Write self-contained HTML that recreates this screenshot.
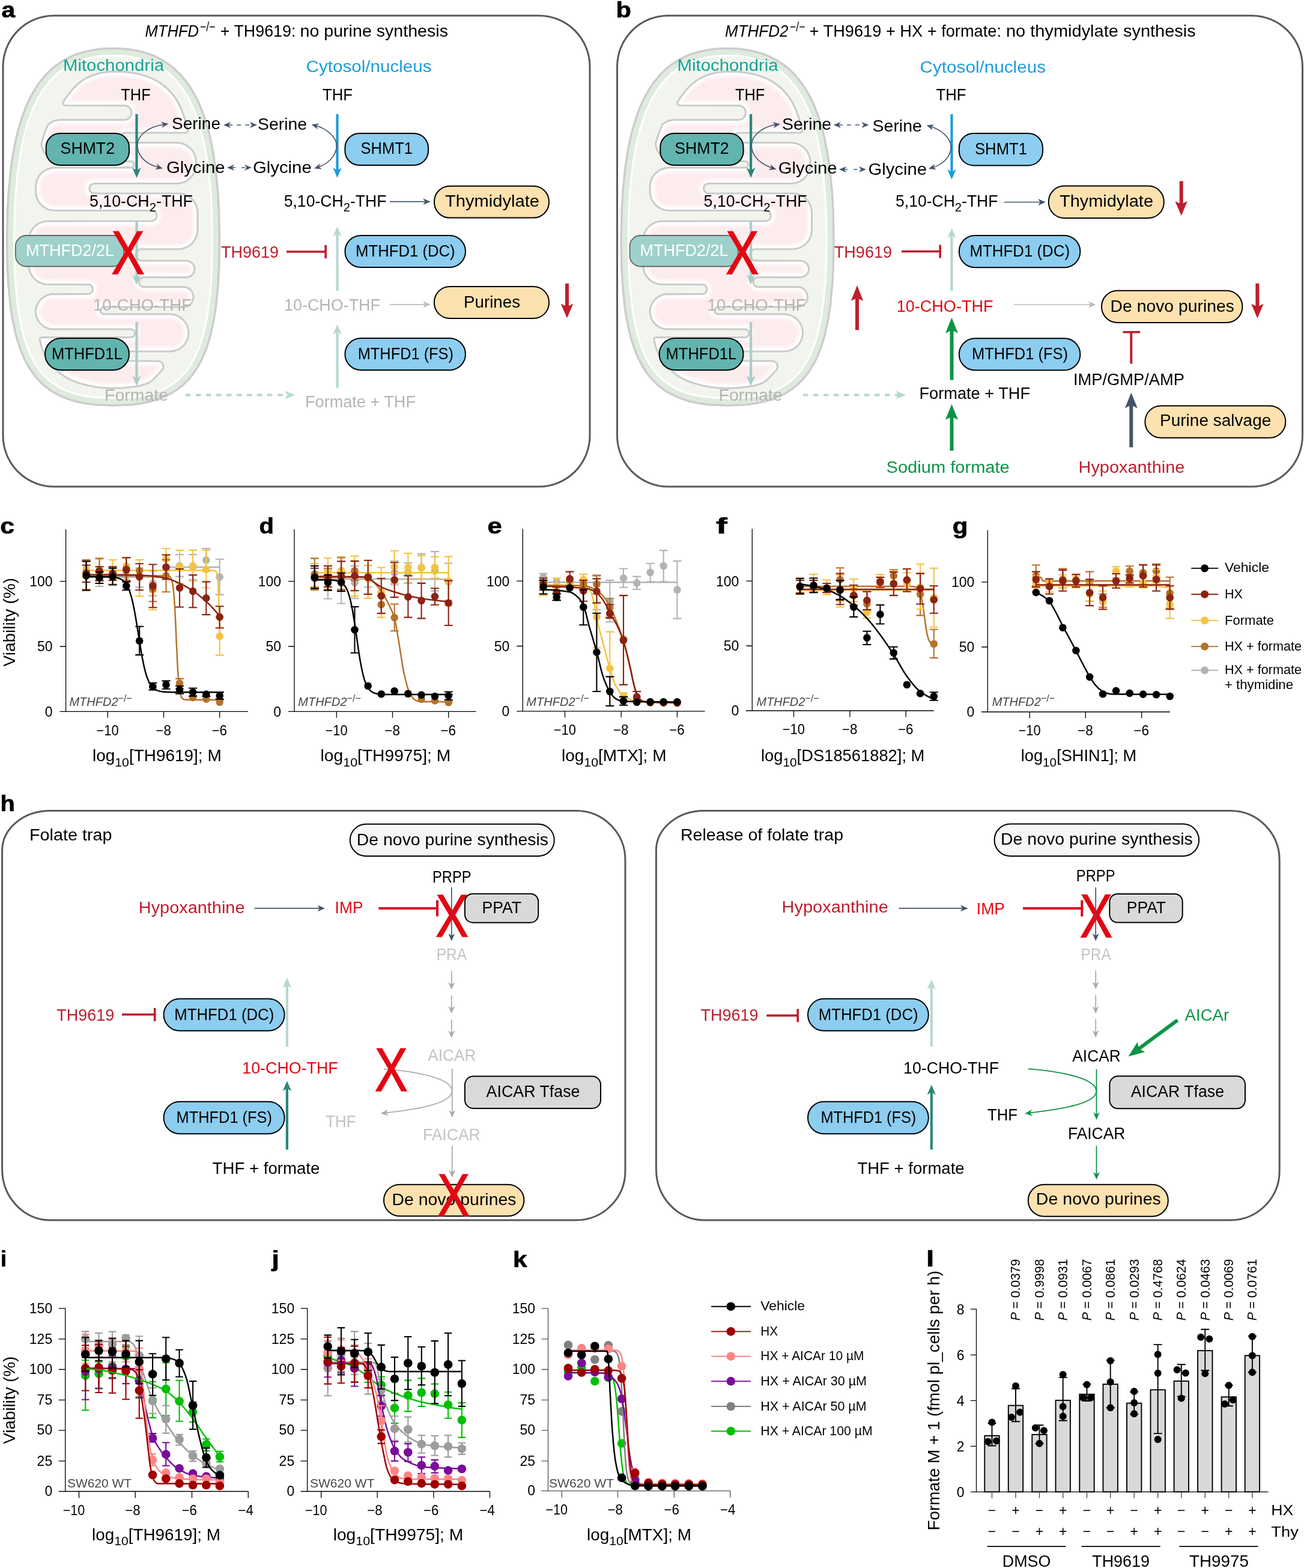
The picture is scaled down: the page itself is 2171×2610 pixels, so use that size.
<!DOCTYPE html>
<html lang="en"><head><meta charset="utf-8"><title>Figure</title>
<style>
html,body{margin:0;padding:0;background:#fff}
svg{display:block}
text{font-family:"Liberation Sans",sans-serif;white-space:pre}
</style></head><body>
<svg width="2171" height="2610" viewBox="0 0 2171 2610">
<rect width="2171" height="2610" fill="#fff"/>
<rect x="5" y="26" width="977" height="784" rx="85" ry="85" fill="#fff" stroke="#595959" stroke-width="3"/>
<text xml:space="preserve" x="2.4" y="28.6" font-size="36" fill="#000" font-weight="bold" stroke="#000" stroke-width="0.7" textLength="22.6" lengthAdjust="spacingAndGlyphs">a</text>
<text xml:space="preserve" x="241.5" y="60.8" font-size="27.5" fill="#000" font-style="italic" textLength="89.6" lengthAdjust="spacingAndGlyphs">MTHFD</text>
<text xml:space="preserve" x="333" y="51.5" font-size="22" fill="#000" textLength="25.6" lengthAdjust="spacingAndGlyphs">−/−</text>
<text xml:space="preserve" x="366.8" y="60.8" font-size="27.5" fill="#000" textLength="125.6" lengthAdjust="spacingAndGlyphs">+ TH9619:</text>
<text xml:space="preserve" x="499.5" y="60.8" font-size="27.5" fill="#000" textLength="246.5" lengthAdjust="spacingAndGlyphs">no purine synthesis</text>
<g transform="translate(0 0)">
<path d="M188.5,80.5 L207.0,81.3 L215.8,82.2 L232.7,85.3 L248.5,89.9 L256.0,92.9 L270.1,99.9 L283.3,108.7 L289.5,113.6 L301.0,124.9 L311.6,137.8 L316.5,144.9 L325.6,160.4 L333.8,177.7 L340.9,196.8 L347.1,217.8 L349.9,228.9 L354.7,252.6 L358.6,278.2 L362.8,320.2 L364.5,350.6 L365.5,400.0 L364.7,445.2 L363.2,472.7 L359.5,510.2 L356.0,532.7 L351.6,553.3 L349.1,563.0 L343.3,580.9 L336.6,597.0 L332.9,604.5 L324.6,618.1 L315.3,630.1 L304.9,640.6 L293.4,649.5 L287.2,653.5 L273.9,660.3 L259.4,665.7 L251.7,668.0 L235.3,671.5 L217.6,673.7 L188.5,675.0 L159.4,673.7 L141.7,671.5 L125.3,668.0 L117.6,665.7 L103.1,660.3 L89.8,653.5 L83.6,649.5 L72.1,640.6 L61.7,630.1 L56.9,624.3 L48.1,611.5 L40.4,597.0 L33.7,580.9 L27.9,563.0 L25.4,553.3 L21.0,532.7 L17.5,510.2 L13.8,472.7 L12.3,445.2 L11.5,400.0 L12.5,350.6 L14.2,320.2 L18.4,278.2 L22.3,252.6 L27.1,228.9 L29.9,217.8 L36.1,196.8 L43.2,177.7 L51.4,160.4 L60.5,144.9 L65.4,137.8 L76.0,124.9 L87.5,113.6 L93.7,108.7 L106.9,99.9 L121.0,92.9 L128.5,89.9 L144.3,85.3 L161.2,82.2 L170.0,81.3Z" fill="#deebdd" stroke="#cccccc" stroke-width="3.4" />
<path d="M188.5,92.5 L171.0,93.2 L162.7,94.1 L147.1,97.0 L132.6,101.3 L125.7,103.9 L112.9,110.3 L101.0,118.2 L95.4,122.7 L84.8,133.0 L75.1,144.9 L70.5,151.5 L62.0,166.0 L54.3,182.4 L50.8,191.3 L44.4,210.5 L38.8,231.6 L36.3,242.9 L32.1,267.0 L28.7,293.1 L26.1,321.1 L24.4,351.1 L23.5,400.0 L24.3,444.7 L25.7,471.8 L29.4,508.6 L32.8,530.5 L37.0,550.5 L42.1,568.5 L48.0,584.5 L51.2,591.9 L58.4,605.3 L66.4,617.0 L70.7,622.2 L80.0,631.6 L90.4,639.6 L101.8,646.4 L107.9,649.3 L121.2,654.3 L128.4,656.3 L143.7,659.6 L160.5,661.8 L188.5,663.0 L216.5,661.8 L233.3,659.6 L248.6,656.3 L255.8,654.3 L269.1,649.3 L275.2,646.4 L286.6,639.6 L297.0,631.6 L306.3,622.2 L310.6,617.0 L318.6,605.3 L325.8,591.9 L329.0,584.5 L334.9,568.5 L340.0,550.5 L344.2,530.5 L347.6,508.6 L351.3,471.8 L352.7,444.7 L353.5,400.0 L352.6,351.1 L350.9,321.1 L348.3,293.1 L344.9,267.0 L340.7,242.9 L338.2,231.6 L332.6,210.5 L326.2,191.3 L322.7,182.4 L315.0,166.0 L306.5,151.5 L301.9,144.9 L292.2,133.0 L281.6,122.7 L276.0,118.2 L264.1,110.3 L251.3,103.9 L244.4,101.3 L229.9,97.0 L214.3,94.1 L206.0,93.2Z" fill="#f1f5ee" stroke="#ffffff" stroke-width="3" />
<path d="M69.0,238.5 L69.4,242.9 L71.1,248.5 L72.6,251.8 L76.1,256.9 L80.2,261.1 L83.1,263.2 L88.6,266.1 L94.2,267.8 L100.8,268.5 L218.3,268.5 L220.3,268.9 L222.0,270.0 L223.1,271.7 L223.5,273.6 L223.2,275.4 L222.2,277.2 L220.6,278.5 L218.6,279.0 L91.4,279.0 L85.0,279.7 L76.6,282.7 L71.0,286.4 L66.9,290.5 L64.8,293.4 L62.0,298.5 L60.8,301.9 L59.5,310.9 L59.7,321.9 L60.8,327.6 L62.0,330.9 L64.8,336.1 L66.9,338.9 L71.0,343.1 L73.9,345.2 L79.0,348.0 L82.4,349.2 L91.4,350.5 L253.1,350.5 L256.2,351.5 L258.6,353.2 L260.3,355.9 L261.0,359.2 L260.3,362.6 L258.4,365.4 L255.6,367.3 L252.3,368.0 L76.7,368.2 L70.6,369.4 L64.8,371.9 L59.6,375.4 L55.4,379.6 L53.3,382.4 L50.5,387.6 L49.3,390.9 L48.2,396.7 L48.0,441.4 L48.6,447.6 L50.4,453.6 L53.3,459.1 L57.3,464.0 L62.0,468.0 L65.1,469.8 L70.9,472.2 L76.7,473.3 L148.8,473.6 L150.3,474.2 L152.7,476.4 L153.9,478.5 L154.5,480.7 L154.2,483.8 L152.8,486.4 L150.8,488.2 L147.9,489.4 L86.1,489.6 L80.0,490.8 L72.4,494.5 L67.9,498.2 L63.1,504.8 L60.8,510.1 L59.6,516.0 L59.7,521.8 L60.8,527.5 L64.3,534.8 L68.0,539.3 L72.3,542.9 L75.2,544.6 L80.4,546.8 L86.0,547.9 L217.9,548.0 L220.4,548.5 L222.5,549.9 L223.9,551.7 L224.6,554.1 L224.3,556.7 L222.9,559.2 L220.6,560.9 L217.9,561.5 L69.3,561.6 L67.9,562.2 L66.8,563.3 L66.3,566.2 L69.2,577.5 L73.2,587.8 L75.9,593.1 L82.0,602.6 L89.2,611.3 L97.4,619.2 L106.3,625.8 L111.3,629.0 L121.2,633.8 L132.0,637.7 L148.3,642.0 L159.5,644.1 L170.7,645.5 L187.3,646.3 L204.2,645.8 L221.1,644.0 L232.7,642.1 L243.9,638.8 L248.6,636.5 L253.5,633.0 L257.4,629.4 L270.2,615.7 L271.5,613.2 L272.0,610.1 L271.5,607.2 L270.1,604.5 L267.4,602.1 L263.6,601.0 L211.3,600.8 L207.9,599.2 L205.6,596.0 L205.0,592.2 L206.3,588.6 L208.7,586.3 L212.2,585.0 L283.1,585.0 L289.3,584.3 L297.4,581.4 L302.5,578.1 L306.9,573.8 L310.4,568.5 L312.7,562.8 L313.9,556.9 L313.8,550.7 L311.7,542.4 L308.9,537.0 L305.0,532.2 L300.3,528.3 L294.7,525.3 L288.8,523.6 L282.9,523.0 L172.6,523.0 L170.0,522.2 L168.0,520.3 L167.1,518.0 L167.3,515.3 L169.3,512.3 L171.1,511.3 L173.0,511.0 L306.7,510.9 L311.9,509.6 L314.7,508.1 L317.3,505.9 L319.9,502.4 L321.3,499.0 L322.0,494.5 L321.6,490.9 L320.6,487.7 L318.3,483.8 L315.7,481.2 L311.8,478.9 L308.7,478.0 L305.2,477.6 L238.7,477.6 L235.7,476.7 L233.4,474.8 L232.0,472.5 L231.5,469.4 L232.1,466.5 L233.7,464.1 L235.9,462.5 L238.7,461.6 L310.1,461.6 L315.3,460.6 L318.1,459.1 L321.0,456.4 L322.8,453.3 L323.8,450.3 L323.9,446.7 L323.3,443.6 L321.8,440.3 L319.1,437.3 L315.3,435.0 L310.3,434.0 L234.6,433.9 L231.1,432.8 L228.2,430.4 L226.4,427.1 L226.0,423.5 L226.7,420.6 L228.3,418.0 L231.0,415.8 L233.8,414.8 L300.0,414.5 L303.5,413.9 L309.1,412.2 L312.3,410.7 L317.1,407.5 L321.6,403.0 L325.1,397.9 L327.5,392.1 L328.4,388.6 L329.0,382.5 L329.0,354.1 L328.8,350.6 L327.7,344.9 L326.5,341.5 L323.7,336.4 L321.6,333.5 L317.5,329.4 L311.9,325.7 L306.5,323.5 L303.1,322.6 L296.9,322.0 L156.4,322.0 L153.2,321.0 L150.7,319.0 L149.2,316.1 L148.9,312.8 L149.7,310.0 L151.2,307.9 L153.7,306.2 L156.3,305.5 L294.6,305.5 L300.6,304.9 L306.5,303.1 L309.8,301.6 L314.9,298.1 L321.0,291.5 L324.1,285.5 L326.3,276.8 L326.4,266.5 L325.0,260.0 L321.2,251.9 L316.9,246.7 L309.8,241.4 L303.6,238.8 L294.6,237.5 L207.4,237.5 L204.5,236.6 L202.4,235.1 L200.7,232.6 L200.0,230.1 L200.4,226.8 L201.9,224.0 L204.4,222.0 L207.5,221.0 L309.1,221.0 L310.9,220.6 L312.7,218.7 L313.0,216.0 L307.7,197.5 L301.9,181.5 L297.0,171.3 L291.1,161.9 L287.5,157.2 L280.0,148.9 L275.6,144.9 L266.6,138.0 L257.0,132.4 L251.7,129.9 L241.2,126.0 L230.3,123.1 L219.2,120.9 L207.9,119.6 L196.6,119.0 L185.3,119.2 L174.1,120.3 L163.1,122.5 L152.2,126.0 L142.2,130.8 L137.1,134.0 L128.5,140.8 L120.5,149.1 L110.2,162.4 L105.1,170.1 L104.9,172.0 L105.6,173.8 L107.1,175.1 L108.9,175.5 L209.3,175.7 L211.8,176.5 L214.6,178.2 L216.9,180.7 L218.1,183.1 L218.9,186.3 L218.8,189.7 L218.0,192.3 L216.3,195.1 L212.5,198.2 L209.5,199.2 L207.1,199.5 L100.8,199.5 L97.3,199.7 L91.6,200.8 L85.5,203.4 L80.2,207.2 L74.6,220.5Z" fill="#ffffff" stroke="#cbcbcb" stroke-width="3.1" stroke-linejoin="round"/>
<path d="M53.6,397.5 L53.5,441.3 L54.0,446.6 L55.5,451.6 L57.9,456.2 L63.2,462.0 L69.9,466.0 L77.5,467.9 L149.6,468.1 L153.1,469.5 L156.6,472.6 L158.8,476.0 L159.9,479.7 L159.6,484.6 L157.6,489.1 L154.0,492.7 L149.4,494.7 L146.5,495.0 L86.5,495.1 L81.8,496.0 L75.6,499.0 L72.0,501.9 L69.0,505.6 L66.0,511.8 L65.1,516.5 L65.1,521.1 L66.8,527.8 L69.0,532.0 L73.6,537.1 L77.5,539.7 L81.8,541.5 L88.8,542.5 L219.1,542.6 L222.8,543.6 L226.2,545.8 L228.6,548.8 L229.9,552.5 L229.8,557.5 L227.6,562.2 L223.8,565.5 L219.0,566.9 L72.1,567.0 L74.4,575.8 L78.3,585.6 L83.4,594.9 L89.7,603.5 L97.0,611.4 L105.0,618.2 L109.4,621.4 L118.5,626.6 L128.4,630.7 L138.8,634.0 L149.5,636.6 L160.3,638.6 L171.2,640.0 L187.4,640.8 L198.4,640.6 L214.9,639.2 L226.0,637.7 L236.9,635.5 L245.3,632.1 L249.8,628.9 L253.4,625.6 L265.8,612.4 L266.5,609.6 L265.3,607.3 L262.8,606.5 L213.0,606.5 L208.9,605.9 L206.2,604.7 L203.8,602.9 L201.8,600.5 L200.5,598.0 L199.7,595.2 L199.5,592.0 L200.1,589.1 L201.3,586.4 L203.1,583.8 L205.5,581.8 L208.3,580.4 L211.7,579.6 L282.9,579.5 L288.0,579.0 L295.0,576.5 L299.1,573.7 L302.7,570.1 L305.5,566.0 L308.0,559.0 L308.5,553.9 L308.0,549.0 L305.5,542.0 L302.7,537.9 L299.2,534.3 L295.1,531.5 L290.3,529.6 L285.4,528.6 L171.1,528.3 L166.6,526.6 L163.4,523.3 L161.7,518.9 L161.9,514.1 L163.3,510.9 L165.6,508.2 L168.6,506.4 L172.0,505.5 L305.2,505.5 L309.5,504.7 L313.3,502.2 L315.1,499.6 L316.0,497.5 L316.5,494.4 L316.3,492.0 L315.2,489.1 L313.9,487.1 L311.6,485.0 L309.5,483.9 L305.2,483.1 L237.0,482.9 L232.7,481.3 L229.1,478.2 L226.7,473.8 L226.0,469.1 L227.0,464.6 L229.3,460.8 L233.0,457.8 L237.3,456.3 L310.0,456.1 L312.7,455.7 L314.8,454.7 L316.6,453.1 L318.3,449.4 L318.1,445.3 L317.1,443.2 L315.5,441.4 L312.7,439.9 L310.1,439.5 L232.7,439.2 L227.6,437.2 L223.8,433.7 L221.2,428.7 L220.5,423.3 L221.7,418.5 L224.2,414.4 L228.1,411.1 L232.6,409.4 L235.7,409.1 L299.5,409.0 L307.1,407.1 L313.8,403.1 L317.4,399.5 L320.3,395.1 L323.0,387.7 L323.5,382.4 L323.5,354.2 L322.3,346.3 L319.0,339.2 L313.9,333.6 L309.4,330.6 L302.1,328.0 L296.8,327.5 L155.7,327.4 L150.6,325.9 L146.6,322.7 L144.0,318.2 L143.3,313.3 L144.3,308.5 L147.0,304.4 L150.7,301.6 L155.4,300.1 L297.0,299.9 L302.2,298.8 L307.0,296.8 L311.4,293.9 L315.0,290.3 L317.9,285.9 L320.5,278.7 L321.0,273.3 L320.5,264.4 L319.0,259.4 L316.5,254.7 L311.4,249.1 L306.9,246.1 L299.7,243.5 L294.4,243.0 L206.8,242.9 L203.0,241.9 L199.5,239.9 L196.8,236.9 L195.1,233.3 L194.6,230.5 L194.6,227.5 L195.4,224.4 L196.6,221.9 L200.6,217.8 L203.1,216.5 L206.0,215.7 L307.2,215.5 L300.8,193.9 L296.9,183.7 L292.3,174.1 L286.6,165.0 L283.3,160.7 L276.1,152.8 L272.1,149.2 L267.9,145.7 L259.1,139.8 L254.4,137.2 L244.6,133.0 L234.3,129.7 L223.7,127.3 L212.9,125.6 L202.0,124.7 L191.1,124.5 L180.3,125.1 L164.4,127.8 L154.3,131.1 L149.4,133.2 L140.4,138.4 L136.2,141.5 L132.1,145.0 L124.7,152.6 L117.9,161.1 L111.6,170.0 L206.9,170.0 L210.7,170.4 L214.8,171.9 L218.1,174.0 L220.7,176.7 L223.0,180.4 L224.2,184.1 L224.5,187.8 L223.9,192.1 L222.4,195.7 L219.7,199.5 L216.7,202.1 L212.5,204.1 L208.6,204.9 L100.9,205.0 L95.6,205.5 L90.6,207.0 L84.8,210.3 L79.8,222.3 L74.8,238.2 L74.4,239.7 L75.3,244.1 L78.7,251.3 L83.8,256.9 L88.2,259.8 L93.1,261.9 L98.2,262.9 L220.2,263.2 L224.6,265.1 L227.7,268.7 L229.0,273.1 L228.2,277.9 L226.6,280.5 L224.5,282.5 L221.8,283.9 L218.9,284.5 L91.7,284.5 L86.3,285.0 L81.3,286.5 L76.8,288.9 L71.0,294.2 L68.1,298.6 L66.2,303.3 L65.0,311.1 L65.5,323.6 L68.2,331.0 L71.1,335.4 L74.7,339.0 L79.1,341.9 L83.9,343.9 L91.7,345.0 L254.1,345.1 L257.7,346.1 L261.2,348.1 L263.8,351.0 L265.5,354.1 L266.4,357.8 L266.3,361.7 L265.2,365.1 L263.1,368.5 L260.9,370.5 L258.1,372.2 L255.2,373.2 L252.4,373.5 L77.3,373.6 L72.4,374.6 L67.6,376.6 L61.2,381.3 L57.9,385.3 L55.5,389.8Z" fill="#fef4f5" stroke="none" stroke-width="1.5" />
<path d="M57.5,441.3 L58.5,448.0 L61.3,454.0 L65.7,458.9 L69.4,461.3 L73.5,463.0 L80.2,464.0 L150.1,464.2 L154.7,465.7 L158.9,469.1 L161.9,473.2 L163.6,477.8 L163.8,484.3 L161.6,490.3 L159.8,492.9 L157.3,495.3 L154.5,497.0 L151.3,498.3 L146.6,499.0 L86.8,499.1 L83.0,499.9 L77.8,502.3 L73.5,506.2 L71.3,509.4 L69.4,514.9 L69.0,518.7 L69.4,522.6 L71.3,528.0 L74.8,532.7 L77.8,535.2 L83.0,537.6 L89.0,538.5 L219.4,538.6 L224.1,539.7 L228.0,542.0 L231.1,545.4 L233.2,549.4 L234.0,552.9 L234.0,556.4 L233.3,559.9 L231.7,563.2 L229.5,566.1 L226.9,568.3 L223.7,569.9 L220.1,570.8 L77.2,571.0 L79.9,579.3 L84.2,588.4 L86.8,592.7 L92.7,600.9 L99.7,608.4 L107.5,615.1 L115.9,620.6 L120.3,623.0 L129.8,627.0 L145.1,631.5 L160.9,634.7 L176.8,636.5 L187.4,636.8 L203.5,636.3 L219.9,634.6 L235.8,631.6 L243.5,628.5 L247.2,625.9 L262.1,610.5 L212.6,610.5 L209.0,610.0 L205.3,608.7 L201.9,606.5 L199.1,603.6 L196.9,599.9 L195.8,596.0 L195.5,591.9 L196.3,587.9 L197.9,584.2 L200.6,580.6 L205.7,577.1 L211.7,575.6 L285.1,575.4 L289.2,574.6 L293.1,573.0 L296.6,570.6 L300.9,566.0 L302.8,562.2 L304.4,556.1 L304.4,551.9 L303.6,547.8 L302.0,543.9 L298.2,538.8 L293.1,535.1 L289.3,533.4 L282.8,532.5 L171.2,532.4 L166.3,531.0 L162.0,527.9 L158.9,523.5 L157.6,518.5 L158.2,512.5 L160.9,507.4 L165.3,503.5 L170.8,501.7 L305.1,501.5 L307.4,501.2 L309.3,500.3 L310.9,498.9 L312.2,496.4 L312.5,493.6 L311.3,490.3 L309.3,488.3 L306.0,487.1 L239.5,487.1 L234.4,486.3 L229.4,483.9 L225.3,479.9 L222.8,474.7 L222.0,469.4 L223.0,463.9 L225.7,458.8 L229.8,455.1 L234.8,452.7 L239.5,452.1 L310.6,452.1 L312.9,451.1 L314.3,449.1 L314.3,446.6 L312.9,444.5 L310.0,443.5 L235.8,443.5 L231.9,443.1 L228.6,442.1 L225.6,440.6 L220.9,436.5 L218.9,433.6 L217.5,430.5 L216.5,424.3 L217.5,418.1 L220.6,412.4 L225.0,408.3 L230.8,405.8 L235.7,405.1 L299.2,405.0 L305.6,403.4 L311.3,400.0 L315.7,395.1 L317.8,391.2 L319.1,387.0 L319.5,382.4 L319.5,354.2 L319.1,349.6 L316.8,343.4 L312.9,338.1 L309.5,335.3 L305.6,333.2 L301.4,331.9 L296.8,331.5 L154.9,331.4 L149.3,329.7 L144.5,326.3 L141.2,321.7 L139.5,316.1 L139.8,309.7 L140.8,306.6 L142.7,303.4 L144.8,300.9 L147.5,298.8 L150.5,297.3 L154.0,296.3 L296.7,295.9 L301.0,295.0 L305.1,293.3 L310.4,289.4 L313.2,286.0 L315.3,282.1 L316.9,275.7 L316.9,267.3 L316.0,263.0 L314.3,258.9 L311.9,255.2 L307.0,250.8 L303.1,248.7 L298.9,247.4 L294.3,247.0 L206.3,246.9 L201.5,245.6 L197.2,243.1 L193.9,239.6 L191.6,235.4 L190.7,231.6 L190.6,227.9 L191.3,224.1 L192.6,220.9 L194.7,217.8 L197.5,215.1 L200.9,213.1 L204.5,211.9 L208.3,211.5 L301.9,211.5 L295.2,190.2 L291.1,180.6 L286.2,171.6 L280.2,163.3 L273.3,155.7 L265.5,148.9 L261.3,146.0 L257.0,143.3 L248.0,138.7 L238.3,135.1 L228.1,132.3 L212.4,129.6 L201.8,128.7 L191.2,128.5 L175.5,129.7 L160.5,133.1 L151.2,136.8 L146.8,139.1 L142.6,141.7 L134.9,147.9 L127.7,155.2 L119.3,166.0 L207.0,166.0 L213.2,166.9 L217.3,168.7 L221.1,171.3 L224.6,175.2 L226.9,179.3 L228.1,183.5 L228.5,188.2 L227.7,193.3 L226.0,197.6 L223.2,201.6 L219.0,205.4 L213.9,207.9 L209.1,208.9 L100.9,209.0 L94.2,210.0 L88.0,213.0 L83.6,223.7 L80.2,233.9 L78.5,239.9 L79.9,245.1 L82.0,249.0 L84.8,252.4 L88.2,255.2 L92.1,257.3 L98.5,258.9 L221.1,259.3 L224.1,260.2 L227.0,261.9 L229.4,264.1 L231.2,266.8 L232.4,269.7 L233.0,273.0 L232.8,276.2 L232.0,279.2 L229.9,282.8 L227.0,285.6 L223.3,287.6 L219.3,288.5 L91.7,288.5 L87.1,288.9 L82.9,290.2 L79.0,292.3 L75.6,295.1 L72.8,298.5 L70.7,302.4 L69.4,306.6 L69.0,318.3 L70.0,325.0 L71.7,329.1 L74.1,332.8 L77.2,335.9 L80.9,338.3 L85.0,340.0 L89.3,340.9 L252.2,341.0 L256.9,341.6 L261.1,343.3 L264.7,345.9 L267.4,349.1 L269.3,352.9 L270.4,357.0 L270.4,361.3 L269.3,365.8 L267.3,369.6 L264.3,372.9 L260.9,375.3 L257.1,376.8 L252.8,377.5 L80.2,377.5 L73.5,378.5 L69.4,380.2 L64.1,384.1 L61.3,387.5 L58.5,393.5 L57.5,400.2Z" fill="#fdecee" stroke="none" stroke-width="1.5" />
</g>
<text xml:space="preserve" x="105" y="118" font-size="27" fill="#12a597" textLength="168" lengthAdjust="spacingAndGlyphs">Mitochondria</text>
<text xml:space="preserve" x="201.3" y="167.4" font-size="27" fill="#000" textLength="49.4" lengthAdjust="spacingAndGlyphs">THF</text>
<line x1="227.5" y1="190" x2="227.5" y2="284.37" stroke="#2a877b" stroke-width="4.2"/>
<polygon points="227.5,296 220.25,279 227.5,283.76 234.75,279" fill="#2a877b"/>
<path d="M228.3,244 C228.3,222 252.3,210 273.37,207.01" fill="none" stroke="#44546a" stroke-width="1.6" />
<polygon points="280.5,206 269.32,212.64 272.18,207.18 267.92,202.73" fill="#44546a"/>
<path d="M228.3,240 C228.3,262 246.3,274 264.04,278.67" fill="none" stroke="#44546a" stroke-width="1.6" />
<polygon points="271,280.5 258.12,282.28 262.88,278.36 260.67,272.61" fill="#44546a"/>
<rect x="76.7" y="222" width="138.3" height="53" rx="23" ry="23" fill="#62b4ae" stroke="#000" stroke-width="2"/>
<text xml:space="preserve" x="100.6" y="256" font-size="27" fill="#000" textLength="90.4" lengthAdjust="spacingAndGlyphs">SHMT2</text>
<text xml:space="preserve" x="286" y="214.6" font-size="27" fill="#000" textLength="81" lengthAdjust="spacingAndGlyphs">Serine</text>
<text xml:space="preserve" x="277" y="287.6" font-size="27" fill="#000" textLength="97.5" lengthAdjust="spacingAndGlyphs">Glycine</text>
<text xml:space="preserve" x="149" y="343.5" font-size="27" fill="#000" textLength="99.71" lengthAdjust="spacingAndGlyphs">5,10-CH</text>
<text xml:space="preserve" x="248.71" y="351.87" font-size="20.52" fill="#000" textLength="11.32" lengthAdjust="spacingAndGlyphs">2</text>
<text xml:space="preserve" x="260.03" y="343.5" font-size="27" fill="#000" textLength="60.97" lengthAdjust="spacingAndGlyphs">-THF</text>
<line x1="227.5" y1="368" x2="227.5" y2="462.37" stroke="#a9cdc8" stroke-width="4.2"/>
<polygon points="227.5,474 220.25,457 227.5,461.76 234.75,457" fill="#a9cdc8"/>
<rect x="25.8" y="392" width="180.2" height="51.5" rx="18" ry="18" fill="#9ed1cb" stroke="#666" stroke-width="1.8"/>
<text xml:space="preserve" x="43" y="426" font-size="27" fill="#fff" textLength="147" lengthAdjust="spacingAndGlyphs">MTHFD2/2L</text>
<text transform="translate(185.55 456) scale(0.81 1)" x="0" y="0" font-size="101.74" fill="#e30613" stroke="#e30613" stroke-width="1.6" stroke-linejoin="miter">X</text>
<text xml:space="preserve" x="155" y="516.8" font-size="27" fill="#b4b4b4" textLength="164" lengthAdjust="spacingAndGlyphs">10-CHO-THF</text>
<line x1="227.5" y1="536" x2="227.5" y2="630.87" stroke="#a9cdc8" stroke-width="4.2"/>
<polygon points="227.5,642.5 220.25,625.5 227.5,630.26 234.75,625.5" fill="#a9cdc8"/>
<rect x="75" y="563" width="140" height="53" rx="26.5" ry="26.5" fill="#62b4ae" stroke="#000" stroke-width="2"/>
<text xml:space="preserve" x="86" y="597.5" font-size="27" fill="#000" textLength="117.6" lengthAdjust="spacingAndGlyphs">MTHFD1L</text>
<text xml:space="preserve" x="174" y="666.7" font-size="27" fill="#b4b4b4" textLength="106" lengthAdjust="spacingAndGlyphs">Formate</text>
<line x1="380.21" y1="208" x2="419.79" y2="208" stroke="#44546a" stroke-width="1.7" stroke-dasharray="7 7"/>
<polygon points="428,208 416,213 419.36,208 416,203" fill="#44546a"/>
<polygon points="372,208 384,203 380.64,208 384,213" fill="#44546a"/>
<line x1="386.21" y1="279" x2="410.79" y2="279" stroke="#44546a" stroke-width="1.7" stroke-dasharray="6 10"/>
<polygon points="419,279 407,284 410.36,279 407,274" fill="#44546a"/>
<polygon points="378,279 390,274 386.64,279 390,284" fill="#44546a"/>
<line x1="309" y1="657.6" x2="478" y2="657.6" stroke="#b5d8d3" stroke-width="4" stroke-linecap="butt" stroke-dasharray="8.5 8.5"/>
<polygon points="491,657.6 474,664.6 478.76,657.6 474,650.6" fill="#b5d8d3"/>
<text xml:space="preserve" x="509.6" y="119.6" font-size="27" fill="#1b9ddb" textLength="208.9" lengthAdjust="spacingAndGlyphs">Cytosol/nucleus</text>
<text xml:space="preserve" x="537" y="167.4" font-size="27" fill="#000" textLength="50" lengthAdjust="spacingAndGlyphs">THF</text>
<line x1="561.5" y1="190" x2="561.5" y2="284.37" stroke="#1b9ddb" stroke-width="4.2"/>
<polygon points="561.5,296 554.25,279 561.5,283.76 568.75,279" fill="#1b9ddb"/>
<path d="M560.7,244 C560.7,226 540.7,213 525.59,209.24" fill="none" stroke="#44546a" stroke-width="1.6" />
<polygon points="518.6,207.5 531.45,205.55 526.75,209.53 529.04,215.25" fill="#44546a"/>
<path d="M560.7,240 C560.7,262 542.7,274 529.84,278.24" fill="none" stroke="#44546a" stroke-width="1.6" />
<polygon points="523,280.5 532.83,271.99 530.98,277.87 535.96,281.49" fill="#44546a"/>
<text xml:space="preserve" x="429" y="216" font-size="27" fill="#000" textLength="82" lengthAdjust="spacingAndGlyphs">Serine</text>
<text xml:space="preserve" x="421" y="287.6" font-size="27" fill="#000" textLength="97.7" lengthAdjust="spacingAndGlyphs">Glycine</text>
<rect x="574.4" y="222" width="138.6" height="53" rx="24" ry="24" fill="#8ccdf0" stroke="#000" stroke-width="2"/>
<text xml:space="preserve" x="600.6" y="256" font-size="27" fill="#000" textLength="86.4" lengthAdjust="spacingAndGlyphs">SHMT1</text>
<text xml:space="preserve" x="472.7" y="343.5" font-size="27" fill="#000" textLength="99.02" lengthAdjust="spacingAndGlyphs">5,10-CH</text>
<text xml:space="preserve" x="571.72" y="351.87" font-size="20.52" fill="#000" textLength="11.24" lengthAdjust="spacingAndGlyphs">2</text>
<text xml:space="preserve" x="582.96" y="343.5" font-size="27" fill="#000" textLength="60.54" lengthAdjust="spacingAndGlyphs">-THF</text>
<line x1="649" y1="335.7" x2="708.15" y2="335.7" stroke="#44546a" stroke-width="1.7"/>
<polygon points="716.7,335.7 704.2,341.1 707.7,335.7 704.2,330.3" fill="#44546a"/>
<rect x="723" y="309.7" width="191" height="52.9" rx="26" ry="26" fill="#fde1af" stroke="#000" stroke-width="2"/>
<text xml:space="preserve" x="741" y="343.5" font-size="27" fill="#000" textLength="157" lengthAdjust="spacingAndGlyphs">Thymidylate</text>
<text xml:space="preserve" x="368" y="428.6" font-size="27" fill="#be1e2d" textLength="96" lengthAdjust="spacingAndGlyphs">TH9619</text>
<line x1="477" y1="419" x2="544" y2="419" stroke="#be1e2d" stroke-width="3.6" stroke-linecap="butt"/>
<line x1="542.2" y1="408" x2="542.2" y2="430" stroke="#be1e2d" stroke-width="3.6" stroke-linecap="butt"/>
<line x1="561.5" y1="484" x2="561.5" y2="388.63" stroke="#b5d8d3" stroke-width="4.2"/>
<polygon points="561.5,377 568.75,394 561.5,389.24 554.25,394" fill="#b5d8d3"/>
<rect x="574.4" y="392" width="200.6" height="53" rx="26.5" ry="26.5" fill="#8ccdf0" stroke="#000" stroke-width="2"/>
<text xml:space="preserve" x="592" y="427" font-size="27" fill="#000" textLength="165.7" lengthAdjust="spacingAndGlyphs">MTHFD1 (DC)</text>
<text xml:space="preserve" x="473" y="516.8" font-size="27" fill="#b4b4b4" textLength="160" lengthAdjust="spacingAndGlyphs">10-CHO-THF</text>
<line x1="649" y1="506.8" x2="708.15" y2="506.8" stroke="#bcbcbc" stroke-width="1.7"/>
<polygon points="716.7,506.8 704.2,512.2 707.7,506.8 704.2,501.4" fill="#bcbcbc"/>
<rect x="723" y="477" width="191" height="53" rx="26" ry="26" fill="#fde1af" stroke="#000" stroke-width="2"/>
<text xml:space="preserve" x="772" y="511.6" font-size="27" fill="#000" textLength="94" lengthAdjust="spacingAndGlyphs">Purines</text>
<line x1="944" y1="472" x2="944" y2="511.36" stroke="#be1e2d" stroke-width="6"/>
<polygon points="944,529.6 933.75,505.6 944,510.4 954.25,505.6" fill="#be1e2d"/>
<line x1="561.5" y1="646" x2="561.5" y2="551.63" stroke="#b5d8d3" stroke-width="4.2"/>
<polygon points="561.5,540 568.75,557 561.5,552.24 554.25,557" fill="#b5d8d3"/>
<rect x="574.4" y="563" width="200.6" height="53" rx="26.5" ry="26.5" fill="#8ccdf0" stroke="#000" stroke-width="2"/>
<text xml:space="preserve" x="595.7" y="597.5" font-size="27" fill="#000" textLength="159.3" lengthAdjust="spacingAndGlyphs">MTHFD1 (FS)</text>
<text xml:space="preserve" x="508" y="677.6" font-size="27" fill="#b4b4b4" textLength="184" lengthAdjust="spacingAndGlyphs">Formate + THF</text>
<rect x="1027.5" y="26" width="1141" height="784" rx="85" ry="85" fill="#fff" stroke="#595959" stroke-width="3"/>
<text xml:space="preserve" x="1025.6" y="28.6" font-size="36" fill="#000" font-weight="bold" stroke="#000" stroke-width="0.7" textLength="25.4" lengthAdjust="spacingAndGlyphs">b</text>
<text xml:space="preserve" x="1207" y="60.8" font-size="27.5" fill="#000" font-style="italic" textLength="105.5" lengthAdjust="spacingAndGlyphs">MTHFD2</text>
<text xml:space="preserve" x="1315" y="51.5" font-size="22" fill="#000" textLength="25.5" lengthAdjust="spacingAndGlyphs">−/−</text>
<text xml:space="preserve" x="1347.6" y="60.8" font-size="27.5" fill="#000" textLength="319.4" lengthAdjust="spacingAndGlyphs">+ TH9619 + HX + formate:</text>
<text xml:space="preserve" x="1675" y="60.8" font-size="27.5" fill="#000" textLength="315.7" lengthAdjust="spacingAndGlyphs">no thymidylate synthesis</text>
<g transform="translate(1022.6 0)">
<path d="M188.5,80.5 L207.0,81.3 L215.8,82.2 L232.7,85.3 L248.5,89.9 L256.0,92.9 L270.1,99.9 L283.3,108.7 L289.5,113.6 L301.0,124.9 L311.6,137.8 L316.5,144.9 L325.6,160.4 L333.8,177.7 L340.9,196.8 L347.1,217.8 L349.9,228.9 L354.7,252.6 L358.6,278.2 L362.8,320.2 L364.5,350.6 L365.5,400.0 L364.7,445.2 L363.2,472.7 L359.5,510.2 L356.0,532.7 L351.6,553.3 L349.1,563.0 L343.3,580.9 L336.6,597.0 L332.9,604.5 L324.6,618.1 L315.3,630.1 L304.9,640.6 L293.4,649.5 L287.2,653.5 L273.9,660.3 L259.4,665.7 L251.7,668.0 L235.3,671.5 L217.6,673.7 L188.5,675.0 L159.4,673.7 L141.7,671.5 L125.3,668.0 L117.6,665.7 L103.1,660.3 L89.8,653.5 L83.6,649.5 L72.1,640.6 L61.7,630.1 L56.9,624.3 L48.1,611.5 L40.4,597.0 L33.7,580.9 L27.9,563.0 L25.4,553.3 L21.0,532.7 L17.5,510.2 L13.8,472.7 L12.3,445.2 L11.5,400.0 L12.5,350.6 L14.2,320.2 L18.4,278.2 L22.3,252.6 L27.1,228.9 L29.9,217.8 L36.1,196.8 L43.2,177.7 L51.4,160.4 L60.5,144.9 L65.4,137.8 L76.0,124.9 L87.5,113.6 L93.7,108.7 L106.9,99.9 L121.0,92.9 L128.5,89.9 L144.3,85.3 L161.2,82.2 L170.0,81.3Z" fill="#deebdd" stroke="#cccccc" stroke-width="3.4" />
<path d="M188.5,92.5 L171.0,93.2 L162.7,94.1 L147.1,97.0 L132.6,101.3 L125.7,103.9 L112.9,110.3 L101.0,118.2 L95.4,122.7 L84.8,133.0 L75.1,144.9 L70.5,151.5 L62.0,166.0 L54.3,182.4 L50.8,191.3 L44.4,210.5 L38.8,231.6 L36.3,242.9 L32.1,267.0 L28.7,293.1 L26.1,321.1 L24.4,351.1 L23.5,400.0 L24.3,444.7 L25.7,471.8 L29.4,508.6 L32.8,530.5 L37.0,550.5 L42.1,568.5 L48.0,584.5 L51.2,591.9 L58.4,605.3 L66.4,617.0 L70.7,622.2 L80.0,631.6 L90.4,639.6 L101.8,646.4 L107.9,649.3 L121.2,654.3 L128.4,656.3 L143.7,659.6 L160.5,661.8 L188.5,663.0 L216.5,661.8 L233.3,659.6 L248.6,656.3 L255.8,654.3 L269.1,649.3 L275.2,646.4 L286.6,639.6 L297.0,631.6 L306.3,622.2 L310.6,617.0 L318.6,605.3 L325.8,591.9 L329.0,584.5 L334.9,568.5 L340.0,550.5 L344.2,530.5 L347.6,508.6 L351.3,471.8 L352.7,444.7 L353.5,400.0 L352.6,351.1 L350.9,321.1 L348.3,293.1 L344.9,267.0 L340.7,242.9 L338.2,231.6 L332.6,210.5 L326.2,191.3 L322.7,182.4 L315.0,166.0 L306.5,151.5 L301.9,144.9 L292.2,133.0 L281.6,122.7 L276.0,118.2 L264.1,110.3 L251.3,103.9 L244.4,101.3 L229.9,97.0 L214.3,94.1 L206.0,93.2Z" fill="#f1f5ee" stroke="#ffffff" stroke-width="3" />
<path d="M69.0,238.5 L69.4,242.9 L71.1,248.5 L72.6,251.8 L76.1,256.9 L80.2,261.1 L83.1,263.2 L88.6,266.1 L94.2,267.8 L100.8,268.5 L218.3,268.5 L220.3,268.9 L222.0,270.0 L223.1,271.7 L223.5,273.6 L223.2,275.4 L222.2,277.2 L220.6,278.5 L218.6,279.0 L91.4,279.0 L85.0,279.7 L76.6,282.7 L71.0,286.4 L66.9,290.5 L64.8,293.4 L62.0,298.5 L60.8,301.9 L59.5,310.9 L59.7,321.9 L60.8,327.6 L62.0,330.9 L64.8,336.1 L66.9,338.9 L71.0,343.1 L73.9,345.2 L79.0,348.0 L82.4,349.2 L91.4,350.5 L253.1,350.5 L256.2,351.5 L258.6,353.2 L260.3,355.9 L261.0,359.2 L260.3,362.6 L258.4,365.4 L255.6,367.3 L252.3,368.0 L76.7,368.2 L70.6,369.4 L64.8,371.9 L59.6,375.4 L55.4,379.6 L53.3,382.4 L50.5,387.6 L49.3,390.9 L48.2,396.7 L48.0,441.4 L48.6,447.6 L50.4,453.6 L53.3,459.1 L57.3,464.0 L62.0,468.0 L65.1,469.8 L70.9,472.2 L76.7,473.3 L148.8,473.6 L150.3,474.2 L152.7,476.4 L153.9,478.5 L154.5,480.7 L154.2,483.8 L152.8,486.4 L150.8,488.2 L147.9,489.4 L86.1,489.6 L80.0,490.8 L72.4,494.5 L67.9,498.2 L63.1,504.8 L60.8,510.1 L59.6,516.0 L59.7,521.8 L60.8,527.5 L64.3,534.8 L68.0,539.3 L72.3,542.9 L75.2,544.6 L80.4,546.8 L86.0,547.9 L217.9,548.0 L220.4,548.5 L222.5,549.9 L223.9,551.7 L224.6,554.1 L224.3,556.7 L222.9,559.2 L220.6,560.9 L217.9,561.5 L69.3,561.6 L67.9,562.2 L66.8,563.3 L66.3,566.2 L69.2,577.5 L73.2,587.8 L75.9,593.1 L82.0,602.6 L89.2,611.3 L97.4,619.2 L106.3,625.8 L111.3,629.0 L121.2,633.8 L132.0,637.7 L148.3,642.0 L159.5,644.1 L170.7,645.5 L187.3,646.3 L204.2,645.8 L221.1,644.0 L232.7,642.1 L243.9,638.8 L248.6,636.5 L253.5,633.0 L257.4,629.4 L270.2,615.7 L271.5,613.2 L272.0,610.1 L271.5,607.2 L270.1,604.5 L267.4,602.1 L263.6,601.0 L211.3,600.8 L207.9,599.2 L205.6,596.0 L205.0,592.2 L206.3,588.6 L208.7,586.3 L212.2,585.0 L283.1,585.0 L289.3,584.3 L297.4,581.4 L302.5,578.1 L306.9,573.8 L310.4,568.5 L312.7,562.8 L313.9,556.9 L313.8,550.7 L311.7,542.4 L308.9,537.0 L305.0,532.2 L300.3,528.3 L294.7,525.3 L288.8,523.6 L282.9,523.0 L172.6,523.0 L170.0,522.2 L168.0,520.3 L167.1,518.0 L167.3,515.3 L169.3,512.3 L171.1,511.3 L173.0,511.0 L306.7,510.9 L311.9,509.6 L314.7,508.1 L317.3,505.9 L319.9,502.4 L321.3,499.0 L322.0,494.5 L321.6,490.9 L320.6,487.7 L318.3,483.8 L315.7,481.2 L311.8,478.9 L308.7,478.0 L305.2,477.6 L238.7,477.6 L235.7,476.7 L233.4,474.8 L232.0,472.5 L231.5,469.4 L232.1,466.5 L233.7,464.1 L235.9,462.5 L238.7,461.6 L310.1,461.6 L315.3,460.6 L318.1,459.1 L321.0,456.4 L322.8,453.3 L323.8,450.3 L323.9,446.7 L323.3,443.6 L321.8,440.3 L319.1,437.3 L315.3,435.0 L310.3,434.0 L234.6,433.9 L231.1,432.8 L228.2,430.4 L226.4,427.1 L226.0,423.5 L226.7,420.6 L228.3,418.0 L231.0,415.8 L233.8,414.8 L300.0,414.5 L303.5,413.9 L309.1,412.2 L312.3,410.7 L317.1,407.5 L321.6,403.0 L325.1,397.9 L327.5,392.1 L328.4,388.6 L329.0,382.5 L329.0,354.1 L328.8,350.6 L327.7,344.9 L326.5,341.5 L323.7,336.4 L321.6,333.5 L317.5,329.4 L311.9,325.7 L306.5,323.5 L303.1,322.6 L296.9,322.0 L156.4,322.0 L153.2,321.0 L150.7,319.0 L149.2,316.1 L148.9,312.8 L149.7,310.0 L151.2,307.9 L153.7,306.2 L156.3,305.5 L294.6,305.5 L300.6,304.9 L306.5,303.1 L309.8,301.6 L314.9,298.1 L321.0,291.5 L324.1,285.5 L326.3,276.8 L326.4,266.5 L325.0,260.0 L321.2,251.9 L316.9,246.7 L309.8,241.4 L303.6,238.8 L294.6,237.5 L207.4,237.5 L204.5,236.6 L202.4,235.1 L200.7,232.6 L200.0,230.1 L200.4,226.8 L201.9,224.0 L204.4,222.0 L207.5,221.0 L309.1,221.0 L310.9,220.6 L312.7,218.7 L313.0,216.0 L307.7,197.5 L301.9,181.5 L297.0,171.3 L291.1,161.9 L287.5,157.2 L280.0,148.9 L275.6,144.9 L266.6,138.0 L257.0,132.4 L251.7,129.9 L241.2,126.0 L230.3,123.1 L219.2,120.9 L207.9,119.6 L196.6,119.0 L185.3,119.2 L174.1,120.3 L163.1,122.5 L152.2,126.0 L142.2,130.8 L137.1,134.0 L128.5,140.8 L120.5,149.1 L110.2,162.4 L105.1,170.1 L104.9,172.0 L105.6,173.8 L107.1,175.1 L108.9,175.5 L209.3,175.7 L211.8,176.5 L214.6,178.2 L216.9,180.7 L218.1,183.1 L218.9,186.3 L218.8,189.7 L218.0,192.3 L216.3,195.1 L212.5,198.2 L209.5,199.2 L207.1,199.5 L100.8,199.5 L97.3,199.7 L91.6,200.8 L85.5,203.4 L80.2,207.2 L74.6,220.5Z" fill="#ffffff" stroke="#cbcbcb" stroke-width="3.1" stroke-linejoin="round"/>
<path d="M53.6,397.5 L53.5,441.3 L54.0,446.6 L55.5,451.6 L57.9,456.2 L63.2,462.0 L69.9,466.0 L77.5,467.9 L149.6,468.1 L153.1,469.5 L156.6,472.6 L158.8,476.0 L159.9,479.7 L159.6,484.6 L157.6,489.1 L154.0,492.7 L149.4,494.7 L146.5,495.0 L86.5,495.1 L81.8,496.0 L75.6,499.0 L72.0,501.9 L69.0,505.6 L66.0,511.8 L65.1,516.5 L65.1,521.1 L66.8,527.8 L69.0,532.0 L73.6,537.1 L77.5,539.7 L81.8,541.5 L88.8,542.5 L219.1,542.6 L222.8,543.6 L226.2,545.8 L228.6,548.8 L229.9,552.5 L229.8,557.5 L227.6,562.2 L223.8,565.5 L219.0,566.9 L72.1,567.0 L74.4,575.8 L78.3,585.6 L83.4,594.9 L89.7,603.5 L97.0,611.4 L105.0,618.2 L109.4,621.4 L118.5,626.6 L128.4,630.7 L138.8,634.0 L149.5,636.6 L160.3,638.6 L171.2,640.0 L187.4,640.8 L198.4,640.6 L214.9,639.2 L226.0,637.7 L236.9,635.5 L245.3,632.1 L249.8,628.9 L253.4,625.6 L265.8,612.4 L266.5,609.6 L265.3,607.3 L262.8,606.5 L213.0,606.5 L208.9,605.9 L206.2,604.7 L203.8,602.9 L201.8,600.5 L200.5,598.0 L199.7,595.2 L199.5,592.0 L200.1,589.1 L201.3,586.4 L203.1,583.8 L205.5,581.8 L208.3,580.4 L211.7,579.6 L282.9,579.5 L288.0,579.0 L295.0,576.5 L299.1,573.7 L302.7,570.1 L305.5,566.0 L308.0,559.0 L308.5,553.9 L308.0,549.0 L305.5,542.0 L302.7,537.9 L299.2,534.3 L295.1,531.5 L290.3,529.6 L285.4,528.6 L171.1,528.3 L166.6,526.6 L163.4,523.3 L161.7,518.9 L161.9,514.1 L163.3,510.9 L165.6,508.2 L168.6,506.4 L172.0,505.5 L305.2,505.5 L309.5,504.7 L313.3,502.2 L315.1,499.6 L316.0,497.5 L316.5,494.4 L316.3,492.0 L315.2,489.1 L313.9,487.1 L311.6,485.0 L309.5,483.9 L305.2,483.1 L237.0,482.9 L232.7,481.3 L229.1,478.2 L226.7,473.8 L226.0,469.1 L227.0,464.6 L229.3,460.8 L233.0,457.8 L237.3,456.3 L310.0,456.1 L312.7,455.7 L314.8,454.7 L316.6,453.1 L318.3,449.4 L318.1,445.3 L317.1,443.2 L315.5,441.4 L312.7,439.9 L310.1,439.5 L232.7,439.2 L227.6,437.2 L223.8,433.7 L221.2,428.7 L220.5,423.3 L221.7,418.5 L224.2,414.4 L228.1,411.1 L232.6,409.4 L235.7,409.1 L299.5,409.0 L307.1,407.1 L313.8,403.1 L317.4,399.5 L320.3,395.1 L323.0,387.7 L323.5,382.4 L323.5,354.2 L322.3,346.3 L319.0,339.2 L313.9,333.6 L309.4,330.6 L302.1,328.0 L296.8,327.5 L155.7,327.4 L150.6,325.9 L146.6,322.7 L144.0,318.2 L143.3,313.3 L144.3,308.5 L147.0,304.4 L150.7,301.6 L155.4,300.1 L297.0,299.9 L302.2,298.8 L307.0,296.8 L311.4,293.9 L315.0,290.3 L317.9,285.9 L320.5,278.7 L321.0,273.3 L320.5,264.4 L319.0,259.4 L316.5,254.7 L311.4,249.1 L306.9,246.1 L299.7,243.5 L294.4,243.0 L206.8,242.9 L203.0,241.9 L199.5,239.9 L196.8,236.9 L195.1,233.3 L194.6,230.5 L194.6,227.5 L195.4,224.4 L196.6,221.9 L200.6,217.8 L203.1,216.5 L206.0,215.7 L307.2,215.5 L300.8,193.9 L296.9,183.7 L292.3,174.1 L286.6,165.0 L283.3,160.7 L276.1,152.8 L272.1,149.2 L267.9,145.7 L259.1,139.8 L254.4,137.2 L244.6,133.0 L234.3,129.7 L223.7,127.3 L212.9,125.6 L202.0,124.7 L191.1,124.5 L180.3,125.1 L164.4,127.8 L154.3,131.1 L149.4,133.2 L140.4,138.4 L136.2,141.5 L132.1,145.0 L124.7,152.6 L117.9,161.1 L111.6,170.0 L206.9,170.0 L210.7,170.4 L214.8,171.9 L218.1,174.0 L220.7,176.7 L223.0,180.4 L224.2,184.1 L224.5,187.8 L223.9,192.1 L222.4,195.7 L219.7,199.5 L216.7,202.1 L212.5,204.1 L208.6,204.9 L100.9,205.0 L95.6,205.5 L90.6,207.0 L84.8,210.3 L79.8,222.3 L74.8,238.2 L74.4,239.7 L75.3,244.1 L78.7,251.3 L83.8,256.9 L88.2,259.8 L93.1,261.9 L98.2,262.9 L220.2,263.2 L224.6,265.1 L227.7,268.7 L229.0,273.1 L228.2,277.9 L226.6,280.5 L224.5,282.5 L221.8,283.9 L218.9,284.5 L91.7,284.5 L86.3,285.0 L81.3,286.5 L76.8,288.9 L71.0,294.2 L68.1,298.6 L66.2,303.3 L65.0,311.1 L65.5,323.6 L68.2,331.0 L71.1,335.4 L74.7,339.0 L79.1,341.9 L83.9,343.9 L91.7,345.0 L254.1,345.1 L257.7,346.1 L261.2,348.1 L263.8,351.0 L265.5,354.1 L266.4,357.8 L266.3,361.7 L265.2,365.1 L263.1,368.5 L260.9,370.5 L258.1,372.2 L255.2,373.2 L252.4,373.5 L77.3,373.6 L72.4,374.6 L67.6,376.6 L61.2,381.3 L57.9,385.3 L55.5,389.8Z" fill="#fef4f5" stroke="none" stroke-width="1.5" />
<path d="M57.5,441.3 L58.5,448.0 L61.3,454.0 L65.7,458.9 L69.4,461.3 L73.5,463.0 L80.2,464.0 L150.1,464.2 L154.7,465.7 L158.9,469.1 L161.9,473.2 L163.6,477.8 L163.8,484.3 L161.6,490.3 L159.8,492.9 L157.3,495.3 L154.5,497.0 L151.3,498.3 L146.6,499.0 L86.8,499.1 L83.0,499.9 L77.8,502.3 L73.5,506.2 L71.3,509.4 L69.4,514.9 L69.0,518.7 L69.4,522.6 L71.3,528.0 L74.8,532.7 L77.8,535.2 L83.0,537.6 L89.0,538.5 L219.4,538.6 L224.1,539.7 L228.0,542.0 L231.1,545.4 L233.2,549.4 L234.0,552.9 L234.0,556.4 L233.3,559.9 L231.7,563.2 L229.5,566.1 L226.9,568.3 L223.7,569.9 L220.1,570.8 L77.2,571.0 L79.9,579.3 L84.2,588.4 L86.8,592.7 L92.7,600.9 L99.7,608.4 L107.5,615.1 L115.9,620.6 L120.3,623.0 L129.8,627.0 L145.1,631.5 L160.9,634.7 L176.8,636.5 L187.4,636.8 L203.5,636.3 L219.9,634.6 L235.8,631.6 L243.5,628.5 L247.2,625.9 L262.1,610.5 L212.6,610.5 L209.0,610.0 L205.3,608.7 L201.9,606.5 L199.1,603.6 L196.9,599.9 L195.8,596.0 L195.5,591.9 L196.3,587.9 L197.9,584.2 L200.6,580.6 L205.7,577.1 L211.7,575.6 L285.1,575.4 L289.2,574.6 L293.1,573.0 L296.6,570.6 L300.9,566.0 L302.8,562.2 L304.4,556.1 L304.4,551.9 L303.6,547.8 L302.0,543.9 L298.2,538.8 L293.1,535.1 L289.3,533.4 L282.8,532.5 L171.2,532.4 L166.3,531.0 L162.0,527.9 L158.9,523.5 L157.6,518.5 L158.2,512.5 L160.9,507.4 L165.3,503.5 L170.8,501.7 L305.1,501.5 L307.4,501.2 L309.3,500.3 L310.9,498.9 L312.2,496.4 L312.5,493.6 L311.3,490.3 L309.3,488.3 L306.0,487.1 L239.5,487.1 L234.4,486.3 L229.4,483.9 L225.3,479.9 L222.8,474.7 L222.0,469.4 L223.0,463.9 L225.7,458.8 L229.8,455.1 L234.8,452.7 L239.5,452.1 L310.6,452.1 L312.9,451.1 L314.3,449.1 L314.3,446.6 L312.9,444.5 L310.0,443.5 L235.8,443.5 L231.9,443.1 L228.6,442.1 L225.6,440.6 L220.9,436.5 L218.9,433.6 L217.5,430.5 L216.5,424.3 L217.5,418.1 L220.6,412.4 L225.0,408.3 L230.8,405.8 L235.7,405.1 L299.2,405.0 L305.6,403.4 L311.3,400.0 L315.7,395.1 L317.8,391.2 L319.1,387.0 L319.5,382.4 L319.5,354.2 L319.1,349.6 L316.8,343.4 L312.9,338.1 L309.5,335.3 L305.6,333.2 L301.4,331.9 L296.8,331.5 L154.9,331.4 L149.3,329.7 L144.5,326.3 L141.2,321.7 L139.5,316.1 L139.8,309.7 L140.8,306.6 L142.7,303.4 L144.8,300.9 L147.5,298.8 L150.5,297.3 L154.0,296.3 L296.7,295.9 L301.0,295.0 L305.1,293.3 L310.4,289.4 L313.2,286.0 L315.3,282.1 L316.9,275.7 L316.9,267.3 L316.0,263.0 L314.3,258.9 L311.9,255.2 L307.0,250.8 L303.1,248.7 L298.9,247.4 L294.3,247.0 L206.3,246.9 L201.5,245.6 L197.2,243.1 L193.9,239.6 L191.6,235.4 L190.7,231.6 L190.6,227.9 L191.3,224.1 L192.6,220.9 L194.7,217.8 L197.5,215.1 L200.9,213.1 L204.5,211.9 L208.3,211.5 L301.9,211.5 L295.2,190.2 L291.1,180.6 L286.2,171.6 L280.2,163.3 L273.3,155.7 L265.5,148.9 L261.3,146.0 L257.0,143.3 L248.0,138.7 L238.3,135.1 L228.1,132.3 L212.4,129.6 L201.8,128.7 L191.2,128.5 L175.5,129.7 L160.5,133.1 L151.2,136.8 L146.8,139.1 L142.6,141.7 L134.9,147.9 L127.7,155.2 L119.3,166.0 L207.0,166.0 L213.2,166.9 L217.3,168.7 L221.1,171.3 L224.6,175.2 L226.9,179.3 L228.1,183.5 L228.5,188.2 L227.7,193.3 L226.0,197.6 L223.2,201.6 L219.0,205.4 L213.9,207.9 L209.1,208.9 L100.9,209.0 L94.2,210.0 L88.0,213.0 L83.6,223.7 L80.2,233.9 L78.5,239.9 L79.9,245.1 L82.0,249.0 L84.8,252.4 L88.2,255.2 L92.1,257.3 L98.5,258.9 L221.1,259.3 L224.1,260.2 L227.0,261.9 L229.4,264.1 L231.2,266.8 L232.4,269.7 L233.0,273.0 L232.8,276.2 L232.0,279.2 L229.9,282.8 L227.0,285.6 L223.3,287.6 L219.3,288.5 L91.7,288.5 L87.1,288.9 L82.9,290.2 L79.0,292.3 L75.6,295.1 L72.8,298.5 L70.7,302.4 L69.4,306.6 L69.0,318.3 L70.0,325.0 L71.7,329.1 L74.1,332.8 L77.2,335.9 L80.9,338.3 L85.0,340.0 L89.3,340.9 L252.2,341.0 L256.9,341.6 L261.1,343.3 L264.7,345.9 L267.4,349.1 L269.3,352.9 L270.4,357.0 L270.4,361.3 L269.3,365.8 L267.3,369.6 L264.3,372.9 L260.9,375.3 L257.1,376.8 L252.8,377.5 L80.2,377.5 L73.5,378.5 L69.4,380.2 L64.1,384.1 L61.3,387.5 L58.5,393.5 L57.5,400.2Z" fill="#fdecee" stroke="none" stroke-width="1.5" />
</g>
<text xml:space="preserve" x="1127.6" y="118" font-size="27" fill="#12a597" textLength="168" lengthAdjust="spacingAndGlyphs">Mitochondria</text>
<text xml:space="preserve" x="1223.9" y="167.4" font-size="27" fill="#000" textLength="49.4" lengthAdjust="spacingAndGlyphs">THF</text>
<line x1="1250.1" y1="190" x2="1250.1" y2="284.37" stroke="#2a877b" stroke-width="4.2"/>
<polygon points="1250.1,296 1242.85,279 1250.1,283.76 1257.35,279" fill="#2a877b"/>
<path d="M1250.9,244 C1250.9,222 1274.9,210 1291.87,207.53" fill="none" stroke="#44546a" stroke-width="1.6" />
<polygon points="1299,206.5 1287.84,213.17 1290.69,207.71 1286.41,203.28" fill="#44546a"/>
<path d="M1250.9,240 C1250.9,262 1268.9,274 1285.68,279.69" fill="none" stroke="#44546a" stroke-width="1.6" />
<polygon points="1292.5,282 1279.53,282.88 1284.54,279.3 1282.74,273.41" fill="#44546a"/>
<rect x="1099.3" y="222" width="138.3" height="53" rx="23" ry="23" fill="#62b4ae" stroke="#000" stroke-width="2"/>
<text xml:space="preserve" x="1123.2" y="256" font-size="27" fill="#000" textLength="90.4" lengthAdjust="spacingAndGlyphs">SHMT2</text>
<text xml:space="preserve" x="1302" y="215.5" font-size="27" fill="#000" textLength="82" lengthAdjust="spacingAndGlyphs">Serine</text>
<text xml:space="preserve" x="1295.8" y="289" font-size="27" fill="#000" textLength="97.7" lengthAdjust="spacingAndGlyphs">Glycine</text>
<text xml:space="preserve" x="1171.6" y="343.5" font-size="27" fill="#000" textLength="99.71" lengthAdjust="spacingAndGlyphs">5,10-CH</text>
<text xml:space="preserve" x="1271.31" y="351.87" font-size="20.52" fill="#000" textLength="11.32" lengthAdjust="spacingAndGlyphs">2</text>
<text xml:space="preserve" x="1282.63" y="343.5" font-size="27" fill="#000" textLength="60.97" lengthAdjust="spacingAndGlyphs">-THF</text>
<line x1="1250.1" y1="368" x2="1250.1" y2="462.37" stroke="#a9cdc8" stroke-width="4.2"/>
<polygon points="1250.1,474 1242.85,457 1250.1,461.76 1257.35,457" fill="#a9cdc8"/>
<rect x="1048.4" y="392" width="180.2" height="51.5" rx="18" ry="18" fill="#9ed1cb" stroke="#666" stroke-width="1.8"/>
<text xml:space="preserve" x="1065.6" y="426" font-size="27" fill="#fff" textLength="147" lengthAdjust="spacingAndGlyphs">MTHFD2/2L</text>
<text transform="translate(1208.15 456) scale(0.81 1)" x="0" y="0" font-size="101.74" fill="#e30613" stroke="#e30613" stroke-width="1.6" stroke-linejoin="miter">X</text>
<text xml:space="preserve" x="1177.6" y="516.8" font-size="27" fill="#b4b4b4" textLength="164" lengthAdjust="spacingAndGlyphs">10-CHO-THF</text>
<line x1="1250.1" y1="536" x2="1250.1" y2="630.87" stroke="#a9cdc8" stroke-width="4.2"/>
<polygon points="1250.1,642.5 1242.85,625.5 1250.1,630.26 1257.35,625.5" fill="#a9cdc8"/>
<rect x="1097.6" y="563" width="140" height="53" rx="26.5" ry="26.5" fill="#62b4ae" stroke="#000" stroke-width="2"/>
<text xml:space="preserve" x="1108.6" y="597.5" font-size="27" fill="#000" textLength="117.6" lengthAdjust="spacingAndGlyphs">MTHFD1L</text>
<text xml:space="preserve" x="1196.6" y="666.7" font-size="27" fill="#b4b4b4" textLength="106" lengthAdjust="spacingAndGlyphs">Formate</text>
<line x1="1396.01" y1="208" x2="1438.29" y2="208" stroke="#44546a" stroke-width="1.7" stroke-dasharray="7 7"/>
<polygon points="1446.5,208 1434.5,213 1437.86,208 1434.5,203" fill="#44546a"/>
<polygon points="1387.8,208 1399.8,203 1396.44,208 1399.8,213" fill="#44546a"/>
<line x1="1405.21" y1="282" x2="1433.79" y2="282" stroke="#44546a" stroke-width="1.7" stroke-dasharray="6 10"/>
<polygon points="1442,282 1430,287 1433.36,282 1430,277" fill="#44546a"/>
<polygon points="1397,282 1409,277 1405.64,282 1409,287" fill="#44546a"/>
<line x1="1337" y1="657.6" x2="1496" y2="657.6" stroke="#b5d8d3" stroke-width="4" stroke-linecap="butt" stroke-dasharray="8.5 8.5"/>
<polygon points="1508.4,657.6 1491.4,664.6 1496.16,657.6 1491.4,650.6" fill="#b5d8d3"/>
<text xml:space="preserve" x="1531.6" y="121" font-size="27" fill="#1b9ddb" textLength="209.4" lengthAdjust="spacingAndGlyphs">Cytosol/nucleus</text>
<text xml:space="preserve" x="1558.5" y="167" font-size="27" fill="#000" textLength="50" lengthAdjust="spacingAndGlyphs">THF</text>
<line x1="1584.5" y1="190" x2="1584.5" y2="287.17" stroke="#1b9ddb" stroke-width="4.2"/>
<polygon points="1584.5,298.8 1577.25,281.8 1584.5,286.56 1591.75,281.8" fill="#1b9ddb"/>
<path d="M1583.7,246 C1583.7,228 1563.7,215 1549.38,210.61" fill="none" stroke="#44546a" stroke-width="1.6" />
<polygon points="1542.5,208.5 1555.44,207.24 1550.53,210.96 1552.51,216.8" fill="#44546a"/>
<path d="M1583.7,242 C1583.7,264 1565.7,275 1552.89,278.9" fill="none" stroke="#44546a" stroke-width="1.6" />
<polygon points="1546,281 1556.02,272.72 1554.04,278.55 1558.94,282.29" fill="#44546a"/>
<text xml:space="preserve" x="1452.6" y="219" font-size="27" fill="#000" textLength="82.2" lengthAdjust="spacingAndGlyphs">Serine</text>
<text xml:space="preserve" x="1445.5" y="291" font-size="27" fill="#000" textLength="97.5" lengthAdjust="spacingAndGlyphs">Glycine</text>
<rect x="1596.8" y="222" width="139.2" height="53.4" rx="24" ry="24" fill="#8ccdf0" stroke="#000" stroke-width="2"/>
<text xml:space="preserve" x="1623" y="256.5" font-size="27" fill="#000" textLength="87" lengthAdjust="spacingAndGlyphs">SHMT1</text>
<text xml:space="preserve" x="1491" y="343.7" font-size="27" fill="#000" textLength="98.84" lengthAdjust="spacingAndGlyphs">5,10-CH</text>
<text xml:space="preserve" x="1589.84" y="352.07" font-size="20.52" fill="#000" textLength="11.22" lengthAdjust="spacingAndGlyphs">2</text>
<text xml:space="preserve" x="1601.06" y="343.7" font-size="27" fill="#000" textLength="60.44" lengthAdjust="spacingAndGlyphs">-THF</text>
<line x1="1672" y1="336.5" x2="1732.25" y2="336.5" stroke="#44546a" stroke-width="1.7"/>
<polygon points="1740.8,336.5 1728.3,341.9 1731.8,336.5 1728.3,331.1" fill="#44546a"/>
<rect x="1745.8" y="309.6" width="192" height="53.4" rx="26" ry="26" fill="#fde1af" stroke="#000" stroke-width="2"/>
<text xml:space="preserve" x="1764" y="344" font-size="27" fill="#000" textLength="156" lengthAdjust="spacingAndGlyphs">Thymidylate</text>
<line x1="1966.7" y1="301.5" x2="1966.7" y2="340.76" stroke="#be1e2d" stroke-width="6"/>
<polygon points="1966.7,359 1956.45,335 1966.7,339.8 1976.95,335" fill="#be1e2d"/>
<text xml:space="preserve" x="1388.8" y="428.6" font-size="27" fill="#be1e2d" textLength="96.2" lengthAdjust="spacingAndGlyphs">TH9619</text>
<line x1="1501" y1="418.5" x2="1567" y2="418.5" stroke="#be1e2d" stroke-width="3.6" stroke-linecap="butt"/>
<line x1="1565.2" y1="407.5" x2="1565.2" y2="429.5" stroke="#be1e2d" stroke-width="3.6" stroke-linecap="butt"/>
<line x1="1584.5" y1="484.5" x2="1584.5" y2="391.13" stroke="#b5d8d3" stroke-width="4.2"/>
<polygon points="1584.5,379.5 1591.75,396.5 1584.5,391.74 1577.25,396.5" fill="#b5d8d3"/>
<rect x="1596.8" y="392" width="201.6" height="53.3" rx="26.5" ry="26.5" fill="#8ccdf0" stroke="#000" stroke-width="2"/>
<text xml:space="preserve" x="1614.5" y="427" font-size="27" fill="#000" textLength="166.5" lengthAdjust="spacingAndGlyphs">MTHFD1 (DC)</text>
<text xml:space="preserve" x="1492.7" y="519" font-size="27" fill="#e30613" textLength="160.8" lengthAdjust="spacingAndGlyphs">10-CHO-THF</text>
<line x1="1427" y1="549.4" x2="1427" y2="494.76" stroke="#be1e2d" stroke-width="6"/>
<polygon points="1427,475 1437.25,501 1427,495.8 1416.75,501" fill="#be1e2d"/>
<line x1="1688" y1="507" x2="1815.95" y2="507" stroke="#bcbcbc" stroke-width="1.7"/>
<polygon points="1824.5,507 1812,512.4 1815.5,507 1812,501.6" fill="#bcbcbc"/>
<rect x="1834" y="483.7" width="234.4" height="53.3" rx="26.5" ry="26.5" fill="#fde1af" stroke="#000" stroke-width="2"/>
<text xml:space="preserve" x="1848.5" y="519" font-size="27" fill="#000" textLength="206.5" lengthAdjust="spacingAndGlyphs">De novo purines</text>
<line x1="2093.4" y1="471.8" x2="2093.4" y2="511.56" stroke="#be1e2d" stroke-width="6"/>
<polygon points="2093.4,529.8 2083.15,505.8 2093.4,510.6 2103.65,505.8" fill="#be1e2d"/>
<line x1="1584.5" y1="632.4" x2="1584.5" y2="548.46" stroke="#0b9444" stroke-width="6"/>
<polygon points="1584.5,528.7 1595,554.7 1584.5,549.5 1574,554.7" fill="#0b9444"/>
<rect x="1596.8" y="563.2" width="201.6" height="53" rx="26.5" ry="26.5" fill="#8ccdf0" stroke="#000" stroke-width="2"/>
<text xml:space="preserve" x="1618" y="597.5" font-size="27" fill="#000" textLength="160" lengthAdjust="spacingAndGlyphs">MTHFD1 (FS)</text>
<line x1="1883.3" y1="605.5" x2="1883.3" y2="551" stroke="#be1e2d" stroke-width="4" stroke-linecap="butt"/>
<line x1="1869.5" y1="552.8" x2="1898.3" y2="552.8" stroke="#be1e2d" stroke-width="3.6" stroke-linecap="butt"/>
<text xml:space="preserve" x="1787" y="641.2" font-size="27" fill="#000" textLength="185" lengthAdjust="spacingAndGlyphs">IMP/GMP/AMP</text>
<text xml:space="preserve" x="1530.5" y="663.9" font-size="27" fill="#000" textLength="184.5" lengthAdjust="spacingAndGlyphs">Formate + THF</text>
<line x1="1584.5" y1="750.3" x2="1584.5" y2="692.46" stroke="#0b9444" stroke-width="6"/>
<polygon points="1584.5,672.7 1595,698.7 1584.5,693.5 1574,698.7" fill="#0b9444"/>
<line x1="1883.3" y1="744.5" x2="1883.3" y2="673.26" stroke="#44546a" stroke-width="6"/>
<polygon points="1883.3,653.5 1893.8,679.5 1883.3,674.3 1872.8,679.5" fill="#44546a"/>
<rect x="1906.4" y="675.4" width="233.9" height="53.4" rx="26.5" ry="26.5" fill="#fde1af" stroke="#000" stroke-width="2"/>
<text xml:space="preserve" x="1931" y="709.2" font-size="27" fill="#000" textLength="185.3" lengthAdjust="spacingAndGlyphs">Purine salvage</text>
<text xml:space="preserve" x="1475.5" y="787.2" font-size="27" fill="#0b9444" textLength="205.3" lengthAdjust="spacingAndGlyphs">Sodium formate</text>
<text xml:space="preserve" x="1795.5" y="787.2" font-size="27" fill="#be1e2d" textLength="176.8" lengthAdjust="spacingAndGlyphs">Hypoxanthine</text>
<path d="M143.6,960.4 L146.4,960.4 L149.2,960.4 L152.0,960.4 L154.8,960.4 L157.6,960.4 L160.4,960.4 L163.2,960.4 L166.1,960.4 L168.9,960.4 L171.7,960.4 L174.5,960.4 L177.3,960.4 L180.1,960.4 L182.9,960.4 L185.7,960.4 L188.5,960.4 L191.4,960.4 L194.2,960.4 L197.0,960.4 L199.8,960.4 L202.6,960.4 L205.4,960.4 L208.2,960.4 L211.0,960.4 L213.9,960.4 L216.7,960.4 L219.5,960.4 L222.3,960.4 L225.1,960.4 L227.9,960.4 L230.7,960.4 L233.5,960.4 L236.4,960.4 L239.2,960.4 L242.0,960.4 L244.8,960.4 L247.6,960.4 L250.4,960.4 L253.2,960.4 L256.0,960.4 L258.8,960.4 L261.7,960.4 L264.5,960.4 L267.3,960.4 L270.1,960.4 L272.5,960.3 L272.7,960.3 L272.8,960.3 L272.9,960.3 L273.0,960.3 L273.1,960.3 L273.3,960.3 L273.4,960.3 L273.6,960.2 L273.7,960.2 L273.9,960.1 L274.0,960.1 L274.2,960.0 L274.4,959.9 L274.5,959.8 L274.7,959.7 L274.8,959.6 L275.0,959.4 L275.1,959.2 L275.3,958.9 L275.4,958.7 L275.6,958.3 L275.7,958.0 L275.7,957.9 L275.9,957.5 L276.0,956.9 L276.2,956.4 L276.4,955.7 L276.5,955.0 L276.7,954.2 L276.8,953.4 L277.0,952.6 L277.1,951.8 L277.3,951.0 L277.4,950.2 L277.6,949.4 L277.7,948.7 L277.9,948.0 L278.0,947.5 L278.2,946.9 L278.3,946.5 L278.5,946.1 L278.5,946.0 L278.7,945.7 L278.8,945.5 L279.0,945.2 L279.1,945.0 L279.3,944.8 L279.4,944.7 L279.6,944.6 L279.7,944.5 L279.9,944.4 L280.0,944.3 L280.2,944.3 L280.3,944.2 L280.5,944.2 L280.7,944.2 L280.8,944.1 L281.0,944.1 L281.1,944.1 L281.3,944.1 L281.3,944.1 L281.4,944.1 L281.6,944.1 L284.2,944.0 L287.0,944.0 L289.8,944.0 L292.6,944.0 L295.4,944.0 L298.2,944.0 L301.0,944.0 L303.8,944.0 L306.6,944.0 L309.5,944.0 L312.3,944.0 L315.1,944.0 L317.9,944.0 L320.7,944.0 L323.5,944.0 L326.3,944.0 L329.1,944.0 L332.0,944.0 L334.8,944.0 L337.6,944.0 L340.4,944.0 L343.2,944.0 L346.0,944.0 L348.8,944.0 L351.6,944.0 L354.4,944.0 L357.3,944.0 L360.1,944.0 L362.9,944.0 L365.7,944.0" fill="none" stroke="#b3b3b3" stroke-width="2.5" stroke-linejoin="round"/>
<path d="M165.5,943.3V976.0M158.5,943.3H172.5M158.5,976.0H172.5M187.6,944.5V972.7M180.6,944.5H194.6M180.6,972.7H194.6M232.2,945.8V977.3M225.2,945.8H239.2M225.2,977.3H239.2M254.4,950.8V991.6M247.4,950.8H261.4M247.4,991.6H261.4M299.0,923.1V959.6M292.0,923.1H306.0M292.0,959.6H306.0M321.1,923.1V964.7M314.1,923.1H328.1M314.1,964.7H328.1M343.3,913.0V950.8M336.3,913.0H350.3M336.3,950.8H350.3M365.7,930.7V989.9M358.7,930.7H372.7M358.7,989.9H372.7" fill="none" stroke="#b3b3b3" stroke-width="2.1"/>
<circle cx="143.6" cy="958.4" r="6.3" fill="#b3b3b3"/>
<circle cx="165.5" cy="959.6" r="6.3" fill="#b3b3b3"/>
<circle cx="187.6" cy="958.4" r="6.3" fill="#b3b3b3"/>
<circle cx="210.3" cy="958.4" r="6.3" fill="#b3b3b3"/>
<circle cx="232.2" cy="959.6" r="6.3" fill="#b3b3b3"/>
<circle cx="254.4" cy="971.0" r="6.3" fill="#b3b3b3"/>
<circle cx="276.5" cy="945.8" r="6.3" fill="#b3b3b3"/>
<circle cx="299.0" cy="942.0" r="6.3" fill="#b3b3b3"/>
<circle cx="321.1" cy="943.3" r="6.3" fill="#b3b3b3"/>
<circle cx="343.3" cy="932.4" r="6.3" fill="#b3b3b3"/>
<circle cx="365.7" cy="960.4" r="6.3" fill="#b3b3b3"/>
<path d="M143.6,949.6 L146.4,949.6 L149.2,949.6 L152.0,949.6 L154.8,949.6 L157.6,949.6 L160.4,949.6 L163.2,949.6 L166.1,949.6 L168.9,949.6 L171.7,949.6 L174.5,949.6 L177.3,949.6 L180.1,949.6 L182.9,949.6 L185.7,949.6 L188.5,949.6 L191.4,949.6 L194.2,949.6 L197.0,949.6 L199.8,949.6 L202.6,949.6 L205.4,949.6 L208.2,949.6 L211.0,949.6 L213.9,949.6 L216.7,949.6 L219.5,949.6 L222.3,949.6 L225.1,949.6 L227.9,949.6 L230.7,949.6 L233.5,949.6 L236.4,949.6 L239.2,949.6 L242.0,949.6 L244.8,949.6 L247.6,949.6 L250.4,949.6 L253.2,949.6 L256.0,949.6 L258.8,949.6 L261.7,949.6 L264.5,949.6 L267.3,949.6 L270.1,949.6 L272.9,949.6 L275.7,949.6 L278.5,949.6 L281.3,949.6 L284.2,949.6 L287.0,949.6 L289.8,949.6 L292.6,949.6 L295.4,949.6 L298.2,949.6 L301.0,949.6 L303.8,949.6 L306.6,949.6 L309.5,949.6 L312.3,949.6 L315.1,949.6 L317.9,949.6 L320.7,949.6 L323.5,949.6 L326.3,949.6 L329.1,949.6 L332.0,949.6 L334.8,949.6 L337.6,949.6 L340.4,949.6 L343.2,949.6 L346.0,949.6 L348.8,949.6 L351.6,949.6 L354.4,949.6 L357.3,949.8 L358.1,950.1 L358.3,950.2 L358.4,950.2 L358.5,950.3 L358.7,950.4 L358.8,950.5 L358.9,950.5 L359.0,950.7 L359.2,950.8 L359.3,950.9 L359.4,951.0 L359.5,951.2 L359.7,951.4 L359.8,951.6 L359.9,951.8 L360.1,952.0 L360.1,952.0 L360.2,952.3 L360.3,952.6 L360.4,952.9 L360.6,953.2 L360.7,953.6 L360.8,954.0 L361.0,954.5 L361.1,955.0 L361.2,955.6 L361.3,956.2 L361.5,956.9 L361.6,957.7 L361.7,958.5 L361.9,959.4 L362.0,960.4 L362.1,961.5 L362.2,962.7 L362.4,964.0 L362.5,965.4 L362.6,967.0 L362.8,968.7 L362.9,970.6 L362.9,970.7 L363.0,972.6 L363.1,974.8 L363.3,977.1 L363.4,979.7 L363.5,982.4 L363.6,985.3 L363.8,988.5 L363.9,991.8 L364.0,995.4 L364.2,999.2 L364.3,1003.2 L364.4,1007.4 L364.5,1011.8 L364.7,1016.5 L364.8,1021.3 L364.9,1026.2 L365.1,1031.4 L365.2,1036.6 L365.3,1042.0 L365.4,1047.4 L365.6,1053.0 L365.7,1058.5" fill="none" stroke="#f5c242" stroke-width="2.5" stroke-linejoin="round"/>
<path d="M143.6,933.2V960.9M136.6,933.2H150.6M136.6,960.9H150.6M165.5,930.7V971.0M158.5,930.7H172.5M158.5,971.0H172.5M187.6,931.9V972.2M180.6,931.9H194.6M180.6,972.2H194.6M210.3,928.2V955.9M203.3,928.2H217.3M203.3,955.9H217.3M232.2,931.9V992.4M225.2,931.9H239.2M225.2,992.4H239.2M254.4,960.9V1015.0M247.4,960.9H261.4M247.4,1015.0H261.4M276.5,913.0V948.3M269.5,913.0H283.5M269.5,948.3H283.5M299.0,916.1V971.0M292.0,916.1H306.0M292.0,971.0H306.0M321.1,915.6V967.2M314.1,915.6H328.1M314.1,967.2H328.1M343.3,915.6V978.5M336.3,915.6H350.3M336.3,978.5H350.3M365.7,1027.6V1090.6M358.7,1027.6H372.7M358.7,1090.6H372.7" fill="none" stroke="#f5c242" stroke-width="2.1"/>
<circle cx="143.6" cy="947.0" r="6.3" fill="#f5c242"/>
<circle cx="165.5" cy="950.8" r="6.3" fill="#f5c242"/>
<circle cx="187.6" cy="952.1" r="6.3" fill="#f5c242"/>
<circle cx="210.3" cy="942.0" r="6.3" fill="#f5c242"/>
<circle cx="232.2" cy="958.4" r="6.3" fill="#f5c242"/>
<circle cx="254.4" cy="982.3" r="6.3" fill="#f5c242"/>
<circle cx="276.5" cy="930.7" r="6.3" fill="#f5c242"/>
<circle cx="299.0" cy="943.3" r="6.3" fill="#f5c242"/>
<circle cx="321.1" cy="942.0" r="6.3" fill="#f5c242"/>
<circle cx="343.3" cy="947.8" r="6.3" fill="#f5c242"/>
<circle cx="365.7" cy="1059.1" r="6.3" fill="#f5c242"/>
<path d="M143.6,958.4 L146.5,958.4 L149.4,958.4 L152.3,958.4 L155.2,958.4 L158.1,958.4 L161.0,958.4 L163.9,958.4 L166.8,958.4 L169.7,958.4 L172.6,958.4 L175.5,958.4 L178.4,958.4 L181.3,958.4 L184.2,958.4 L187.1,958.4 L190.0,958.4 L192.9,958.4 L195.8,958.4 L198.7,958.4 L201.6,958.4 L204.5,958.4 L207.4,958.4 L210.3,958.4 L213.2,958.4 L216.1,958.4 L219.0,958.4 L221.9,958.4 L224.8,958.4 L227.7,958.4 L230.6,958.4 L233.5,958.4 L236.4,958.4 L239.3,958.4 L242.2,958.4 L245.1,958.4 L248.0,958.4 L250.9,958.4 L253.8,958.4 L256.7,958.4 L259.6,958.4 L262.5,958.4 L265.4,958.4 L268.3,958.4 L271.2,958.4 L274.1,958.4 L277.0,958.5 L279.8,958.9 L279.9,958.9 L280.3,959.0 L280.7,959.1 L281.2,959.3 L281.7,959.5 L282.1,959.8 L282.6,960.1 L282.8,960.3 L283.0,960.5 L283.5,960.9 L284.0,961.5 L284.4,962.2 L284.9,963.1 L285.3,964.1 L285.7,965.1 L285.8,965.3 L286.3,966.8 L286.7,968.7 L287.2,970.8 L287.7,973.4 L288.1,976.5 L288.6,980.2 L288.6,980.6 L289.0,984.5 L289.5,989.5 L290.0,995.3 L290.4,1001.8 L290.9,1009.2 L291.3,1017.4 L291.5,1020.8 L291.8,1026.4 L292.3,1035.9 L292.7,1046.0 L293.2,1056.4 L293.6,1066.9 L294.1,1077.3 L294.4,1084.1 L294.6,1087.3 L295.0,1096.9 L295.5,1105.8 L295.9,1114.0 L296.4,1121.4 L296.9,1128.0 L297.3,1133.6 L297.3,1133.8 L297.8,1138.8 L298.3,1143.1 L298.7,1146.7 L299.2,1149.8 L299.6,1152.4 L300.1,1154.6 L300.2,1155.1 L300.6,1156.4 L301.0,1157.9 L301.5,1159.2 L301.9,1160.2 L302.4,1161.1 L302.9,1161.8 L303.1,1162.1 L303.3,1162.3 L303.8,1162.8 L304.2,1163.2 L304.7,1163.5 L305.2,1163.7 L305.6,1164.0 L306.0,1164.1 L306.1,1164.1 L306.6,1164.3 L307.0,1164.4 L308.9,1164.7 L311.8,1164.8 L314.7,1164.9 L317.6,1164.9 L320.5,1164.9 L323.4,1164.9 L326.3,1164.9 L329.2,1164.9 L332.1,1164.9 L335.0,1164.9 L337.9,1164.9 L340.8,1164.9 L343.7,1164.9 L346.6,1164.9 L349.5,1164.9 L352.4,1164.9 L355.3,1164.9 L358.2,1164.9 L361.1,1164.9 L364.0,1164.9 L366.9,1164.9 L369.8,1164.9 L372.7,1164.9" fill="none" stroke="#b5722a" stroke-width="2.5" stroke-linejoin="round"/>
<path d="M143.6,931.9V981.0M136.6,931.9H150.6M136.6,981.0H150.6M165.5,929.4V967.2M158.5,929.4H172.5M158.5,967.2H172.5M210.3,928.2V965.9M203.3,928.2H217.3M203.3,965.9H217.3M254.4,958.4V1001.2M247.4,958.4H261.4M247.4,1001.2H261.4M276.5,931.9V985.3M269.5,931.9H283.5M269.5,985.3H283.5M299.0,1129.6V1146.0M292.0,1129.6H306.0M292.0,1146.0H306.0" fill="none" stroke="#b5722a" stroke-width="2.1"/>
<circle cx="143.6" cy="953.3" r="6.3" fill="#b5722a"/>
<circle cx="165.5" cy="949.6" r="6.3" fill="#b5722a"/>
<circle cx="187.6" cy="954.6" r="6.3" fill="#b5722a"/>
<circle cx="210.3" cy="947.0" r="6.3" fill="#b5722a"/>
<circle cx="232.2" cy="950.1" r="6.3" fill="#b5722a"/>
<circle cx="254.4" cy="979.8" r="6.3" fill="#b5722a"/>
<circle cx="276.5" cy="958.4" r="6.3" fill="#b5722a"/>
<circle cx="299.0" cy="1137.2" r="6.3" fill="#b5722a"/>
<circle cx="321.1" cy="1161.1" r="6.3" fill="#b5722a"/>
<circle cx="343.3" cy="1163.6" r="6.3" fill="#b5722a"/>
<circle cx="365.7" cy="1168.7" r="6.3" fill="#b5722a"/>
<path d="M143.6,956.4 L146.1,956.4 L148.6,956.4 L151.0,956.4 L153.5,956.4 L156.0,956.4 L158.5,956.4 L161.0,956.4 L163.5,956.4 L166.0,956.4 L168.5,956.4 L171.0,956.4 L173.5,956.5 L176.0,956.5 L178.5,956.5 L181.0,956.5 L183.5,956.5 L186.0,956.6 L188.5,956.6 L191.0,956.6 L193.5,956.6 L196.0,956.7 L198.5,956.7 L201.0,956.7 L203.5,956.7 L206.0,956.8 L208.5,956.8 L210.9,956.9 L213.4,956.9 L215.9,956.9 L218.4,957.0 L220.9,957.0 L223.4,957.1 L225.9,957.1 L228.4,957.2 L230.9,957.2 L233.4,957.4 L235.9,957.5 L238.4,957.7 L240.9,957.9 L243.4,958.1 L245.9,958.3 L248.4,958.5 L250.9,958.8 L253.4,959.0 L255.9,959.3 L258.4,959.6 L260.9,959.9 L263.4,960.3 L265.9,960.6 L268.4,961.1 L270.9,961.5 L273.3,962.0 L275.8,962.5 L278.3,963.1 L280.8,963.8 L283.3,964.6 L285.8,965.4 L288.3,966.4 L290.8,967.4 L293.3,968.5 L295.8,969.6 L298.3,970.7 L300.8,971.8 L303.3,973.0 L305.8,974.3 L308.3,975.7 L310.8,977.1 L313.3,978.6 L315.8,980.1 L318.3,981.7 L320.8,983.3 L323.3,985.0 L325.8,986.8 L328.3,988.6 L330.8,990.5 L333.2,992.5 L335.7,994.6 L338.2,996.7 L340.7,998.9 L343.2,1001.1 L345.7,1003.5 L348.2,1005.9 L350.7,1008.5 L353.2,1011.1 L355.7,1013.9 L358.2,1016.7 L360.7,1019.6 L363.2,1022.6 L365.7,1025.6" fill="none" stroke="#8b2311" stroke-width="2.5" stroke-linejoin="round"/>
<path d="M143.6,940.7V969.0M136.6,940.7H150.6M136.6,969.0H150.6M165.5,943.3V965.9M158.5,943.3H172.5M158.5,965.9H172.5M187.6,943.3V965.9M180.6,943.3H194.6M180.6,965.9H194.6M210.3,928.2V968.4M203.3,928.2H217.3M203.3,968.4H217.3M232.2,938.2V982.3M225.2,938.2H239.2M225.2,982.3H239.2M254.4,939.5V1011.3M247.4,939.5H261.4M247.4,1011.3H261.4M276.5,923.6V964.2M269.5,923.6H283.5M269.5,964.2H283.5M299.0,947.0V1010.5M292.0,947.0H306.0M292.0,1010.5H306.0M321.1,957.1V1011.3M314.1,957.1H328.1M314.1,1011.3H328.1M343.3,968.4V1023.1M336.3,968.4H350.3M336.3,1023.1H350.3M365.7,1009.2V1045.3M358.7,1009.2H372.7M358.7,1045.3H372.7" fill="none" stroke="#8b2311" stroke-width="2.1"/>
<circle cx="143.6" cy="954.6" r="6.3" fill="#8b2311"/>
<circle cx="165.5" cy="950.8" r="6.3" fill="#8b2311"/>
<circle cx="187.6" cy="954.6" r="6.3" fill="#8b2311"/>
<circle cx="210.3" cy="948.8" r="6.3" fill="#8b2311"/>
<circle cx="232.2" cy="960.1" r="6.3" fill="#8b2311"/>
<circle cx="254.4" cy="975.2" r="6.3" fill="#8b2311"/>
<circle cx="276.5" cy="944.0" r="6.3" fill="#8b2311"/>
<circle cx="299.0" cy="978.5" r="6.3" fill="#8b2311"/>
<circle cx="321.1" cy="984.1" r="6.3" fill="#8b2311"/>
<circle cx="343.3" cy="995.6" r="6.3" fill="#8b2311"/>
<circle cx="365.7" cy="1027.1" r="6.3" fill="#8b2311"/>
<path d="M143.6,960.1 L146.5,960.1 L149.4,960.1 L152.3,960.1 L155.2,960.1 L158.1,960.1 L161.0,960.2 L163.9,960.2 L166.8,960.2 L169.7,960.2 L172.6,960.2 L175.5,960.3 L178.4,960.3 L181.3,960.4 L184.2,960.6 L185.1,960.6 L186.7,960.7 L187.1,960.8 L188.2,960.8 L189.7,961.0 L190.0,961.0 L191.3,961.2 L192.8,961.4 L192.9,961.5 L194.3,961.7 L195.8,962.1 L195.9,962.1 L197.4,962.5 L198.7,963.0 L198.9,963.1 L200.5,963.7 L201.6,964.3 L202.0,964.5 L203.6,965.5 L204.5,966.1 L205.1,966.6 L206.6,968.0 L207.4,968.8 L208.2,969.7 L209.7,971.7 L210.3,972.6 L211.2,974.2 L212.8,977.0 L213.2,977.9 L214.3,980.4 L215.9,984.4 L216.1,985.1 L217.4,989.1 L218.9,994.5 L219.0,994.7 L220.5,1000.6 L221.9,1007.0 L222.0,1007.5 L223.5,1015.1 L224.8,1021.8 L225.1,1023.4 L226.6,1032.3 L227.7,1038.9 L228.1,1041.7 L229.7,1051.3 L230.6,1057.1 L231.2,1061.1 L232.8,1070.8 L233.5,1075.3 L234.3,1080.1 L235.8,1089.0 L236.4,1092.2 L237.4,1097.4 L238.9,1105.0 L239.3,1106.8 L240.4,1111.9 L242.0,1118.0 L242.2,1118.8 L243.5,1123.3 L245.0,1128.0 L245.1,1128.1 L246.6,1132.0 L248.0,1135.2 L248.1,1135.4 L249.7,1138.3 L250.9,1140.3 L251.2,1140.7 L252.7,1142.7 L253.8,1143.9 L254.3,1144.4 L255.8,1145.8 L256.7,1146.5 L257.3,1147.0 L258.9,1147.9 L259.6,1148.3 L260.4,1148.7 L262.0,1149.4 L262.5,1149.6 L263.5,1149.9 L265.0,1150.3 L265.4,1150.4 L266.6,1150.7 L268.1,1151.0 L268.3,1151.0 L269.6,1151.2 L271.2,1151.4 L271.2,1151.4 L272.7,1151.6 L274.1,1151.7 L274.2,1151.7 L275.8,1151.8 L277.0,1151.9 L279.9,1152.0 L282.8,1152.1 L285.7,1152.2 L288.6,1152.2 L291.5,1152.2 L294.4,1152.3 L297.3,1152.3 L300.2,1152.3 L303.1,1152.3 L306.0,1152.3 L308.9,1152.3 L311.8,1152.3 L314.7,1152.3 L317.6,1152.3 L320.5,1152.3 L323.4,1152.3 L326.3,1152.3 L329.2,1152.3 L332.1,1152.3 L335.0,1152.3 L337.9,1152.3 L340.8,1152.3 L343.7,1152.3 L346.6,1152.3 L349.5,1152.3 L352.4,1152.3 L355.3,1152.3 L358.2,1152.3 L361.1,1152.3 L364.0,1152.3 L366.9,1152.3 L369.8,1152.3 L372.7,1152.3" fill="none" stroke="#000" stroke-width="2.5" stroke-linejoin="round"/>
<path d="M143.6,934.4V982.8M136.6,934.4H150.6M136.6,982.8H150.6M165.5,952.1V971.0M158.5,952.1H172.5M158.5,971.0H172.5M187.6,945.8V973.5M180.6,945.8H194.6M180.6,973.5H194.6M210.3,968.4V982.3M203.3,968.4H217.3M203.3,982.3H217.3M232.2,1042.7V1090.1M225.2,1042.7H239.2M225.2,1090.1H239.2M254.4,1136.7V1148.5M247.4,1136.7H261.4M247.4,1148.5H261.4M276.5,1133.4V1146.8M269.5,1133.4H283.5M269.5,1146.8H283.5M299.0,1141.7V1154.8M292.0,1141.7H306.0M292.0,1154.8H306.0M321.1,1145.5V1158.6M314.1,1145.5H328.1M314.1,1158.6H328.1M343.3,1152.3V1158.9M336.3,1152.3H350.3M336.3,1158.9H350.3M365.7,1152.3V1163.6M358.7,1152.3H372.7M358.7,1163.6H372.7" fill="none" stroke="#000" stroke-width="2.1"/>
<circle cx="143.6" cy="958.4" r="6.3" fill="#000"/>
<circle cx="165.5" cy="961.4" r="6.3" fill="#000"/>
<circle cx="187.6" cy="960.1" r="6.3" fill="#000"/>
<circle cx="210.3" cy="975.2" r="6.3" fill="#000"/>
<circle cx="232.2" cy="1066.7" r="6.3" fill="#000"/>
<circle cx="254.4" cy="1143.0" r="6.3" fill="#000"/>
<circle cx="276.5" cy="1139.7" r="6.3" fill="#000"/>
<circle cx="299.0" cy="1148.0" r="6.3" fill="#000"/>
<circle cx="321.1" cy="1152.3" r="6.3" fill="#000"/>
<circle cx="343.3" cy="1155.6" r="6.3" fill="#000"/>
<circle cx="365.7" cy="1158.1" r="6.3" fill="#000"/>
<path d="M109.6,881.0V1185.0M99.5,1184.3H413.0M99.6,967.7H109.6M99.6,1076.0H109.6M99.6,1184.3H109.6M179.3,1184.3V1194.8M272.5,1184.3V1194.8M365.7,1184.3V1194.8" fill="none" stroke="#000" stroke-width="1.3"/>
<text x="87.6" y="976" font-size="23" text-anchor="end">100</text>
<text x="87.6" y="1084.3" font-size="23" text-anchor="end">50</text>
<text x="87.6" y="1192.6" font-size="23" text-anchor="end">0</text>
<text xml:space="preserve" x="160.5" y="1223.6" font-size="23" fill="#000" textLength="37.2" lengthAdjust="spacingAndGlyphs">−10</text>
<text xml:space="preserve" x="259.3" y="1223.6" font-size="23" fill="#000" textLength="25.6" lengthAdjust="spacingAndGlyphs">−8</text>
<text xml:space="preserve" x="352.5" y="1223.6" font-size="23" fill="#000" textLength="25.6" lengthAdjust="spacingAndGlyphs">−6</text>
<text xml:space="preserve" x="0.3" y="887.9" font-size="36" fill="#000" font-weight="bold" stroke="#000" stroke-width="0.7" textLength="23.7" lengthAdjust="spacingAndGlyphs">c</text>
<text xml:space="preserve" x="154" y="1267.2" font-size="27" fill="#000" textLength="37.3" lengthAdjust="spacingAndGlyphs">log</text>
<text xml:space="preserve" x="191.3" y="1275.57" font-size="20.52" fill="#000" textLength="23.63" lengthAdjust="spacingAndGlyphs">10</text>
<text xml:space="preserve" x="214.92" y="1267.2" font-size="27" fill="#000" textLength="153.78" lengthAdjust="spacingAndGlyphs">[TH9619]; M</text>
<text xml:space="preserve" x="115.4" y="1175.3" font-size="21" fill="#444" font-style="italic" textLength="81.16" lengthAdjust="spacingAndGlyphs">MTHFD2</text>
<text xml:space="preserve" x="196.56" y="1167.74" font-size="17.01" fill="#444" textLength="23.44" lengthAdjust="spacingAndGlyphs">−/−</text>
<text transform="translate(24.5 1109.5) rotate(-90)" x="0" y="0" font-size="27" textLength="147.5" lengthAdjust="spacingAndGlyphs">Viability (%)</text>
<path d="M523.8,963.9 L746.7,963.9" fill="none" stroke="#b3b3b3" stroke-width="2.5" stroke-linejoin="round"/>
<path d="M545.9,948.3V996.7M538.9,948.3H552.9M538.9,996.7H552.9M568.1,950.8V1004.5M561.1,950.8H575.1M561.1,1004.5H575.1M590.5,942.0V996.2M583.5,942.0H597.5M583.5,996.2H597.5M612.7,941.2V977.3M605.7,941.2H619.7M605.7,977.3H619.7M656.7,933.7V973.5M649.7,933.7H663.7M649.7,973.5H663.7M679.4,937.0V971.0M672.4,937.0H686.4M672.4,971.0H686.4M701.6,921.9V969.7M694.6,921.9H708.6M694.6,969.7H708.6M724.0,918.1V983.6M717.0,918.1H731.0M717.0,983.6H731.0M746.7,937.5V999.2M739.7,937.5H753.7M739.7,999.2H753.7" fill="none" stroke="#b3b3b3" stroke-width="2.1"/>
<circle cx="523.8" cy="958.4" r="6.3" fill="#b3b3b3"/>
<circle cx="545.9" cy="965.9" r="6.3" fill="#b3b3b3"/>
<circle cx="568.1" cy="971.0" r="6.3" fill="#b3b3b3"/>
<circle cx="590.5" cy="969.7" r="6.3" fill="#b3b3b3"/>
<circle cx="612.7" cy="958.4" r="6.3" fill="#b3b3b3"/>
<circle cx="634.8" cy="986.1" r="6.3" fill="#b3b3b3"/>
<circle cx="656.7" cy="953.3" r="6.3" fill="#b3b3b3"/>
<circle cx="679.4" cy="953.8" r="6.3" fill="#b3b3b3"/>
<circle cx="701.6" cy="945.0" r="6.3" fill="#b3b3b3"/>
<circle cx="724.0" cy="950.1" r="6.3" fill="#b3b3b3"/>
<circle cx="746.7" cy="968.4" r="6.3" fill="#b3b3b3"/>
<path d="M523.8,953.3 L746.7,953.3" fill="none" stroke="#f5c242" stroke-width="2.5" stroke-linejoin="round"/>
<path d="M523.8,938.2V976.0M516.8,938.2H530.8M516.8,976.0H530.8M545.9,928.7V976.0M538.9,928.7H552.9M538.9,976.0H552.9M568.1,926.9V971.0M561.1,926.9H575.1M561.1,971.0H575.1M590.5,925.6V992.4M583.5,925.6H597.5M583.5,992.4H597.5M612.7,940.7V995.6M605.7,940.7H619.7M605.7,995.6H619.7M634.8,944.5V1027.6M627.8,944.5H641.8M627.8,1027.6H641.8M656.7,916.8V971.0M649.7,916.8H663.7M649.7,971.0H663.7M679.4,921.1V969.7M672.4,921.1H686.4M672.4,969.7H686.4M701.6,924.9V963.4M694.6,924.9H708.6M694.6,963.4H708.6M724.0,926.9V962.2M717.0,926.9H731.0M717.0,962.2H731.0M746.7,926.4V1007.5M739.7,926.4H753.7M739.7,1007.5H753.7" fill="none" stroke="#f5c242" stroke-width="2.1"/>
<circle cx="523.8" cy="955.9" r="6.3" fill="#f5c242"/>
<circle cx="545.9" cy="952.1" r="6.3" fill="#f5c242"/>
<circle cx="568.1" cy="949.6" r="6.3" fill="#f5c242"/>
<circle cx="590.5" cy="950.8" r="6.3" fill="#f5c242"/>
<circle cx="612.7" cy="963.4" r="6.3" fill="#f5c242"/>
<circle cx="634.8" cy="986.1" r="6.3" fill="#f5c242"/>
<circle cx="656.7" cy="943.8" r="6.3" fill="#f5c242"/>
<circle cx="679.4" cy="944.5" r="6.3" fill="#f5c242"/>
<circle cx="701.6" cy="944.5" r="6.3" fill="#f5c242"/>
<circle cx="724.0" cy="944.5" r="6.3" fill="#f5c242"/>
<circle cx="746.7" cy="967.2" r="6.3" fill="#f5c242"/>
<path d="M523.8,960.9 L524.9,960.9 L526.1,960.9 L527.2,960.9 L528.4,960.9 L529.5,960.9 L530.7,960.9 L531.9,960.9 L533.0,960.9 L534.2,960.9 L535.3,960.9 L536.5,960.9 L537.6,960.9 L538.8,960.9 L539.9,960.9 L541.1,960.9 L542.3,960.9 L543.4,960.9 L544.6,960.9 L545.7,960.9 L546.9,960.9 L548.0,960.9 L549.2,960.9 L550.3,960.9 L551.5,960.9 L552.7,960.9 L553.8,960.9 L555.0,960.9 L556.1,960.9 L557.3,960.9 L558.4,960.9 L559.6,960.9 L560.7,960.9 L561.9,960.9 L563.1,960.9 L564.2,960.9 L565.4,960.9 L566.5,960.9 L567.7,960.9 L568.8,960.9 L570.0,960.9 L571.1,960.9 L572.3,960.9 L573.5,960.9 L574.6,960.9 L575.8,960.9 L576.9,960.9 L578.1,960.9 L579.2,960.9 L580.4,960.9 L581.5,960.9 L582.7,960.9 L583.9,960.9 L585.0,960.9 L586.2,960.9 L587.3,960.9 L588.5,960.9 L589.6,960.9 L590.8,960.9 L591.9,960.9 L593.1,960.9 L594.3,960.9 L595.4,960.9 L596.6,960.9 L597.7,960.9 L598.9,960.9 L600.0,960.9 L601.2,960.9 L602.3,960.9 L603.5,960.9 L604.7,960.9 L605.8,960.9 L607.0,960.9 L608.1,960.9 L609.3,961.0 L610.4,961.2 L611.6,961.3 L612.7,961.5 L613.9,961.7 L615.1,962.1 L616.2,962.8 L617.4,963.7 L618.5,964.9 L619.7,966.1 L620.8,967.4 L622.0,968.7 L623.1,970.0 L624.3,971.3 L625.4,972.5 L626.6,973.8 L627.8,975.1 L628.9,976.5 L630.1,977.9 L631.2,979.3 L632.4,980.8 L633.5,982.4 L634.7,984.0 L635.8,985.7 L637.0,987.5 L638.2,989.3 L639.3,991.2 L640.5,993.2 L641.6,995.2 L642.8,997.4 L643.9,999.5 L645.1,1001.8 L646.2,1004.1 L647.4,1006.5 L648.6,1008.8 L649.7,1011.1 L650.9,1013.5 L652.0,1016.1 L653.2,1018.8 L654.3,1021.8 L655.5,1025.1 L656.6,1028.8 L657.8,1033.3 L659.0,1038.9 L660.1,1045.4 L661.3,1052.2 L662.4,1059.1 L663.6,1065.8 L664.7,1072.8 L665.9,1080.2 L667.0,1087.7 L668.2,1095.3 L669.4,1102.6 L670.5,1109.5 L671.7,1115.7 L672.8,1121.2 L674.0,1126.3 L675.1,1131.3 L676.3,1136.1 L677.4,1140.5 L678.6,1144.5 L679.8,1148.0 L680.9,1151.0 L682.1,1153.3 L683.2,1155.5 L684.4,1157.5 L685.5,1159.4 L686.7,1161.0 L687.8,1162.4 L689.0,1163.6 L690.2,1164.5 L691.3,1165.2 L692.5,1165.8 L693.6,1166.3 L694.8,1166.8 L695.9,1167.2 L697.1,1167.6 L698.2,1167.8 L699.4,1167.9 L700.6,1167.9 L701.7,1167.9 L702.9,1168.0 L704.0,1168.0 L705.2,1168.0 L706.3,1168.0 L707.5,1168.0 L708.6,1168.0 L709.8,1168.0 L711.0,1168.0 L712.1,1168.0 L713.3,1168.0 L714.4,1168.1 L715.6,1168.1 L716.7,1168.1 L717.9,1168.1 L719.0,1168.1 L720.2,1168.1 L721.4,1168.1 L722.5,1168.1 L723.7,1168.1 L724.8,1168.1 L726.0,1168.1 L727.1,1168.1 L728.3,1168.1 L729.4,1168.1 L730.6,1168.1 L731.8,1168.1 L732.9,1168.1 L734.1,1168.1 L735.2,1168.2 L736.4,1168.2 L737.5,1168.2 L738.7,1168.2 L739.8,1168.2 L741.0,1168.2 L742.2,1168.2 L743.3,1168.2 L744.5,1168.2 L745.6,1168.2 L746.8,1168.2 L747.9,1168.2 L749.1,1168.2 L750.2,1168.2 L751.4,1168.2 L752.6,1168.2 L753.7,1168.2" fill="none" stroke="#b5722a" stroke-width="2.5" stroke-linejoin="round"/>
<path d="M523.8,929.4V982.3M516.8,929.4H530.8M516.8,982.3H530.8M545.9,945.8V981.0M538.9,945.8H552.9M538.9,981.0H552.9M568.1,928.2V981.0M561.1,928.2H575.1M561.1,981.0H575.1M590.5,934.4V965.9M583.5,934.4H597.5M583.5,965.9H597.5M634.8,991.1V1021.3M627.8,991.1H641.8M627.8,1021.3H641.8M656.7,1005.5V1050.3M649.7,1005.5H663.7M649.7,1050.3H663.7" fill="none" stroke="#b5722a" stroke-width="2.1"/>
<circle cx="523.8" cy="955.9" r="6.3" fill="#b5722a"/>
<circle cx="545.9" cy="963.4" r="6.3" fill="#b5722a"/>
<circle cx="568.1" cy="958.4" r="6.3" fill="#b5722a"/>
<circle cx="590.5" cy="950.1" r="6.3" fill="#b5722a"/>
<circle cx="612.7" cy="960.9" r="6.3" fill="#b5722a"/>
<circle cx="634.8" cy="1006.2" r="6.3" fill="#b5722a"/>
<circle cx="656.7" cy="1028.1" r="6.3" fill="#b5722a"/>
<circle cx="679.4" cy="1154.8" r="6.3" fill="#b5722a"/>
<circle cx="701.6" cy="1163.6" r="6.3" fill="#b5722a"/>
<circle cx="724.0" cy="1166.2" r="6.3" fill="#b5722a"/>
<circle cx="746.7" cy="1169.2" r="6.3" fill="#b5722a"/>
<path d="M523.8,959.6 L526.3,959.6 L528.8,959.6 L531.3,959.6 L533.8,959.6 L536.3,959.6 L538.8,959.6 L541.3,959.7 L543.8,959.7 L546.3,959.7 L548.8,959.7 L551.3,959.7 L553.8,959.7 L556.3,959.7 L558.8,959.7 L561.3,959.7 L563.8,959.8 L566.3,959.8 L568.8,959.8 L571.3,959.8 L573.9,959.9 L576.4,959.9 L578.9,959.9 L581.4,959.9 L583.9,960.0 L586.4,960.0 L588.9,960.0 L591.4,960.1 L593.9,960.1 L596.4,960.2 L598.9,960.2 L601.4,960.3 L603.9,960.3 L606.4,960.4 L608.9,960.8 L611.4,961.9 L613.9,963.3 L616.4,965.0 L618.9,966.8 L621.4,968.4 L623.9,970.0 L626.4,971.8 L629.0,973.6 L631.5,975.3 L634.0,976.8 L636.5,978.0 L639.0,979.1 L641.5,980.1 L644.0,981.1 L646.5,982.0 L649.0,982.8 L651.5,983.7 L654.0,984.5 L656.5,985.2 L659.0,986.0 L661.5,986.8 L664.0,987.5 L666.5,988.3 L669.0,989.0 L671.5,989.6 L674.0,990.3 L676.5,990.9 L679.0,991.5 L681.5,992.1 L684.0,992.7 L686.6,993.2 L689.1,993.8 L691.6,994.3 L694.1,994.8 L696.6,995.3 L699.1,995.7 L701.6,996.2 L704.1,996.5 L706.6,996.9 L709.1,997.3 L711.6,997.6 L714.1,997.9 L716.6,998.3 L719.1,998.6 L721.6,998.9 L724.1,999.2 L726.6,999.5 L729.1,999.8 L731.6,1000.1 L734.1,1000.4 L736.6,1000.6 L739.1,1000.9 L741.7,1001.2 L744.2,1001.4 L746.7,1001.7" fill="none" stroke="#8b2311" stroke-width="2.5" stroke-linejoin="round"/>
<path d="M523.8,945.8V978.5M516.8,945.8H530.8M516.8,978.5H530.8M545.9,942.0V977.3M538.9,942.0H552.9M538.9,977.3H552.9M568.1,934.4V983.6M561.1,934.4H575.1M561.1,983.6H575.1M590.5,933.7V983.1M583.5,933.7H597.5M583.5,983.1H597.5M612.7,932.7V989.1M605.7,932.7H619.7M605.7,989.1H619.7M634.8,962.7V1020.8M627.8,962.7H641.8M627.8,1020.8H641.8M656.7,936.2V994.1M649.7,936.2H663.7M649.7,994.1H663.7M679.4,958.4V1027.6M672.4,958.4H686.4M672.4,1027.6H686.4M701.6,971.0V1029.4M694.6,971.0H708.6M694.6,1029.4H708.6M724.0,979.3V1006.7M717.0,979.3H731.0M717.0,1006.7H731.0M746.7,966.4V1041.0M739.7,966.4H753.7M739.7,1041.0H753.7" fill="none" stroke="#8b2311" stroke-width="2.1"/>
<circle cx="523.8" cy="962.2" r="6.3" fill="#8b2311"/>
<circle cx="545.9" cy="960.9" r="6.3" fill="#8b2311"/>
<circle cx="568.1" cy="959.6" r="6.3" fill="#8b2311"/>
<circle cx="590.5" cy="958.4" r="6.3" fill="#8b2311"/>
<circle cx="612.7" cy="960.9" r="6.3" fill="#8b2311"/>
<circle cx="634.8" cy="991.9" r="6.3" fill="#8b2311"/>
<circle cx="656.7" cy="965.2" r="6.3" fill="#8b2311"/>
<circle cx="679.4" cy="993.6" r="6.3" fill="#8b2311"/>
<circle cx="701.6" cy="999.9" r="6.3" fill="#8b2311"/>
<circle cx="724.0" cy="992.9" r="6.3" fill="#8b2311"/>
<circle cx="746.7" cy="1003.7" r="6.3" fill="#8b2311"/>
<path d="M523.8,965.2 L526.7,965.2 L529.6,965.2 L532.5,965.2 L535.4,965.2 L538.3,965.2 L541.2,965.3 L544.1,965.3 L547.1,965.4 L550.0,965.5 L552.9,965.6 L553.0,965.6 L554.4,965.8 L555.7,965.9 L555.8,965.9 L557.1,966.0 L558.5,966.2 L558.7,966.3 L559.9,966.5 L561.3,966.8 L561.6,966.8 L562.7,967.1 L564.0,967.6 L564.5,967.7 L565.4,968.1 L566.8,968.7 L567.4,969.1 L568.2,969.5 L569.6,970.5 L570.3,971.1 L571.0,971.6 L572.3,973.0 L573.2,974.1 L573.7,974.7 L575.1,976.7 L576.2,978.5 L576.5,979.1 L577.9,982.0 L579.1,984.8 L579.3,985.3 L580.6,989.3 L582.0,993.8 L582.0,994.0 L583.4,999.3 L584.8,1005.4 L584.9,1005.8 L586.2,1012.2 L587.6,1019.8 L587.8,1021.2 L588.9,1028.0 L590.3,1036.9 L590.7,1039.4 L591.7,1046.2 L593.1,1055.8 L593.6,1059.5 L594.5,1065.5 L595.9,1075.1 L596.5,1079.7 L597.2,1084.4 L598.6,1093.2 L599.4,1098.2 L600.0,1101.5 L601.4,1109.1 L602.4,1113.9 L602.8,1115.9 L604.2,1122.0 L605.3,1126.3 L605.5,1127.3 L606.9,1131.9 L608.2,1135.6 L608.3,1135.9 L609.7,1139.3 L611.1,1142.2 L611.1,1142.2 L612.5,1144.6 L613.8,1146.6 L614.0,1146.8 L615.2,1148.3 L616.6,1149.6 L616.9,1149.9 L618.0,1150.8 L619.4,1151.7 L619.8,1152.0 L620.8,1152.5 L622.1,1153.2 L622.7,1153.4 L623.5,1153.7 L624.9,1154.1 L625.6,1154.3 L626.3,1154.5 L627.7,1154.8 L628.6,1154.9 L629.1,1155.0 L630.4,1155.2 L631.5,1155.3 L631.8,1155.4 L633.2,1155.5 L634.4,1155.6 L634.6,1155.6 L637.3,1155.8 L640.2,1155.9 L643.1,1155.9 L646.0,1156.0 L648.9,1156.0 L651.8,1156.0 L654.7,1156.1 L657.7,1156.1 L660.6,1156.1 L663.5,1156.1 L666.4,1156.1 L669.3,1156.1 L672.2,1156.1 L675.1,1156.1 L678.0,1156.1 L680.9,1156.1 L683.9,1156.1 L686.8,1156.1 L689.7,1156.1 L692.6,1156.1 L695.5,1156.1 L698.4,1156.1 L701.3,1156.1 L704.2,1156.1 L707.1,1156.1 L710.1,1156.1 L713.0,1156.1 L715.9,1156.1 L718.8,1156.1 L721.7,1156.1 L724.6,1156.1 L727.5,1156.1 L730.4,1156.1 L733.3,1156.1 L736.2,1156.1 L739.2,1156.1 L742.1,1156.1 L745.0,1156.1 L747.9,1156.1 L750.8,1156.1 L753.7,1156.1" fill="none" stroke="#000" stroke-width="2.5" stroke-linejoin="round"/>
<path d="M523.8,942.0V979.8M516.8,942.0H530.8M516.8,979.8H530.8M545.9,957.1V982.8M538.9,957.1H552.9M538.9,982.8H552.9M568.1,953.8V984.1M561.1,953.8H575.1M561.1,984.1H575.1M590.5,1010.0V1086.8M583.5,1010.0H597.5M583.5,1086.8H597.5M746.7,1151.5V1164.9M739.7,1151.5H753.7M739.7,1164.9H753.7" fill="none" stroke="#000" stroke-width="2.1"/>
<circle cx="523.8" cy="960.9" r="6.3" fill="#000"/>
<circle cx="545.9" cy="969.7" r="6.3" fill="#000"/>
<circle cx="568.1" cy="969.0" r="6.3" fill="#000"/>
<circle cx="590.5" cy="1048.3" r="6.3" fill="#000"/>
<circle cx="612.7" cy="1141.7" r="6.3" fill="#000"/>
<circle cx="634.8" cy="1155.3" r="6.3" fill="#000"/>
<circle cx="656.7" cy="1150.3" r="6.3" fill="#000"/>
<circle cx="679.4" cy="1154.8" r="6.3" fill="#000"/>
<circle cx="701.6" cy="1156.8" r="6.3" fill="#000"/>
<circle cx="724.0" cy="1159.1" r="6.3" fill="#000"/>
<circle cx="746.7" cy="1158.1" r="6.3" fill="#000"/>
<path d="M490.0,881.0V1185.0M480.0,1184.3H792.7M480.0,967.7H490.0M480.0,1076.0H490.0M480.0,1184.3H490.0M560.3,1184.3V1194.8M653.5,1184.3V1194.8M746.7,1184.3V1194.8" fill="none" stroke="#000" stroke-width="1.3"/>
<text x="468" y="976" font-size="23" text-anchor="end">100</text>
<text x="468" y="1084.3" font-size="23" text-anchor="end">50</text>
<text x="468" y="1192.6" font-size="23" text-anchor="end">0</text>
<text xml:space="preserve" x="541.5" y="1223.6" font-size="23" fill="#000" textLength="37.2" lengthAdjust="spacingAndGlyphs">−10</text>
<text xml:space="preserve" x="640.3" y="1223.6" font-size="23" fill="#000" textLength="25.6" lengthAdjust="spacingAndGlyphs">−8</text>
<text xml:space="preserve" x="733.5" y="1223.6" font-size="23" fill="#000" textLength="25.6" lengthAdjust="spacingAndGlyphs">−6</text>
<text xml:space="preserve" x="431.6" y="887.9" font-size="36" fill="#000" font-weight="bold" stroke="#000" stroke-width="0.7" textLength="24.4" lengthAdjust="spacingAndGlyphs">d</text>
<text xml:space="preserve" x="533.6" y="1267.2" font-size="27" fill="#000" textLength="37.63" lengthAdjust="spacingAndGlyphs">log</text>
<text xml:space="preserve" x="571.23" y="1275.57" font-size="20.52" fill="#000" textLength="23.84" lengthAdjust="spacingAndGlyphs">10</text>
<text xml:space="preserve" x="595.06" y="1267.2" font-size="27" fill="#000" textLength="155.14" lengthAdjust="spacingAndGlyphs">[TH9975]; M</text>
<text xml:space="preserve" x="496.3" y="1175.3" font-size="21" fill="#444" font-style="italic" textLength="81.24" lengthAdjust="spacingAndGlyphs">MTHFD2</text>
<text xml:space="preserve" x="577.54" y="1167.74" font-size="17.01" fill="#444" textLength="23.46" lengthAdjust="spacingAndGlyphs">−/−</text>
<path d="M904.5,969.2 L1127.4,969.2" fill="none" stroke="#b3b3b3" stroke-width="2.5" stroke-linejoin="round"/>
<path d="M904.5,954.6V968.4M897.5,954.6H911.5M897.5,968.4H911.5M993.4,957.1V1015.0M986.4,957.1H1000.4M986.4,1015.0H1000.4M1015.3,965.9V1035.2M1008.3,965.9H1022.3M1008.3,1035.2H1022.3M1038.0,946.5V977.8M1031.0,946.5H1045.0M1031.0,977.8H1045.0M1060.2,959.6V981.0M1053.2,959.6H1067.2M1053.2,981.0H1067.2M1082.6,937.7V968.4M1075.6,937.7H1089.6M1075.6,968.4H1089.6M1104.7,916.1V968.4M1097.7,916.1H1111.7M1097.7,968.4H1111.7M1127.4,933.9V1029.6M1120.4,933.9H1134.4M1120.4,1029.6H1134.4" fill="none" stroke="#b3b3b3" stroke-width="2.1"/>
<circle cx="904.5" cy="960.9" r="6.3" fill="#b3b3b3"/>
<circle cx="926.7" cy="968.4" r="6.3" fill="#b3b3b3"/>
<circle cx="948.6" cy="969.7" r="6.3" fill="#b3b3b3"/>
<circle cx="971.3" cy="971.0" r="6.3" fill="#b3b3b3"/>
<circle cx="993.4" cy="972.2" r="6.3" fill="#b3b3b3"/>
<circle cx="1015.3" cy="1001.2" r="6.3" fill="#b3b3b3"/>
<circle cx="1038.0" cy="962.2" r="6.3" fill="#b3b3b3"/>
<circle cx="1060.2" cy="970.5" r="6.3" fill="#b3b3b3"/>
<circle cx="1082.6" cy="952.8" r="6.3" fill="#b3b3b3"/>
<circle cx="1104.7" cy="942.0" r="6.3" fill="#b3b3b3"/>
<circle cx="1127.4" cy="981.8" r="6.3" fill="#b3b3b3"/>
<path d="M903.8,974.2 L904.9,974.2 L906.0,974.2 L907.1,974.2 L908.3,974.2 L909.4,974.2 L910.5,974.2 L911.6,974.2 L912.8,974.2 L913.9,974.2 L915.0,974.2 L916.1,974.2 L917.3,974.2 L918.4,974.2 L919.5,974.2 L920.6,974.2 L921.7,974.2 L922.9,974.2 L924.0,974.2 L925.1,974.2 L926.2,974.2 L927.4,974.2 L928.5,974.2 L929.6,974.2 L930.7,974.2 L931.9,974.2 L933.0,974.2 L934.1,974.2 L935.2,974.2 L936.4,974.2 L937.5,974.2 L938.6,974.2 L939.7,974.2 L940.9,974.2 L942.0,974.2 L943.1,974.2 L944.2,974.2 L945.3,974.2 L946.5,974.2 L947.6,974.2 L948.7,974.2 L949.8,974.2 L951.0,974.2 L952.1,974.2 L953.2,974.2 L954.3,974.2 L955.5,974.2 L956.6,974.2 L957.7,974.2 L958.8,974.2 L960.0,974.2 L961.1,974.2 L962.2,974.2 L963.3,974.2 L964.5,974.2 L965.6,974.2 L966.7,974.2 L967.8,974.2 L968.9,974.2 L970.1,974.2 L971.2,974.2 L972.3,974.2 L973.4,974.2 L974.6,974.4 L975.7,974.9 L976.8,975.6 L977.9,976.6 L979.1,977.8 L980.2,979.0 L981.3,980.4 L982.4,982.4 L983.6,985.0 L984.7,988.2 L985.8,991.7 L986.9,995.6 L988.1,999.6 L989.2,1004.4 L990.3,1010.4 L991.4,1016.9 L992.6,1023.4 L993.7,1029.1 L994.8,1034.2 L995.9,1039.0 L997.0,1043.7 L998.2,1048.2 L999.3,1052.5 L1000.4,1056.8 L1001.5,1061.1 L1002.7,1065.3 L1003.8,1069.5 L1004.9,1073.8 L1006.0,1078.2 L1007.2,1082.5 L1008.3,1086.9 L1009.4,1091.2 L1010.5,1095.5 L1011.7,1099.7 L1012.8,1103.8 L1013.9,1107.8 L1015.0,1111.7 L1016.2,1115.4 L1017.3,1119.1 L1018.4,1122.9 L1019.5,1126.6 L1020.6,1130.2 L1021.8,1133.5 L1022.9,1136.5 L1024.0,1139.2 L1025.1,1141.4 L1026.3,1143.4 L1027.4,1145.2 L1028.5,1146.9 L1029.6,1148.6 L1030.8,1150.1 L1031.9,1151.5 L1033.0,1152.8 L1034.1,1154.0 L1035.3,1155.2 L1036.4,1156.2 L1037.5,1157.1 L1038.6,1158.0 L1039.8,1158.9 L1040.9,1159.6 L1042.0,1160.4 L1043.1,1161.1 L1044.2,1161.8 L1045.4,1162.4 L1046.5,1163.0 L1047.6,1163.6 L1048.7,1164.1 L1049.9,1164.6 L1051.0,1165.1 L1052.1,1165.6 L1053.2,1166.0 L1054.4,1166.5 L1055.5,1166.9 L1056.6,1167.4 L1057.7,1167.7 L1058.9,1168.1 L1060.0,1168.3 L1061.1,1168.4 L1062.2,1168.4 L1063.4,1168.5 L1064.5,1168.5 L1065.6,1168.5 L1066.7,1168.5 L1067.8,1168.5 L1069.0,1168.6 L1070.1,1168.6 L1071.2,1168.6 L1072.3,1168.6 L1073.5,1168.6 L1074.6,1168.6 L1075.7,1168.7 L1076.8,1168.7 L1078.0,1168.7 L1079.1,1168.7 L1080.2,1168.7 L1081.3,1168.7 L1082.5,1168.7 L1083.6,1168.7 L1084.7,1168.8 L1085.8,1168.8 L1087.0,1168.8 L1088.1,1168.8 L1089.2,1168.8 L1090.3,1168.8 L1091.5,1168.8 L1092.6,1168.8 L1093.7,1168.8 L1094.8,1168.8 L1095.9,1168.8 L1097.1,1168.9 L1098.2,1168.9 L1099.3,1168.9 L1100.4,1168.9 L1101.6,1168.9 L1102.7,1168.9 L1103.8,1168.9 L1104.9,1168.9 L1106.1,1168.9 L1107.2,1168.9 L1108.3,1168.9 L1109.4,1168.9 L1110.6,1168.9 L1111.7,1168.9 L1112.8,1168.9 L1113.9,1168.9 L1115.1,1168.9 L1116.2,1168.9 L1117.3,1168.9 L1118.4,1168.9 L1119.5,1168.9 L1120.7,1168.9 L1121.8,1168.9 L1122.9,1168.9 L1124.0,1168.9 L1125.2,1168.9 L1126.3,1168.9 L1127.4,1168.9" fill="none" stroke="#f5c242" stroke-width="2.5" stroke-linejoin="round"/>
<path d="M904.5,965.9V991.1M897.5,965.9H911.5M897.5,991.1H911.5M926.7,962.2V988.6M919.7,962.2H933.7M919.7,988.6H933.7M971.3,955.9V977.3M964.3,955.9H978.3M964.3,977.3H978.3M993.4,1002.4V1078.5M986.4,1002.4H1000.4M986.4,1078.5H1000.4M1015.3,1051.6V1175.0M1008.3,1051.6H1022.3M1008.3,1175.0H1022.3M1038.0,1153.6V1163.6M1031.0,1153.6H1045.0M1031.0,1163.6H1045.0" fill="none" stroke="#f5c242" stroke-width="2.1"/>
<circle cx="904.5" cy="977.3" r="6.3" fill="#f5c242"/>
<circle cx="926.7" cy="976.0" r="6.3" fill="#f5c242"/>
<circle cx="948.6" cy="971.0" r="6.3" fill="#f5c242"/>
<circle cx="971.3" cy="964.7" r="6.3" fill="#f5c242"/>
<circle cx="993.4" cy="1026.9" r="6.3" fill="#f5c242"/>
<circle cx="1015.3" cy="1112.5" r="6.3" fill="#f5c242"/>
<circle cx="1038.0" cy="1158.6" r="6.3" fill="#f5c242"/>
<circle cx="1060.2" cy="1167.4" r="6.3" fill="#f5c242"/>
<circle cx="1082.6" cy="1168.7" r="6.3" fill="#f5c242"/>
<circle cx="1104.7" cy="1169.2" r="6.3" fill="#f5c242"/>
<circle cx="1127.4" cy="1169.4" r="6.3" fill="#f5c242"/>
<path d="M903.8,974.2 L904.9,974.2 L906.0,974.2 L907.1,974.2 L908.3,974.2 L909.4,974.2 L910.5,974.2 L911.6,974.2 L912.8,974.3 L913.9,974.3 L915.0,974.3 L916.1,974.3 L917.3,974.3 L918.4,974.3 L919.5,974.3 L920.6,974.3 L921.7,974.3 L922.9,974.3 L924.0,974.3 L925.1,974.3 L926.2,974.3 L927.4,974.3 L928.5,974.3 L929.6,974.3 L930.7,974.4 L931.9,974.4 L933.0,974.4 L934.1,974.4 L935.2,974.4 L936.4,974.4 L937.5,974.4 L938.6,974.4 L939.7,974.5 L940.9,974.5 L942.0,974.5 L943.1,974.5 L944.2,974.5 L945.3,974.5 L946.5,974.6 L947.6,974.6 L948.7,974.6 L949.8,974.6 L951.0,974.6 L952.1,974.7 L953.2,974.7 L954.3,974.7 L955.5,974.7 L956.6,974.8 L957.7,974.8 L958.8,974.8 L960.0,974.8 L961.1,974.9 L962.2,974.9 L963.3,974.9 L964.5,975.0 L965.6,975.0 L966.7,975.0 L967.8,975.1 L968.9,975.1 L970.1,975.1 L971.2,975.2 L972.3,975.2 L973.4,975.2 L974.6,975.3 L975.7,975.5 L976.8,975.7 L977.9,975.9 L979.1,976.2 L980.2,976.6 L981.3,977.0 L982.4,977.4 L983.6,977.8 L984.7,978.3 L985.8,978.8 L986.9,979.3 L988.1,979.7 L989.2,980.3 L990.3,980.8 L991.4,981.4 L992.6,982.1 L993.7,982.8 L994.8,983.6 L995.9,984.4 L997.0,985.3 L998.2,986.2 L999.3,987.1 L1000.4,988.2 L1001.5,989.3 L1002.7,990.4 L1003.8,991.7 L1004.9,993.0 L1006.0,994.4 L1007.2,995.9 L1008.3,997.4 L1009.4,999.0 L1010.5,1000.7 L1011.7,1002.4 L1012.8,1004.2 L1013.9,1006.1 L1015.0,1008.0 L1016.2,1010.0 L1017.3,1012.3 L1018.4,1014.7 L1019.5,1017.3 L1020.6,1020.1 L1021.8,1023.0 L1022.9,1025.9 L1024.0,1028.8 L1025.1,1031.6 L1026.3,1034.4 L1027.4,1037.2 L1028.5,1040.1 L1029.6,1042.9 L1030.8,1045.8 L1031.9,1048.7 L1033.0,1051.8 L1034.1,1054.9 L1035.3,1058.2 L1036.4,1061.6 L1037.5,1065.1 L1038.6,1068.9 L1039.8,1072.9 L1040.9,1077.2 L1042.0,1081.6 L1043.1,1086.3 L1044.2,1091.0 L1045.4,1095.8 L1046.5,1100.7 L1047.6,1105.6 L1048.7,1110.4 L1049.9,1115.5 L1051.0,1120.9 L1052.1,1126.3 L1053.2,1131.7 L1054.4,1136.7 L1055.5,1141.3 L1056.6,1145.3 L1057.7,1149.4 L1058.9,1153.1 L1060.0,1156.3 L1061.1,1158.8 L1062.2,1160.4 L1063.4,1161.8 L1064.5,1163.1 L1065.6,1164.3 L1066.7,1165.3 L1067.8,1166.1 L1069.0,1166.8 L1070.1,1167.2 L1071.2,1167.5 L1072.3,1167.8 L1073.5,1168.0 L1074.6,1168.2 L1075.7,1168.3 L1076.8,1168.5 L1078.0,1168.6 L1079.1,1168.6 L1080.2,1168.7 L1081.3,1168.7 L1082.5,1168.8 L1083.6,1168.8 L1084.7,1168.8 L1085.8,1168.9 L1087.0,1168.9 L1088.1,1168.9 L1089.2,1169.0 L1090.3,1169.0 L1091.5,1169.0 L1092.6,1169.0 L1093.7,1169.1 L1094.8,1169.1 L1095.9,1169.1 L1097.1,1169.1 L1098.2,1169.2 L1099.3,1169.2 L1100.4,1169.2 L1101.6,1169.2 L1102.7,1169.2 L1103.8,1169.3 L1104.9,1169.3 L1106.1,1169.3 L1107.2,1169.3 L1108.3,1169.3 L1109.4,1169.3 L1110.6,1169.3 L1111.7,1169.4 L1112.8,1169.4 L1113.9,1169.4 L1115.1,1169.4 L1116.2,1169.4 L1117.3,1169.4 L1118.4,1169.4 L1119.5,1169.4 L1120.7,1169.4 L1121.8,1169.4 L1122.9,1169.4 L1124.0,1169.4 L1125.2,1169.4 L1126.3,1169.4 L1127.4,1169.4" fill="none" stroke="#b5722a" stroke-width="2.5" stroke-linejoin="round"/>
<path d="M993.4,958.4V988.6M986.4,958.4H1000.4M986.4,988.6H1000.4M1015.3,996.2V1027.6M1008.3,996.2H1022.3M1008.3,1027.6H1022.3M1038.0,991.1V1139.7M1031.0,991.1H1045.0M1031.0,1139.7H1045.0" fill="none" stroke="#b5722a" stroke-width="2.1"/>
<circle cx="904.5" cy="971.0" r="6.3" fill="#b5722a"/>
<circle cx="926.7" cy="984.8" r="6.3" fill="#b5722a"/>
<circle cx="948.6" cy="965.9" r="6.3" fill="#b5722a"/>
<circle cx="971.3" cy="972.2" r="6.3" fill="#b5722a"/>
<circle cx="993.4" cy="972.2" r="6.3" fill="#b5722a"/>
<circle cx="1015.3" cy="1011.3" r="6.3" fill="#b5722a"/>
<circle cx="1038.0" cy="1064.2" r="6.3" fill="#b5722a"/>
<circle cx="1060.2" cy="1162.4" r="6.3" fill="#b5722a"/>
<circle cx="1082.6" cy="1169.9" r="6.3" fill="#b5722a"/>
<circle cx="1104.7" cy="1169.9" r="6.3" fill="#b5722a"/>
<circle cx="1127.4" cy="1170.4" r="6.3" fill="#b5722a"/>
<path d="M903.8,976.0 L904.9,976.0 L906.0,976.0 L907.1,976.0 L908.3,976.0 L909.4,976.0 L910.5,976.0 L911.6,976.0 L912.8,976.1 L913.9,976.1 L915.0,976.1 L916.1,976.1 L917.3,976.1 L918.4,976.1 L919.5,976.2 L920.6,976.2 L921.7,976.2 L922.9,976.2 L924.0,976.3 L925.1,976.3 L926.2,976.3 L927.4,976.4 L928.5,976.4 L929.6,976.4 L930.7,976.5 L931.9,976.5 L933.0,976.6 L934.1,976.6 L935.2,976.7 L936.4,976.7 L937.5,976.8 L938.6,976.8 L939.7,976.9 L940.9,976.9 L942.0,977.0 L943.1,977.0 L944.2,977.1 L945.3,977.2 L946.5,977.2 L947.6,977.3 L948.7,977.4 L949.8,977.4 L951.0,977.5 L952.1,977.6 L953.2,977.7 L954.3,977.7 L955.5,977.8 L956.6,977.9 L957.7,978.0 L958.8,978.1 L960.0,978.2 L961.1,978.2 L962.2,978.3 L963.3,978.4 L964.5,978.5 L965.6,978.6 L966.7,978.7 L967.8,978.8 L968.9,978.9 L970.1,979.0 L971.2,979.2 L972.3,979.3 L973.4,979.4 L974.6,979.5 L975.7,979.6 L976.8,979.7 L977.9,979.9 L979.1,980.1 L980.2,980.3 L981.3,980.6 L982.4,981.0 L983.6,981.4 L984.7,981.8 L985.8,982.3 L986.9,982.8 L988.1,983.3 L989.2,983.8 L990.3,984.5 L991.4,985.3 L992.6,986.2 L993.7,987.1 L994.8,988.1 L995.9,989.2 L997.0,990.3 L998.2,991.5 L999.3,992.7 L1000.4,994.0 L1001.5,995.4 L1002.7,996.9 L1003.8,998.5 L1004.9,1000.2 L1006.0,1002.0 L1007.2,1003.8 L1008.3,1005.8 L1009.4,1007.8 L1010.5,1010.0 L1011.7,1012.5 L1012.8,1015.3 L1013.9,1018.1 L1015.0,1020.7 L1016.2,1022.9 L1017.3,1024.8 L1018.4,1026.5 L1019.5,1028.2 L1020.6,1029.8 L1021.8,1031.4 L1022.9,1033.0 L1024.0,1034.9 L1025.1,1036.9 L1026.3,1039.0 L1027.4,1041.3 L1028.5,1043.6 L1029.6,1046.0 L1030.8,1048.5 L1031.9,1051.2 L1033.0,1053.9 L1034.1,1056.7 L1035.3,1059.7 L1036.4,1062.7 L1037.5,1065.9 L1038.6,1069.3 L1039.8,1073.0 L1040.9,1077.0 L1042.0,1081.1 L1043.1,1085.5 L1044.2,1090.0 L1045.4,1094.6 L1046.5,1099.3 L1047.6,1104.0 L1048.7,1108.7 L1049.9,1113.6 L1051.0,1118.9 L1052.1,1124.3 L1053.2,1129.7 L1054.4,1134.8 L1055.5,1139.5 L1056.6,1143.7 L1057.7,1147.9 L1058.9,1151.8 L1060.0,1155.2 L1061.1,1157.8 L1062.2,1159.6 L1063.4,1161.1 L1064.5,1162.6 L1065.6,1163.9 L1066.7,1165.0 L1067.8,1165.9 L1069.0,1166.6 L1070.1,1167.2 L1071.2,1167.5 L1072.3,1167.8 L1073.5,1168.1 L1074.6,1168.3 L1075.7,1168.5 L1076.8,1168.7 L1078.0,1168.8 L1079.1,1168.9 L1080.2,1168.9 L1081.3,1169.0 L1082.5,1169.0 L1083.6,1169.1 L1084.7,1169.1 L1085.8,1169.1 L1087.0,1169.2 L1088.1,1169.2 L1089.2,1169.2 L1090.3,1169.2 L1091.5,1169.3 L1092.6,1169.3 L1093.7,1169.3 L1094.8,1169.4 L1095.9,1169.4 L1097.1,1169.4 L1098.2,1169.4 L1099.3,1169.4 L1100.4,1169.5 L1101.6,1169.5 L1102.7,1169.5 L1103.8,1169.5 L1104.9,1169.5 L1106.1,1169.6 L1107.2,1169.6 L1108.3,1169.6 L1109.4,1169.6 L1110.6,1169.6 L1111.7,1169.6 L1112.8,1169.6 L1113.9,1169.6 L1115.1,1169.6 L1116.2,1169.6 L1117.3,1169.7 L1118.4,1169.7 L1119.5,1169.7 L1120.7,1169.7 L1121.8,1169.7 L1122.9,1169.7 L1124.0,1169.7 L1125.2,1169.7 L1126.3,1169.7 L1127.4,1169.7" fill="none" stroke="#8b2311" stroke-width="2.5" stroke-linejoin="round"/>
<path d="M904.5,962.2V982.3M897.5,962.2H911.5M897.5,982.3H911.5M926.7,977.3V999.2M919.7,977.3H933.7M919.7,999.2H933.7M948.6,951.6V976.0M941.6,951.6H955.6M941.6,976.0H955.6M971.3,965.9V1000.7M964.3,965.9H978.3M964.3,1000.7H978.3M993.4,963.4V1003.7M986.4,963.4H1000.4M986.4,1003.7H1000.4M1015.3,1006.2V1028.9M1008.3,1006.2H1022.3M1008.3,1028.9H1022.3M1038.0,991.1V1139.7M1031.0,991.1H1045.0M1031.0,1139.7H1045.0M1060.2,1151.0V1167.4M1053.2,1151.0H1067.2M1053.2,1167.4H1067.2" fill="none" stroke="#8b2311" stroke-width="2.1"/>
<circle cx="904.5" cy="972.2" r="6.3" fill="#8b2311"/>
<circle cx="926.7" cy="987.3" r="6.3" fill="#8b2311"/>
<circle cx="948.6" cy="963.4" r="6.3" fill="#8b2311"/>
<circle cx="971.3" cy="983.6" r="6.3" fill="#8b2311"/>
<circle cx="993.4" cy="984.1" r="6.3" fill="#8b2311"/>
<circle cx="1015.3" cy="1021.3" r="6.3" fill="#8b2311"/>
<circle cx="1038.0" cy="1065.9" r="6.3" fill="#8b2311"/>
<circle cx="1060.2" cy="1159.9" r="6.3" fill="#8b2311"/>
<circle cx="1082.6" cy="1168.7" r="6.3" fill="#8b2311"/>
<circle cx="1104.7" cy="1169.4" r="6.3" fill="#8b2311"/>
<circle cx="1127.4" cy="1169.9" r="6.3" fill="#8b2311"/>
<path d="M903.9,981.5 L905.1,981.5 L906.2,981.6 L907.3,981.6 L908.4,981.6 L909.6,981.6 L910.7,981.6 L911.8,981.7 L912.9,981.7 L914.0,981.7 L915.2,981.8 L916.3,981.8 L917.4,981.9 L918.5,982.0 L919.7,982.0 L920.8,982.1 L921.9,982.2 L923.0,982.3 L924.2,982.3 L925.3,982.4 L926.4,982.5 L927.5,982.6 L928.6,982.7 L929.8,982.8 L930.9,983.0 L932.0,983.1 L933.1,983.2 L934.3,983.3 L935.4,983.5 L936.5,983.6 L937.6,983.8 L938.8,983.9 L939.9,984.1 L941.0,984.2 L942.1,984.4 L943.2,984.6 L944.4,984.7 L945.5,984.9 L946.6,985.1 L947.7,985.3 L948.9,985.5 L950.0,985.9 L951.1,986.3 L952.2,986.8 L953.4,987.4 L954.5,988.1 L955.6,988.8 L956.7,989.6 L957.8,990.4 L959.0,991.3 L960.1,992.3 L961.2,993.3 L962.3,994.3 L963.5,995.4 L964.6,996.7 L965.7,998.1 L966.8,999.8 L968.0,1001.6 L969.1,1003.6 L970.2,1005.7 L971.3,1008.0 L972.4,1010.6 L973.6,1013.9 L974.7,1017.8 L975.8,1022.0 L976.9,1026.6 L978.1,1031.2 L979.2,1035.7 L980.3,1040.1 L981.4,1044.1 L982.6,1048.0 L983.7,1051.8 L984.8,1055.6 L985.9,1059.4 L987.0,1063.2 L988.2,1067.0 L989.3,1070.8 L990.4,1074.6 L991.5,1078.5 L992.7,1082.4 L993.8,1086.4 L994.9,1090.7 L996.0,1095.1 L997.1,1099.7 L998.3,1104.3 L999.4,1109.0 L1000.5,1113.5 L1001.6,1117.8 L1002.8,1121.9 L1003.9,1125.6 L1005.0,1128.8 L1006.1,1131.9 L1007.3,1134.8 L1008.4,1137.6 L1009.5,1140.2 L1010.6,1142.7 L1011.7,1145.1 L1012.9,1147.3 L1014.0,1149.3 L1015.1,1151.2 L1016.2,1152.9 L1017.4,1154.6 L1018.5,1156.2 L1019.6,1157.7 L1020.7,1159.1 L1021.9,1160.4 L1023.0,1161.5 L1024.1,1162.4 L1025.2,1163.1 L1026.3,1163.7 L1027.5,1164.3 L1028.6,1164.8 L1029.7,1165.3 L1030.8,1165.8 L1032.0,1166.2 L1033.1,1166.6 L1034.2,1166.9 L1035.3,1167.2 L1036.5,1167.3 L1037.6,1167.4 L1038.7,1167.4 L1039.8,1167.5 L1040.9,1167.5 L1042.1,1167.5 L1043.2,1167.6 L1044.3,1167.6 L1045.4,1167.6 L1046.6,1167.6 L1047.7,1167.7 L1048.8,1167.7 L1049.9,1167.7 L1051.1,1167.7 L1052.2,1167.8 L1053.3,1167.8 L1054.4,1167.8 L1055.5,1167.8 L1056.7,1167.9 L1057.8,1167.9 L1058.9,1167.9 L1060.0,1167.9 L1061.2,1167.9 L1062.3,1168.0 L1063.4,1168.0 L1064.5,1168.0 L1065.7,1168.0 L1066.8,1168.0 L1067.9,1168.1 L1069.0,1168.1 L1070.1,1168.1 L1071.3,1168.1 L1072.4,1168.1 L1073.5,1168.1 L1074.6,1168.1 L1075.8,1168.2 L1076.9,1168.2 L1078.0,1168.2 L1079.1,1168.2 L1080.2,1168.2 L1081.4,1168.2 L1082.5,1168.2 L1083.6,1168.2 L1084.7,1168.3 L1085.9,1168.3 L1087.0,1168.3 L1088.1,1168.3 L1089.2,1168.3 L1090.4,1168.3 L1091.5,1168.3 L1092.6,1168.3 L1093.7,1168.3 L1094.8,1168.3 L1096.0,1168.3 L1097.1,1168.3 L1098.2,1168.4 L1099.3,1168.4 L1100.5,1168.4 L1101.6,1168.4 L1102.7,1168.4 L1103.8,1168.4 L1105.0,1168.4 L1106.1,1168.4 L1107.2,1168.4 L1108.3,1168.4 L1109.4,1168.4 L1110.6,1168.4 L1111.7,1168.4 L1112.8,1168.4 L1113.9,1168.4 L1115.1,1168.4 L1116.2,1168.4 L1117.3,1168.4 L1118.4,1168.4 L1119.6,1168.4 L1120.7,1168.4 L1121.8,1168.4 L1122.9,1168.4 L1124.0,1168.4 L1125.2,1168.4 L1126.3,1168.4 L1127.4,1168.4" fill="none" stroke="#000" stroke-width="2.5" stroke-linejoin="round"/>
<path d="M904.5,965.9V988.6M897.5,965.9H911.5M897.5,988.6H911.5M926.7,988.6V999.2M919.7,988.6H933.7M919.7,999.2H933.7M971.3,981.8V1040.2M964.3,981.8H978.3M964.3,1040.2H978.3M993.4,1020.8V1151.0M986.4,1020.8H1000.4M986.4,1151.0H1000.4M1015.3,1126.4V1175.0M1008.3,1126.4H1022.3M1008.3,1175.0H1022.3M1038.0,1159.9V1173.7M1031.0,1159.9H1045.0M1031.0,1173.7H1045.0" fill="none" stroke="#000" stroke-width="2.1"/>
<circle cx="904.5" cy="977.3" r="6.3" fill="#000"/>
<circle cx="926.7" cy="994.1" r="6.3" fill="#000"/>
<circle cx="948.6" cy="978.5" r="6.3" fill="#000"/>
<circle cx="971.3" cy="1010.5" r="6.3" fill="#000"/>
<circle cx="993.4" cy="1085.6" r="6.3" fill="#000"/>
<circle cx="1015.3" cy="1151.0" r="6.3" fill="#000"/>
<circle cx="1038.0" cy="1166.9" r="6.3" fill="#000"/>
<circle cx="1060.2" cy="1168.7" r="6.3" fill="#000"/>
<circle cx="1082.6" cy="1168.2" r="6.3" fill="#000"/>
<circle cx="1104.7" cy="1168.2" r="6.3" fill="#000"/>
<circle cx="1127.4" cy="1168.2" r="6.3" fill="#000"/>
<path d="M870.3,880.3V1184.5M860.4,1183.8H1173.5M860.3,967.2H870.3M860.3,1075.5H870.3M860.3,1183.8H870.3M940.5,1183.8V1194.3M1034.2,1183.8V1194.3M1127.4,1183.8V1194.3" fill="none" stroke="#000" stroke-width="1.3"/>
<text x="848.3" y="975.5" font-size="23" text-anchor="end">100</text>
<text x="848.3" y="1083.8" font-size="23" text-anchor="end">50</text>
<text x="848.3" y="1192.1" font-size="23" text-anchor="end">0</text>
<text xml:space="preserve" x="921.7" y="1223.1" font-size="23" fill="#000" textLength="37.2" lengthAdjust="spacingAndGlyphs">−10</text>
<text xml:space="preserve" x="1021" y="1223.1" font-size="23" fill="#000" textLength="25.6" lengthAdjust="spacingAndGlyphs">−8</text>
<text xml:space="preserve" x="1114.2" y="1223.1" font-size="23" fill="#000" textLength="25.6" lengthAdjust="spacingAndGlyphs">−6</text>
<text xml:space="preserve" x="811.6" y="887.9" font-size="36" fill="#000" font-weight="bold" stroke="#000" stroke-width="0.7" textLength="24.2" lengthAdjust="spacingAndGlyphs">e</text>
<text xml:space="preserve" x="935" y="1267.2" font-size="27" fill="#000" textLength="37.35" lengthAdjust="spacingAndGlyphs">log</text>
<text xml:space="preserve" x="972.35" y="1275.57" font-size="20.52" fill="#000" textLength="23.66" lengthAdjust="spacingAndGlyphs">10</text>
<text xml:space="preserve" x="996.01" y="1267.2" font-size="27" fill="#000" textLength="113.49" lengthAdjust="spacingAndGlyphs">[MTX]; M</text>
<text xml:space="preserve" x="876.3" y="1175.3" font-size="21" fill="#444" font-style="italic" textLength="81.24" lengthAdjust="spacingAndGlyphs">MTHFD2</text>
<text xml:space="preserve" x="957.54" y="1167.74" font-size="17.01" fill="#444" textLength="23.46" lengthAdjust="spacingAndGlyphs">−/−</text>
<path d="M1331.9,976.0 L1334.7,976.0 L1337.5,976.0 L1340.3,976.0 L1343.2,976.0 L1346.0,976.0 L1348.8,976.0 L1351.6,976.0 L1354.4,976.0 L1357.3,976.0 L1360.1,976.0 L1362.9,976.0 L1365.7,976.0 L1368.5,976.0 L1371.4,976.0 L1374.2,976.0 L1377.0,976.0 L1379.8,976.0 L1382.7,976.0 L1385.5,976.0 L1388.3,976.0 L1391.1,976.0 L1393.9,976.0 L1396.8,976.0 L1399.6,976.0 L1402.4,976.0 L1405.2,976.0 L1408.0,976.0 L1410.9,976.0 L1413.7,976.0 L1416.5,976.0 L1419.3,976.0 L1422.2,976.0 L1425.0,976.0 L1427.8,976.0 L1430.6,976.0 L1433.4,976.0 L1436.3,976.0 L1439.1,976.0 L1441.9,976.0 L1444.7,976.0 L1447.5,976.0 L1450.4,976.0 L1453.2,976.0 L1456.0,976.0 L1458.8,976.0 L1461.7,976.0 L1464.5,976.0 L1467.3,976.0 L1470.1,976.0 L1472.9,976.0 L1475.8,976.0 L1478.6,976.0 L1481.4,976.0 L1484.2,976.0 L1487.0,976.0 L1489.9,976.0 L1492.7,976.0 L1495.5,976.0 L1498.3,976.0 L1501.2,976.0 L1504.0,976.0 L1506.8,976.0 L1509.6,976.0 L1512.4,976.0 L1515.3,976.1 L1518.1,976.2 L1519.3,976.2 L1519.9,976.3 L1520.5,976.4 L1520.9,976.4 L1521.1,976.4 L1521.7,976.5 L1522.3,976.6 L1522.9,976.7 L1523.5,976.9 L1523.7,976.9 L1524.1,977.1 L1524.7,977.3 L1525.3,977.5 L1525.9,977.8 L1526.5,978.2 L1526.5,978.2 L1527.1,978.6 L1527.7,979.1 L1528.3,979.7 L1528.9,980.4 L1529.4,981.1 L1529.5,981.2 L1530.1,982.2 L1530.7,983.4 L1531.3,984.8 L1531.9,986.3 L1532.2,987.2 L1532.5,988.2 L1533.1,990.3 L1533.7,992.7 L1534.3,995.4 L1534.9,998.4 L1535.0,999.0 L1535.5,1001.7 L1536.1,1005.4 L1536.7,1009.3 L1537.3,1013.4 L1537.8,1017.2 L1537.9,1017.8 L1538.5,1022.2 L1539.1,1026.7 L1539.7,1031.2 L1540.3,1035.6 L1540.7,1038.0 L1540.9,1039.8 L1541.5,1043.8 L1542.1,1047.5 L1542.7,1051.0 L1543.3,1054.1 L1543.5,1054.8 L1543.9,1056.8 L1544.5,1059.3 L1545.1,1061.5 L1545.7,1063.4 L1546.3,1065.0 L1546.3,1065.1 L1546.9,1066.5 L1547.5,1067.7 L1548.1,1068.7 L1548.7,1069.6 L1549.1,1070.1 L1549.3,1070.3 L1549.9,1071.0 L1550.6,1071.5 L1551.2,1072.0 L1551.8,1072.3 L1551.9,1072.4 L1552.4,1072.6 L1553.0,1072.9 L1553.6,1073.1 L1554.2,1073.3 L1554.8,1073.5" fill="none" stroke="#b5722a" stroke-width="2.5" stroke-linejoin="round"/>
<path d="M1398.6,945.3V999.9M1391.6,945.3H1405.6M1391.6,999.9H1405.6M1443.4,984.8V1016.3M1436.4,984.8H1450.4M1436.4,1016.3H1450.4M1487.8,948.3V976.0M1480.8,948.3H1494.8M1480.8,976.0H1494.8M1532.1,954.6V1024.4M1525.1,954.6H1539.1M1525.1,1024.4H1539.1M1554.8,1047.8V1095.1M1547.8,1047.8H1561.8M1547.8,1095.1H1561.8" fill="none" stroke="#b5722a" stroke-width="2.1"/>
<circle cx="1331.9" cy="976.0" r="6.3" fill="#b5722a"/>
<circle cx="1354.5" cy="976.0" r="6.3" fill="#b5722a"/>
<circle cx="1376.4" cy="978.5" r="6.3" fill="#b5722a"/>
<circle cx="1398.6" cy="964.7" r="6.3" fill="#b5722a"/>
<circle cx="1421.3" cy="991.1" r="6.3" fill="#b5722a"/>
<circle cx="1443.4" cy="1005.0" r="6.3" fill="#b5722a"/>
<circle cx="1465.4" cy="967.2" r="6.3" fill="#b5722a"/>
<circle cx="1487.8" cy="958.4" r="6.3" fill="#b5722a"/>
<circle cx="1509.9" cy="965.9" r="6.3" fill="#b5722a"/>
<circle cx="1532.1" cy="989.1" r="6.3" fill="#b5722a"/>
<circle cx="1554.8" cy="1071.7" r="6.3" fill="#b5722a"/>
<path d="M1331.9,982.3 L1554.8,982.3" fill="none" stroke="#f5c242" stroke-width="2.5" stroke-linejoin="round"/>
<path d="M1331.9,962.2V986.1M1324.9,962.2H1338.9M1324.9,986.1H1338.9M1354.5,955.9V984.8M1347.5,955.9H1361.5M1347.5,984.8H1361.5M1376.4,965.2V989.9M1369.4,965.2H1383.4M1369.4,989.9H1383.4M1398.6,957.1V1010.5M1391.6,957.1H1405.6M1391.6,1010.5H1405.6M1421.3,963.9V1001.2M1414.3,963.9H1428.3M1414.3,1001.2H1428.3M1443.4,1003.7V1028.9M1436.4,1003.7H1450.4M1436.4,1028.9H1450.4M1465.4,956.4V978.5M1458.4,956.4H1472.4M1458.4,978.5H1472.4M1487.8,950.8V991.1M1480.8,950.8H1494.8M1480.8,991.1H1494.8M1509.9,953.3V984.8M1502.9,953.3H1516.9M1502.9,984.8H1516.9M1532.1,939.0V1013.8M1525.1,939.0H1539.1M1525.1,1013.8H1539.1M1554.8,945.8V1044.0M1547.8,945.8H1561.8M1547.8,1044.0H1561.8" fill="none" stroke="#f5c242" stroke-width="2.1"/>
<circle cx="1331.9" cy="977.3" r="6.3" fill="#f5c242"/>
<circle cx="1354.5" cy="974.7" r="6.3" fill="#f5c242"/>
<circle cx="1376.4" cy="979.8" r="6.3" fill="#f5c242"/>
<circle cx="1398.6" cy="982.3" r="6.3" fill="#f5c242"/>
<circle cx="1421.3" cy="979.8" r="6.3" fill="#f5c242"/>
<circle cx="1443.4" cy="1018.8" r="6.3" fill="#f5c242"/>
<circle cx="1465.4" cy="973.5" r="6.3" fill="#f5c242"/>
<circle cx="1487.8" cy="971.0" r="6.3" fill="#f5c242"/>
<circle cx="1509.9" cy="972.2" r="6.3" fill="#f5c242"/>
<circle cx="1532.1" cy="977.3" r="6.3" fill="#f5c242"/>
<circle cx="1554.8" cy="994.9" r="6.3" fill="#f5c242"/>
<path d="M1331.9,981.0 L1554.8,981.0" fill="none" stroke="#8b2311" stroke-width="2.5" stroke-linejoin="round"/>
<path d="M1331.9,965.9V987.3M1324.9,965.9H1338.9M1324.9,987.3H1338.9M1354.5,965.9V986.1M1347.5,965.9H1361.5M1347.5,986.1H1361.5M1376.4,971.0V986.1M1369.4,971.0H1383.4M1369.4,986.1H1383.4M1398.6,954.6V1006.2M1391.6,954.6H1405.6M1391.6,1006.2H1405.6M1421.3,974.0V1007.5M1414.3,974.0H1428.3M1414.3,1007.5H1428.3M1443.4,984.8V1015.0M1436.4,984.8H1450.4M1436.4,1015.0H1450.4M1465.4,960.9V977.3M1458.4,960.9H1472.4M1458.4,977.3H1472.4M1487.8,952.1V991.1M1480.8,952.1H1494.8M1480.8,991.1H1494.8M1509.9,947.0V984.8M1502.9,947.0H1516.9M1502.9,984.8H1516.9M1532.1,954.6V1005.5M1525.1,954.6H1539.1M1525.1,1005.5H1539.1M1554.8,975.2V1020.8M1547.8,975.2H1561.8M1547.8,1020.8H1561.8" fill="none" stroke="#8b2311" stroke-width="2.1"/>
<circle cx="1331.9" cy="977.3" r="6.3" fill="#8b2311"/>
<circle cx="1354.5" cy="977.3" r="6.3" fill="#8b2311"/>
<circle cx="1376.4" cy="979.3" r="6.3" fill="#8b2311"/>
<circle cx="1398.6" cy="981.0" r="6.3" fill="#8b2311"/>
<circle cx="1421.3" cy="991.1" r="6.3" fill="#8b2311"/>
<circle cx="1443.4" cy="999.4" r="6.3" fill="#8b2311"/>
<circle cx="1465.4" cy="969.0" r="6.3" fill="#8b2311"/>
<circle cx="1487.8" cy="971.7" r="6.3" fill="#8b2311"/>
<circle cx="1509.9" cy="965.4" r="6.3" fill="#8b2311"/>
<circle cx="1532.1" cy="979.8" r="6.3" fill="#8b2311"/>
<circle cx="1554.8" cy="998.2" r="6.3" fill="#8b2311"/>
<path d="M1331.9,972.2 L1334.4,972.5 L1336.9,972.9 L1339.4,973.3 L1341.9,973.7 L1344.4,974.1 L1346.9,974.5 L1349.4,975.0 L1351.9,975.5 L1354.4,976.0 L1356.9,976.5 L1359.4,977.0 L1361.9,977.6 L1364.4,978.2 L1366.9,978.8 L1369.4,979.4 L1371.9,980.2 L1374.4,980.9 L1376.9,981.7 L1379.5,982.6 L1382.0,983.6 L1384.5,984.6 L1387.0,985.8 L1389.5,987.0 L1392.0,988.3 L1394.5,989.6 L1397.0,991.0 L1399.5,992.4 L1402.0,993.9 L1404.5,995.5 L1407.0,997.2 L1409.5,999.0 L1412.0,1000.9 L1414.5,1002.8 L1417.0,1004.8 L1419.5,1006.8 L1422.0,1008.9 L1424.5,1011.0 L1427.0,1013.2 L1429.5,1015.5 L1432.0,1017.8 L1434.6,1020.2 L1437.1,1022.7 L1439.6,1025.3 L1442.1,1027.9 L1444.6,1030.6 L1447.1,1033.4 L1449.6,1036.4 L1452.1,1039.4 L1454.6,1042.5 L1457.1,1045.7 L1459.6,1049.0 L1462.1,1052.3 L1464.6,1055.6 L1467.1,1059.0 L1469.6,1062.4 L1472.1,1066.0 L1474.6,1069.6 L1477.1,1073.2 L1479.6,1076.9 L1482.1,1080.7 L1484.6,1084.5 L1487.1,1088.4 L1489.6,1092.3 L1492.2,1096.5 L1494.7,1100.8 L1497.2,1105.2 L1499.7,1109.6 L1502.2,1113.9 L1504.7,1118.0 L1507.2,1121.9 L1509.7,1125.5 L1512.2,1128.9 L1514.7,1132.2 L1517.2,1135.5 L1519.7,1138.6 L1522.2,1141.6 L1524.7,1144.3 L1527.2,1146.9 L1529.7,1149.2 L1532.2,1151.1 L1534.7,1152.9 L1537.2,1154.7 L1539.7,1156.3 L1542.2,1157.8 L1544.7,1159.2 L1547.3,1160.5 L1549.8,1161.6 L1552.3,1162.4 L1554.8,1163.1" fill="none" stroke="#000" stroke-width="2.5" stroke-linejoin="round"/>
<path d="M1331.9,962.7V988.6M1324.9,962.7H1338.9M1324.9,988.6H1338.9M1354.5,962.2V986.1M1347.5,962.2H1361.5M1347.5,986.1H1361.5M1398.6,966.4V997.9M1391.6,966.4H1405.6M1391.6,997.9H1405.6M1421.3,993.6V1026.9M1414.3,993.6H1428.3M1414.3,1026.9H1428.3M1443.4,1050.8V1073.0M1436.4,1050.8H1450.4M1436.4,1073.0H1450.4M1465.4,1007.0V1038.5M1458.4,1007.0H1472.4M1458.4,1038.5H1472.4M1487.8,1076.7V1096.9M1480.8,1076.7H1494.8M1480.8,1096.9H1494.8M1554.8,1152.3V1165.7M1547.8,1152.3H1561.8M1547.8,1165.7H1561.8" fill="none" stroke="#000" stroke-width="2.1"/>
<circle cx="1331.9" cy="976.0" r="6.3" fill="#000"/>
<circle cx="1354.5" cy="974.2" r="6.3" fill="#000"/>
<circle cx="1376.4" cy="979.3" r="6.3" fill="#000"/>
<circle cx="1398.6" cy="982.3" r="6.3" fill="#000"/>
<circle cx="1421.3" cy="1010.5" r="6.3" fill="#000"/>
<circle cx="1443.4" cy="1061.6" r="6.3" fill="#000"/>
<circle cx="1465.4" cy="1022.6" r="6.3" fill="#000"/>
<circle cx="1487.8" cy="1086.8" r="6.3" fill="#000"/>
<circle cx="1509.9" cy="1139.7" r="6.3" fill="#000"/>
<circle cx="1532.1" cy="1154.3" r="6.3" fill="#000"/>
<circle cx="1554.8" cy="1159.1" r="6.3" fill="#000"/>
<path d="M1252.3,880.3V1183.7M1241.7,1183.0H1554.8M1242.3,967.2H1252.3M1242.3,1075.0H1252.3M1242.3,1183.0H1252.3M1321.5,1183.0V1193.5M1415.0,1183.0V1193.5M1508.2,1183.0V1193.5" fill="none" stroke="#000" stroke-width="1.3"/>
<text x="1230.3" y="975.5" font-size="23" text-anchor="end">100</text>
<text x="1230.3" y="1083.3" font-size="23" text-anchor="end">50</text>
<text x="1230.3" y="1191.3" font-size="23" text-anchor="end">0</text>
<text xml:space="preserve" x="1302.7" y="1222.3" font-size="23" fill="#000" textLength="37.2" lengthAdjust="spacingAndGlyphs">−10</text>
<text xml:space="preserve" x="1401.8" y="1222.3" font-size="23" fill="#000" textLength="25.6" lengthAdjust="spacingAndGlyphs">−8</text>
<text xml:space="preserve" x="1495" y="1222.3" font-size="23" fill="#000" textLength="25.6" lengthAdjust="spacingAndGlyphs">−6</text>
<text xml:space="preserve" x="1192" y="887.9" font-size="36" fill="#000" font-weight="bold" stroke="#000" stroke-width="0.7" textLength="18.7" lengthAdjust="spacingAndGlyphs">f</text>
<text xml:space="preserve" x="1267" y="1267.2" font-size="27" fill="#000" textLength="36.49" lengthAdjust="spacingAndGlyphs">log</text>
<text xml:space="preserve" x="1303.49" y="1275.57" font-size="20.52" fill="#000" textLength="23.11" lengthAdjust="spacingAndGlyphs">10</text>
<text xml:space="preserve" x="1326.6" y="1267.2" font-size="27" fill="#000" textLength="212.8" lengthAdjust="spacingAndGlyphs">[DS18561882]; M</text>
<text xml:space="preserve" x="1259.6" y="1175.3" font-size="21" fill="#444" font-style="italic" textLength="80.7" lengthAdjust="spacingAndGlyphs">MTHFD2</text>
<text xml:space="preserve" x="1340.3" y="1167.74" font-size="17.01" fill="#444" textLength="23.3" lengthAdjust="spacingAndGlyphs">−/−</text>
<path d="M1724.8,961.1 L1732.9,961.1 L1736.3,966.9 L1947.7,966.9" fill="none" stroke="#b5722a" stroke-width="2.5" stroke-linejoin="round"/>
<path d="M1724.8,940.5V975.3M1717.8,940.5H1731.8M1717.8,975.3H1731.8M1769.4,946.6V978.7M1762.4,946.6H1776.4M1762.4,978.7H1776.4M1814.1,951.6V1000.7M1807.1,951.6H1821.1M1807.1,1000.7H1821.1M1836.1,988.8V1010.8M1829.1,988.8H1843.1M1829.1,1010.8H1843.1M1880.7,942.2V958.4M1873.7,942.2H1887.7M1873.7,958.4H1887.7M1903.1,939.8V966.9M1896.1,939.8H1910.1M1896.1,966.9H1910.1M1925.1,938.8V961.8M1918.1,938.8H1932.1M1918.1,961.8H1932.1M1947.7,960.8V1012.5M1940.7,960.8H1954.7M1940.7,1012.5H1954.7" fill="none" stroke="#b5722a" stroke-width="2.1"/>
<circle cx="1724.8" cy="958.4" r="6.3" fill="#b5722a"/>
<circle cx="1747.1" cy="968.6" r="6.3" fill="#b5722a"/>
<circle cx="1769.4" cy="964.5" r="6.3" fill="#b5722a"/>
<circle cx="1791.4" cy="965.2" r="6.3" fill="#b5722a"/>
<circle cx="1814.1" cy="969.6" r="6.3" fill="#b5722a"/>
<circle cx="1836.1" cy="1000.7" r="6.3" fill="#b5722a"/>
<circle cx="1858.1" cy="966.9" r="6.3" fill="#b5722a"/>
<circle cx="1880.7" cy="950.6" r="6.3" fill="#b5722a"/>
<circle cx="1903.1" cy="953.3" r="6.3" fill="#b5722a"/>
<circle cx="1925.1" cy="950.6" r="6.3" fill="#b5722a"/>
<circle cx="1947.7" cy="987.2" r="6.3" fill="#b5722a"/>
<path d="M1724.8,975.3 L1925.1,975.3 L1947.7,978.7" fill="none" stroke="#f5c242" stroke-width="2.5" stroke-linejoin="round"/>
<path d="M1724.8,958.4V978.7M1717.8,958.4H1731.8M1717.8,978.7H1731.8M1747.1,963.5V985.5M1740.1,963.5H1754.1M1740.1,985.5H1754.1M1769.4,956.7V978.7M1762.4,956.7H1776.4M1762.4,978.7H1776.4M1791.4,958.4V978.7M1784.4,958.4H1798.4M1784.4,978.7H1798.4M1814.1,970.2V1000.7M1807.1,970.2H1821.1M1807.1,1000.7H1821.1M1836.1,983.8V1014.2M1829.1,983.8H1843.1M1829.1,1014.2H1843.1M1858.1,943.2V961.8M1851.1,943.2H1865.1M1851.1,961.8H1865.1M1880.7,958.4V977.0M1873.7,958.4H1887.7M1873.7,977.0H1887.7M1903.1,958.4V978.7M1896.1,958.4H1910.1M1896.1,978.7H1910.1M1925.1,948.3V970.2M1918.1,948.3H1932.1M1918.1,970.2H1932.1M1947.7,975.3V1029.4M1940.7,975.3H1954.7M1940.7,1029.4H1954.7" fill="none" stroke="#f5c242" stroke-width="2.1"/>
<circle cx="1724.8" cy="970.2" r="6.3" fill="#f5c242"/>
<circle cx="1747.1" cy="970.2" r="6.3" fill="#f5c242"/>
<circle cx="1769.4" cy="968.6" r="6.3" fill="#f5c242"/>
<circle cx="1791.4" cy="966.9" r="6.3" fill="#f5c242"/>
<circle cx="1814.1" cy="988.8" r="6.3" fill="#f5c242"/>
<circle cx="1836.1" cy="1001.7" r="6.3" fill="#f5c242"/>
<circle cx="1858.1" cy="950.6" r="6.3" fill="#f5c242"/>
<circle cx="1880.7" cy="968.6" r="6.3" fill="#f5c242"/>
<circle cx="1903.1" cy="970.2" r="6.3" fill="#f5c242"/>
<circle cx="1925.1" cy="960.1" r="6.3" fill="#f5c242"/>
<circle cx="1947.7" cy="1005.8" r="6.3" fill="#f5c242"/>
<path d="M1724.8,973.6 L1947.7,973.6" fill="none" stroke="#8b2311" stroke-width="2.5" stroke-linejoin="round"/>
<path d="M1724.8,951.6V977.0M1717.8,951.6H1731.8M1717.8,977.0H1731.8M1747.1,963.5V988.8M1740.1,963.5H1754.1M1740.1,988.8H1754.1M1769.4,948.9V983.8M1762.4,948.9H1776.4M1762.4,983.8H1776.4M1791.4,956.0V977.0M1784.4,956.0H1798.4M1784.4,977.0H1798.4M1814.1,964.2V1008.1M1807.1,964.2H1821.1M1807.1,1008.1H1821.1M1836.1,975.3V1014.2M1829.1,975.3H1843.1M1829.1,1014.2H1843.1M1858.1,955.0V978.7M1851.1,955.0H1865.1M1851.1,978.7H1865.1M1880.7,956.7V970.2M1873.7,956.7H1887.7M1873.7,970.2H1887.7M1903.1,940.5V977.0M1896.1,940.5H1910.1M1896.1,977.0H1910.1M1925.1,940.5V983.8M1918.1,940.5H1932.1M1918.1,983.8H1932.1M1947.7,975.3V1014.2M1940.7,975.3H1954.7M1940.7,1014.2H1954.7" fill="none" stroke="#8b2311" stroke-width="2.1"/>
<circle cx="1724.8" cy="964.5" r="6.3" fill="#8b2311"/>
<circle cx="1747.1" cy="976.3" r="6.3" fill="#8b2311"/>
<circle cx="1769.4" cy="966.9" r="6.3" fill="#8b2311"/>
<circle cx="1791.4" cy="966.9" r="6.3" fill="#8b2311"/>
<circle cx="1814.1" cy="986.5" r="6.3" fill="#8b2311"/>
<circle cx="1836.1" cy="994.6" r="6.3" fill="#8b2311"/>
<circle cx="1858.1" cy="966.9" r="6.3" fill="#8b2311"/>
<circle cx="1880.7" cy="962.8" r="6.3" fill="#8b2311"/>
<circle cx="1903.1" cy="958.4" r="6.3" fill="#8b2311"/>
<circle cx="1925.1" cy="964.5" r="6.3" fill="#8b2311"/>
<circle cx="1947.7" cy="994.9" r="6.3" fill="#8b2311"/>
<path d="M1724.5,986.3 L1725.6,986.7 L1726.7,987.2 L1727.8,987.7 L1728.9,988.2 L1730.1,988.7 L1731.2,989.3 L1732.3,989.9 L1733.4,990.6 L1734.5,991.2 L1735.7,991.9 L1736.8,992.6 L1737.9,993.4 L1739.0,994.2 L1740.1,995.0 L1741.3,995.9 L1742.4,996.8 L1743.5,997.8 L1744.6,998.9 L1745.7,1000.0 L1746.9,1001.2 L1748.0,1002.5 L1749.1,1004.0 L1750.2,1005.6 L1751.3,1007.4 L1752.5,1009.3 L1753.6,1011.3 L1754.7,1013.4 L1755.8,1015.4 L1756.9,1017.5 L1758.1,1019.6 L1759.2,1021.7 L1760.3,1023.8 L1761.4,1026.0 L1762.5,1028.3 L1763.7,1030.6 L1764.8,1032.9 L1765.9,1035.2 L1767.0,1037.5 L1768.1,1039.8 L1769.3,1042.0 L1770.4,1044.1 L1771.5,1046.2 L1772.6,1048.3 L1773.7,1050.3 L1774.9,1052.4 L1776.0,1054.4 L1777.1,1056.4 L1778.2,1058.5 L1779.3,1060.5 L1780.5,1062.6 L1781.6,1064.7 L1782.7,1066.8 L1783.8,1068.9 L1784.9,1071.0 L1786.1,1073.2 L1787.2,1075.3 L1788.3,1077.4 L1789.4,1079.6 L1790.5,1081.7 L1791.7,1083.9 L1792.8,1086.0 L1793.9,1088.2 L1795.0,1090.4 L1796.2,1092.5 L1797.3,1094.7 L1798.4,1096.9 L1799.5,1099.0 L1800.6,1101.2 L1801.8,1103.3 L1802.9,1105.4 L1804.0,1107.5 L1805.1,1109.7 L1806.2,1111.8 L1807.4,1113.9 L1808.5,1116.1 L1809.6,1118.1 L1810.7,1120.2 L1811.8,1122.2 L1813.0,1124.1 L1814.1,1126.0 L1815.2,1127.8 L1816.3,1129.6 L1817.4,1131.4 L1818.6,1133.1 L1819.7,1134.8 L1820.8,1136.4 L1821.9,1138.0 L1823.0,1139.4 L1824.2,1140.8 L1825.3,1142.0 L1826.4,1143.2 L1827.5,1144.3 L1828.6,1145.4 L1829.8,1146.5 L1830.9,1147.4 L1832.0,1148.3 L1833.1,1149.1 L1834.2,1149.9 L1835.4,1150.5 L1836.5,1151.2 L1837.6,1151.8 L1838.7,1152.4 L1839.8,1152.9 L1841.0,1153.4 L1842.1,1153.7 L1843.2,1154.0 L1844.3,1154.3 L1845.4,1154.5 L1846.6,1154.7 L1847.7,1154.9 L1848.8,1155.1 L1849.9,1155.2 L1851.0,1155.3 L1852.2,1155.4 L1853.3,1155.4 L1854.4,1155.4 L1855.5,1155.5 L1856.6,1155.5 L1857.8,1155.5 L1858.9,1155.5 L1860.0,1155.5 L1861.1,1155.5 L1862.2,1155.5 L1863.4,1155.5 L1864.5,1155.5 L1865.6,1155.5 L1866.7,1155.6 L1867.8,1155.6 L1869.0,1155.6 L1870.1,1155.6 L1871.2,1155.6 L1872.3,1155.6 L1873.4,1155.6 L1874.6,1155.6 L1875.7,1155.6 L1876.8,1155.6 L1877.9,1155.6 L1879.1,1155.6 L1880.2,1155.6 L1881.3,1155.7 L1882.4,1155.7 L1883.5,1155.7 L1884.7,1155.7 L1885.8,1155.7 L1886.9,1155.7 L1888.0,1155.7 L1889.1,1155.7 L1890.3,1155.7 L1891.4,1155.7 L1892.5,1155.7 L1893.6,1155.7 L1894.7,1155.7 L1895.9,1155.7 L1897.0,1155.7 L1898.1,1155.7 L1899.2,1155.7 L1900.3,1155.7 L1901.5,1155.7 L1902.6,1155.7 L1903.7,1155.7 L1904.8,1155.7 L1905.9,1155.8 L1907.1,1155.8 L1908.2,1155.8 L1909.3,1155.8 L1910.4,1155.8 L1911.5,1155.8 L1912.7,1155.8 L1913.8,1155.8 L1914.9,1155.8 L1916.0,1155.8 L1917.1,1155.8 L1918.3,1155.8 L1919.4,1155.8 L1920.5,1155.8 L1921.6,1155.8 L1922.7,1155.8 L1923.9,1155.8 L1925.0,1155.8 L1926.1,1155.8 L1927.2,1155.8 L1928.3,1155.8 L1929.5,1155.8 L1930.6,1155.8 L1931.7,1155.8 L1932.8,1155.8 L1933.9,1155.8 L1935.1,1155.8 L1936.2,1155.8 L1937.3,1155.8 L1938.4,1155.8 L1939.5,1155.8 L1940.7,1155.8 L1941.8,1155.8 L1942.9,1155.8 L1944.0,1155.8 L1945.1,1155.8 L1946.3,1155.8 L1947.4,1155.8" fill="none" stroke="#000" stroke-width="2.5" stroke-linejoin="round"/>
<circle cx="1724.8" cy="986.1" r="6.3" fill="#000"/>
<circle cx="1747.1" cy="1000.0" r="6.3" fill="#000"/>
<circle cx="1769.4" cy="1044.7" r="6.3" fill="#000"/>
<circle cx="1791.4" cy="1082.9" r="6.3" fill="#000"/>
<circle cx="1814.1" cy="1126.9" r="6.3" fill="#000"/>
<circle cx="1836.1" cy="1155.3" r="6.3" fill="#000"/>
<circle cx="1858.1" cy="1149.9" r="6.3" fill="#000"/>
<circle cx="1880.7" cy="1153.9" r="6.3" fill="#000"/>
<circle cx="1903.1" cy="1155.6" r="6.3" fill="#000"/>
<circle cx="1925.1" cy="1156.3" r="6.3" fill="#000"/>
<circle cx="1947.7" cy="1159.0" r="6.3" fill="#000"/>
<path d="M1644.3,882.3V1185.7M1634.0,1185.0H1948.0M1634.3,968.9H1644.3M1634.3,1077.0H1644.3M1634.3,1185.0H1644.3M1714.3,1185.0V1195.5M1807.3,1185.0V1195.5M1900.7,1185.0V1195.5" fill="none" stroke="#000" stroke-width="1.3"/>
<text x="1622.3" y="977.2" font-size="23" text-anchor="end">100</text>
<text x="1622.3" y="1085.3" font-size="23" text-anchor="end">50</text>
<text x="1622.3" y="1193.3" font-size="23" text-anchor="end">0</text>
<text xml:space="preserve" x="1695.5" y="1224.3" font-size="23" fill="#000" textLength="37.2" lengthAdjust="spacingAndGlyphs">−10</text>
<text xml:space="preserve" x="1794.1" y="1224.3" font-size="23" fill="#000" textLength="25.6" lengthAdjust="spacingAndGlyphs">−8</text>
<text xml:space="preserve" x="1887.5" y="1224.3" font-size="23" fill="#000" textLength="25.6" lengthAdjust="spacingAndGlyphs">−6</text>
<text xml:space="preserve" x="1585.8" y="887.5" font-size="36" fill="#000" font-weight="bold" stroke="#000" stroke-width="0.7" textLength="25.6" lengthAdjust="spacingAndGlyphs">g</text>
<text xml:space="preserve" x="1699.8" y="1267.2" font-size="27" fill="#000" textLength="36.32" lengthAdjust="spacingAndGlyphs">log</text>
<text xml:space="preserve" x="1736.12" y="1275.57" font-size="20.52" fill="#000" textLength="23.01" lengthAdjust="spacingAndGlyphs">10</text>
<text xml:space="preserve" x="1759.13" y="1267.2" font-size="27" fill="#000" textLength="133.07" lengthAdjust="spacingAndGlyphs">[SHIN1]; M</text>
<text xml:space="preserve" x="1651.7" y="1175.3" font-size="21" fill="#444" font-style="italic" textLength="81.08" lengthAdjust="spacingAndGlyphs">MTHFD2</text>
<text xml:space="preserve" x="1732.78" y="1167.74" font-size="17.01" fill="#444" textLength="23.42" lengthAdjust="spacingAndGlyphs">−/−</text>
<line x1="1983.2" y1="945.9" x2="2028.2" y2="945.9" stroke="#000" stroke-width="1.9" stroke-linecap="butt"/>
<circle cx="2005.6" cy="945.9" r="6.5" fill="#000"/>
<text xml:space="preserve" x="2039" y="951.6" font-size="22" fill="#000" textLength="74" lengthAdjust="spacingAndGlyphs">Vehicle</text>
<line x1="1983.2" y1="989.2" x2="2028.2" y2="989.2" stroke="#8b2311" stroke-width="1.9" stroke-linecap="butt"/>
<circle cx="2005.6" cy="989.2" r="6.5" fill="#8b2311"/>
<text xml:space="preserve" x="2039" y="995.6" font-size="22" fill="#000" textLength="30" lengthAdjust="spacingAndGlyphs">HX</text>
<line x1="1983.2" y1="1032.8" x2="2028.2" y2="1032.8" stroke="#f5c242" stroke-width="1.9" stroke-linecap="butt"/>
<circle cx="2005.6" cy="1032.8" r="6.5" fill="#f5c242"/>
<text xml:space="preserve" x="2039" y="1039.6" font-size="22" fill="#000" textLength="82" lengthAdjust="spacingAndGlyphs">Formate</text>
<line x1="1983.2" y1="1076.1" x2="2028.2" y2="1076.1" stroke="#b5722a" stroke-width="1.9" stroke-linecap="butt"/>
<circle cx="2005.6" cy="1076.1" r="6.5" fill="#b5722a"/>
<text xml:space="preserve" x="2039" y="1082.9" font-size="22" fill="#000" textLength="128" lengthAdjust="spacingAndGlyphs">HX + formate</text>
<line x1="1983.2" y1="1115.7" x2="2028.2" y2="1115.7" stroke="#b3b3b3" stroke-width="1.9" stroke-linecap="butt"/>
<circle cx="2005.6" cy="1115.7" r="6.5" fill="#b3b3b3"/>
<text xml:space="preserve" x="2039" y="1121.8" font-size="22" fill="#000" textLength="128" lengthAdjust="spacingAndGlyphs">HX + formate</text>
<text xml:space="preserve" x="2039" y="1146.8" font-size="22" fill="#000" textLength="114" lengthAdjust="spacingAndGlyphs">+ thymidine</text>
<text xml:space="preserve" x="0.5" y="1350.2" font-size="36" fill="#000" font-weight="bold" stroke="#000" stroke-width="0.7" textLength="24.3" lengthAdjust="spacingAndGlyphs">h</text>
<path d="M83.6,1349.6 H959 C1004.29,1349.6 1041,1386.31 1041,1431.6 V1949 C1041,1994.29 1004.29,2031 959,2031 H83.6 C39.42,2031 3.6,1992.95 3.6,1946 V1415.6 C3.6,1379.15 39.42,1349.6 83.6,1349.6 Z" fill="#fff" stroke="#595959" stroke-width="3"/>
<text xml:space="preserve" x="49" y="1398.7" font-size="27" fill="#000" textLength="137.5" lengthAdjust="spacingAndGlyphs">Folate trap</text>
<text xml:space="preserve" x="230.8" y="1519.6" font-size="27" fill="#be1e2d" textLength="176.7" lengthAdjust="spacingAndGlyphs">Hypoxanthine</text>
<line x1="423.5" y1="1511.9" x2="532.45" y2="1511.9" stroke="#44546a" stroke-width="1.7"/>
<polygon points="541,1511.9 528.5,1517.3 532,1511.9 528.5,1506.5" fill="#44546a"/>
<text xml:space="preserve" x="557.6" y="1520.2" font-size="27" fill="#e30613" textLength="46.9" lengthAdjust="spacingAndGlyphs">IMP</text>
<rect x="582.8" y="1371.8" width="340" height="53.2" rx="26.6" ry="26.6" fill="#f6f6f6" stroke="#000" stroke-width="2"/>
<text xml:space="preserve" x="593.8" y="1406.8" font-size="27" fill="#000" textLength="319.2" lengthAdjust="spacingAndGlyphs">De novo purine synthesis</text>
<text xml:space="preserve" x="720" y="1468.6" font-size="27" fill="#000" textLength="64.7" lengthAdjust="spacingAndGlyphs">PRPP</text>
<text transform="translate(725.16 1558.8) scale(0.81 1)" x="0" y="0" font-size="101.02" fill="#e30613" stroke="#e30613" stroke-width="1.6" stroke-linejoin="miter">X</text>
<rect x="774" y="1487.7" width="122.2" height="48" rx="13" ry="13" fill="#d9d9d9" stroke="#000" stroke-width="2"/>
<text xml:space="preserve" x="802.5" y="1520.2" font-size="27" fill="#000" textLength="65.5" lengthAdjust="spacingAndGlyphs">PPAT</text>
<line x1="630.4" y1="1511.9" x2="730" y2="1511.9" stroke="#d9071e" stroke-width="4" stroke-linecap="butt"/>
<line x1="728" y1="1498.4" x2="728" y2="1525.4" stroke="#d9071e" stroke-width="4" stroke-linecap="butt"/>
<line x1="751.8" y1="1477" x2="751.8" y2="1558.05" stroke="#44546a" stroke-width="1.7"/>
<polygon points="751.8,1566.6 746.4,1554.1 751.8,1557.6 757.2,1554.1" fill="#44546a"/>
<text xml:space="preserve" x="726.7" y="1598" font-size="27" fill="#c3c3c3" textLength="50.3" lengthAdjust="spacingAndGlyphs">PRA</text>
<line x1="751.8" y1="1616" x2="751.8" y2="1639.05" stroke="#ababab" stroke-width="1.8"/>
<polygon points="751.8,1647.6 746.4,1635.1 751.8,1638.6 757.2,1635.1" fill="#ababab"/>
<line x1="751.8" y1="1657" x2="751.8" y2="1678.75" stroke="#ababab" stroke-width="1.8"/>
<polygon points="751.8,1687.3 746.4,1674.8 751.8,1678.3 757.2,1674.8" fill="#ababab"/>
<line x1="751.8" y1="1697.2" x2="751.8" y2="1719.45" stroke="#ababab" stroke-width="1.8"/>
<polygon points="751.8,1728 746.4,1715.5 751.8,1719 757.2,1715.5" fill="#ababab"/>
<text xml:space="preserve" x="94.2" y="1698.7" font-size="27" fill="#be1e2d" textLength="96" lengthAdjust="spacingAndGlyphs">TH9619</text>
<line x1="203" y1="1688.8" x2="259.5" y2="1688.8" stroke="#be1e2d" stroke-width="3.6" stroke-linecap="butt"/>
<line x1="257.7" y1="1677.8" x2="257.7" y2="1699.8" stroke="#be1e2d" stroke-width="3.6" stroke-linecap="butt"/>
<rect x="272.6" y="1662.6" width="201" height="53.1" rx="26.5" ry="26.5" fill="#8ccdf0" stroke="#000" stroke-width="2"/>
<text xml:space="preserve" x="290.2" y="1697.8" font-size="27" fill="#000" textLength="166.1" lengthAdjust="spacingAndGlyphs">MTHFD1 (DC)</text>
<line x1="477.9" y1="1742" x2="477.9" y2="1639.13" stroke="#b5d8d3" stroke-width="4.2"/>
<polygon points="477.9,1627.5 485.15,1644.5 477.9,1639.74 470.65,1644.5" fill="#b5d8d3"/>
<text xml:space="preserve" x="403.3" y="1787.4" font-size="27" fill="#e30613" textLength="159.4" lengthAdjust="spacingAndGlyphs">10-CHO-THF</text>
<line x1="477.9" y1="1913.6" x2="477.9" y2="1810.83" stroke="#2a877b" stroke-width="4.2"/>
<polygon points="477.9,1799.2 485.15,1816.2 477.9,1811.44 470.65,1816.2" fill="#2a877b"/>
<rect x="272.6" y="1833.8" width="201" height="53.5" rx="26.5" ry="26.5" fill="#8ccdf0" stroke="#000" stroke-width="2"/>
<text xml:space="preserve" x="293.6" y="1868.7" font-size="27" fill="#000" textLength="159.4" lengthAdjust="spacingAndGlyphs">MTHFD1 (FS)</text>
<text xml:space="preserve" x="353.6" y="1954.4" font-size="27" fill="#000" textLength="178.8" lengthAdjust="spacingAndGlyphs">THF + formate</text>
<text xml:space="preserve" x="712.2" y="1766" font-size="27" fill="#c3c3c3" textLength="80.2" lengthAdjust="spacingAndGlyphs">AICAR</text>
<path d="M639,1779.7 C700,1784 752.5,1796 752.5,1816 C752.5,1836 700,1846 640,1852.6" fill="none" stroke="#ababab" stroke-width="1.8" />
<polygon points="633.8,1853.3 645.67,1846.62 642.5,1852.39 646.8,1857.36" fill="#ababab"/>
<line x1="752.8" y1="1779" x2="752.8" y2="1851.85" stroke="#ababab" stroke-width="1.8"/>
<polygon points="752.8,1860.4 747.4,1847.9 752.8,1851.4 758.2,1847.9" fill="#ababab"/>
<text transform="translate(624.05 1815.6) scale(0.81 1)" x="0" y="0" font-size="101.16" fill="#e30613" stroke="#e30613" stroke-width="1.6" stroke-linejoin="miter">X</text>
<text xml:space="preserve" x="542.2" y="1875.5" font-size="27" fill="#c3c3c3" textLength="50.5" lengthAdjust="spacingAndGlyphs">THF</text>
<rect x="774" y="1791.5" width="226" height="53.5" rx="14" ry="14" fill="#d9d9d9" stroke="#000" stroke-width="2"/>
<text xml:space="preserve" x="809.6" y="1826.4" font-size="27" fill="#000" textLength="155.9" lengthAdjust="spacingAndGlyphs">AICAR Tfase</text>
<text xml:space="preserve" x="703.9" y="1898" font-size="27" fill="#c3c3c3" textLength="95.9" lengthAdjust="spacingAndGlyphs">FAICAR</text>
<line x1="752.8" y1="1907.4" x2="752.8" y2="1951.45" stroke="#ababab" stroke-width="1.8"/>
<polygon points="752.8,1960 747.4,1947.5 752.8,1951 758.2,1947.5" fill="#ababab"/>
<rect x="639" y="1971.7" width="233.4" height="52.5" rx="26.3" ry="26.3" fill="#fde1af" stroke="#000" stroke-width="2"/>
<text xml:space="preserve" x="652.5" y="2006.3" font-size="27" fill="#000" textLength="207" lengthAdjust="spacingAndGlyphs">De novo purines</text>
<text transform="translate(728.26 2024) scale(0.8 1)" x="0" y="0" font-size="100.73" fill="#e30613" stroke="#e30613" stroke-width="1.6" stroke-linejoin="miter">X</text>
<path d="M1172.4,1349.6 H2048.2 C2093.49,1349.6 2130.2,1386.31 2130.2,1431.6 V1949 C2130.2,1994.29 2093.49,2031 2048.2,2031 H1172.4 C1128.22,2031 1092.4,1992.95 1092.4,1946 V1415.6 C1092.4,1379.15 1128.22,1349.6 1172.4,1349.6 Z" fill="#fff" stroke="#595959" stroke-width="3"/>
<text xml:space="preserve" x="1133" y="1398.7" font-size="27" fill="#000" textLength="271" lengthAdjust="spacingAndGlyphs">Release of folate trap</text>
<text xml:space="preserve" x="1301.6" y="1519.3" font-size="27" fill="#be1e2d" textLength="177.2" lengthAdjust="spacingAndGlyphs">Hypoxanthine</text>
<line x1="1496.4" y1="1511.9" x2="1602.95" y2="1511.9" stroke="#44546a" stroke-width="1.7"/>
<polygon points="1611.5,1511.9 1599,1517.3 1602.5,1511.9 1599,1506.5" fill="#44546a"/>
<text xml:space="preserve" x="1625.8" y="1521.5" font-size="27" fill="#e30613" textLength="47.2" lengthAdjust="spacingAndGlyphs">IMP</text>
<rect x="1655.6" y="1371.4" width="340.5" height="53.6" rx="26.6" ry="26.6" fill="#f6f6f6" stroke="#000" stroke-width="2"/>
<text xml:space="preserve" x="1666" y="1406.4" font-size="27" fill="#000" textLength="319.7" lengthAdjust="spacingAndGlyphs">De novo purine synthesis</text>
<text xml:space="preserve" x="1791.8" y="1466.9" font-size="27" fill="#000" textLength="64.8" lengthAdjust="spacingAndGlyphs">PRPP</text>
<text transform="translate(1797.96 1560) scale(0.8 1)" x="0" y="0" font-size="101.16" fill="#e30613" stroke="#e30613" stroke-width="1.6" stroke-linejoin="miter">X</text>
<rect x="1847.4" y="1488" width="121.3" height="47.5" rx="13" ry="13" fill="#d9d9d9" stroke="#000" stroke-width="2"/>
<text xml:space="preserve" x="1875.8" y="1520.2" font-size="27" fill="#000" textLength="65.2" lengthAdjust="spacingAndGlyphs">PPAT</text>
<line x1="1703" y1="1512" x2="1803.3" y2="1512" stroke="#d9071e" stroke-width="4" stroke-linecap="butt"/>
<line x1="1801.3" y1="1498.5" x2="1801.3" y2="1525.5" stroke="#d9071e" stroke-width="4" stroke-linecap="butt"/>
<line x1="1824.2" y1="1477.3" x2="1824.2" y2="1558.05" stroke="#44546a" stroke-width="1.7"/>
<polygon points="1824.2,1566.6 1818.8,1554.1 1824.2,1557.6 1829.6,1554.1" fill="#44546a"/>
<text xml:space="preserve" x="1799.4" y="1598.3" font-size="27" fill="#c3c3c3" textLength="50.6" lengthAdjust="spacingAndGlyphs">PRA</text>
<line x1="1824.2" y1="1615.6" x2="1824.2" y2="1638.15" stroke="#ababab" stroke-width="1.8"/>
<polygon points="1824.2,1646.7 1818.8,1634.2 1824.2,1637.7 1829.6,1634.2" fill="#ababab"/>
<line x1="1824.2" y1="1656.3" x2="1824.2" y2="1678.85" stroke="#ababab" stroke-width="1.8"/>
<polygon points="1824.2,1687.4 1818.8,1674.9 1824.2,1678.4 1829.6,1674.9" fill="#ababab"/>
<line x1="1824.2" y1="1696.2" x2="1824.2" y2="1719.05" stroke="#ababab" stroke-width="1.8"/>
<polygon points="1824.2,1727.6 1818.8,1715.1 1824.2,1718.6 1829.6,1715.1" fill="#ababab"/>
<text xml:space="preserve" x="1972.6" y="1698.8" font-size="27" fill="#0b9444" textLength="73.6" lengthAdjust="spacingAndGlyphs">AICAr</text>
<line x1="1960.5" y1="1698.2" x2="1895.02" y2="1746.43" stroke="#0b9444" stroke-width="6"/>
<polygon points="1878.5,1758.6 1894.01,1734.13 1895.89,1745.79 1906.47,1751.04" fill="#0b9444"/>
<text xml:space="preserve" x="1785.3" y="1766.5" font-size="27" fill="#000" textLength="80.4" lengthAdjust="spacingAndGlyphs">AICAR</text>
<path d="M1712,1779.2 C1772,1784 1825.2,1796 1825.2,1816.5 C1825.2,1836 1772,1846 1712.5,1852.7" fill="none" stroke="#0b9444" stroke-width="1.8" />
<polygon points="1706.2,1853.4 1718.07,1846.72 1714.9,1852.49 1719.2,1857.46" fill="#0b9444"/>
<line x1="1825.5" y1="1779.6" x2="1825.5" y2="1855.35" stroke="#0b9444" stroke-width="1.8"/>
<polygon points="1825.5,1863.9 1820.1,1851.4 1825.5,1854.9 1830.9,1851.4" fill="#0b9444"/>
<text xml:space="preserve" x="1504" y="1787.3" font-size="27" fill="#000" textLength="159" lengthAdjust="spacingAndGlyphs">10-CHO-THF</text>
<text xml:space="preserve" x="1644" y="1864.9" font-size="27" fill="#000" textLength="50" lengthAdjust="spacingAndGlyphs">THF</text>
<rect x="1847.4" y="1791.3" width="225.6" height="54" rx="14" ry="14" fill="#d9d9d9" stroke="#000" stroke-width="2"/>
<text xml:space="preserve" x="1882.7" y="1826.3" font-size="27" fill="#000" textLength="155.3" lengthAdjust="spacingAndGlyphs">AICAR Tfase</text>
<text xml:space="preserve" x="1778" y="1896" font-size="27" fill="#000" textLength="95.3" lengthAdjust="spacingAndGlyphs">FAICAR</text>
<line x1="1825.5" y1="1907.4" x2="1825.5" y2="1955.05" stroke="#0b9444" stroke-width="1.8"/>
<polygon points="1825.5,1963.6 1820.1,1951.1 1825.5,1954.6 1830.9,1951.1" fill="#0b9444"/>
<rect x="1711.8" y="1971.8" width="233" height="52.9" rx="26.3" ry="26.3" fill="#fde1af" stroke="#000" stroke-width="2"/>
<text xml:space="preserve" x="1724.8" y="2005.3" font-size="27" fill="#000" textLength="208" lengthAdjust="spacingAndGlyphs">De novo purines</text>
<text xml:space="preserve" x="1166.5" y="1698.7" font-size="27" fill="#be1e2d" textLength="96" lengthAdjust="spacingAndGlyphs">TH9619</text>
<line x1="1276.3" y1="1690.4" x2="1330" y2="1690.4" stroke="#be1e2d" stroke-width="3.6" stroke-linecap="butt"/>
<line x1="1328.2" y1="1679.4" x2="1328.2" y2="1701.4" stroke="#be1e2d" stroke-width="3.6" stroke-linecap="butt"/>
<rect x="1345" y="1662.6" width="200.8" height="53.1" rx="26.5" ry="26.5" fill="#8ccdf0" stroke="#000" stroke-width="2"/>
<text xml:space="preserve" x="1362.8" y="1697.8" font-size="27" fill="#000" textLength="165.8" lengthAdjust="spacingAndGlyphs">MTHFD1 (DC)</text>
<line x1="1550.8" y1="1742" x2="1550.8" y2="1641.63" stroke="#b5d8d3" stroke-width="4.2"/>
<polygon points="1550.8,1630 1558.05,1647 1550.8,1642.24 1543.55,1647" fill="#b5d8d3"/>
<line x1="1550.8" y1="1913.6" x2="1550.8" y2="1817.03" stroke="#2a877b" stroke-width="4.2"/>
<polygon points="1550.8,1805.4 1558.05,1822.4 1550.8,1817.64 1543.55,1822.4" fill="#2a877b"/>
<rect x="1345" y="1833.8" width="200.8" height="53.5" rx="26.5" ry="26.5" fill="#8ccdf0" stroke="#000" stroke-width="2"/>
<text xml:space="preserve" x="1366.5" y="1868.7" font-size="27" fill="#000" textLength="158.7" lengthAdjust="spacingAndGlyphs">MTHFD1 (FS)</text>
<text xml:space="preserve" x="1427.4" y="1954.4" font-size="27" fill="#000" textLength="178.2" lengthAdjust="spacingAndGlyphs">THF + formate</text>
<path d="M142.2,2264.3V2347.3M136.0,2264.3H148.5M136.0,2347.3H148.5M164.5,2266.9V2311.4M158.2,2266.9H170.7M158.2,2311.4H170.7M187.0,2259.1V2293.1M180.8,2259.1H193.3M180.8,2293.1H193.3M209.5,2243.3V2277.4M203.3,2243.3H215.8M203.3,2277.4H215.8M231.8,2280.0V2327.2M225.5,2280.0H238.0M225.5,2327.2H238.0M254.1,2299.7V2359.9M247.8,2299.7H260.3M247.8,2359.9H260.3M276.3,2268.2V2356.0M270.1,2268.2H282.6M270.1,2356.0H282.6M298.6,2297.8V2365.7M292.3,2297.8H304.8M292.3,2365.7H304.8M321.1,2333.7V2367.0M314.9,2333.7H327.4M314.9,2367.0H327.4M343.4,2395.3V2414.9M337.1,2395.3H349.6M337.1,2414.9H349.6M365.9,2415.7V2433.2M359.6,2415.7H372.1M359.6,2433.2H372.1" fill="none" stroke="#00bf00" stroke-width="2.1"/>
<circle cx="142.2" cy="2289.7" r="7.3" fill="#00bf00"/>
<circle cx="164.5" cy="2286.6" r="7.3" fill="#00bf00"/>
<circle cx="187.0" cy="2274.2" r="7.3" fill="#00bf00"/>
<circle cx="209.5" cy="2257.7" r="7.3" fill="#00bf00"/>
<circle cx="231.8" cy="2297.0" r="7.3" fill="#00bf00"/>
<circle cx="254.1" cy="2331.1" r="7.3" fill="#00bf00"/>
<circle cx="276.3" cy="2312.0" r="7.3" fill="#00bf00"/>
<circle cx="298.6" cy="2332.4" r="7.3" fill="#00bf00"/>
<circle cx="321.1" cy="2350.2" r="7.3" fill="#00bf00"/>
<circle cx="343.4" cy="2404.4" r="7.3" fill="#00bf00"/>
<circle cx="365.9" cy="2424.9" r="7.3" fill="#00bf00"/>
<path d="M142.2,2232.9 L144.7,2232.9 L147.2,2232.9 L149.8,2232.9 L152.3,2232.9 L154.8,2232.9 L157.3,2232.9 L159.8,2232.9 L162.3,2232.9 L164.8,2232.9 L167.4,2232.9 L169.9,2232.9 L172.4,2232.9 L174.9,2232.9 L177.4,2232.9 L179.9,2232.9 L182.4,2232.9 L184.9,2232.9 L187.5,2232.9 L190.0,2233.0 L192.5,2233.0 L195.0,2233.0 L197.5,2233.0 L200.0,2233.0 L202.5,2233.0 L205.1,2233.0 L207.6,2233.1 L210.1,2233.1 L212.6,2233.1 L215.1,2233.1 L217.6,2234.0 L220.1,2235.7 L222.6,2238.1 L225.2,2242.8 L227.7,2250.5 L230.2,2259.1 L232.7,2267.0 L235.2,2274.8 L237.7,2282.8 L240.2,2290.8 L242.8,2298.5 L245.3,2305.9 L247.8,2313.3 L250.3,2320.4 L252.8,2326.9 L255.3,2332.5 L257.8,2337.7 L260.3,2342.5 L262.9,2347.1 L265.4,2351.5 L267.9,2355.7 L270.4,2359.7 L272.9,2363.7 L275.4,2367.7 L277.9,2371.6 L280.4,2375.5 L283.0,2379.3 L285.5,2383.0 L288.0,2386.7 L290.5,2390.2 L293.0,2393.6 L295.5,2396.8 L298.0,2399.9 L300.6,2402.8 L303.1,2405.6 L305.6,2408.3 L308.1,2410.9 L310.6,2413.4 L313.1,2415.9 L315.6,2418.2 L318.1,2420.3 L320.7,2422.4 L323.2,2424.3 L325.7,2426.2 L328.2,2428.0 L330.7,2429.7 L333.2,2431.4 L335.7,2432.9 L338.3,2434.4 L340.8,2435.8 L343.3,2437.1 L345.8,2438.4 L348.3,2439.5 L350.8,2440.7 L353.3,2441.8 L355.8,2442.8 L358.4,2443.8 L360.9,2444.7 L363.4,2445.6 L365.9,2446.3" fill="none" stroke="#9c9c9c" stroke-width="2.5" stroke-linejoin="round"/>
<path d="M142.2,2216.4V2243.3M136.0,2216.4H148.5M136.0,2243.3H148.5M164.5,2219.0V2259.1M158.2,2219.0H170.7M158.2,2259.1H170.7M187.0,2216.6V2256.4M180.8,2216.6H193.3M180.8,2256.4H193.3M209.5,2222.4V2238.1M203.3,2222.4H215.8M203.3,2238.1H215.8M231.8,2224.2V2287.9M225.5,2224.2H238.0M225.5,2287.9H238.0M254.1,2310.1V2352.8M247.8,2310.1H260.3M247.8,2352.8H260.3M276.3,2339.7V2385.6M270.1,2339.7H282.6M270.1,2385.6H282.6M298.6,2387.9V2405.2M292.3,2387.9H304.8M292.3,2405.2H304.8M321.1,2415.4V2432.4M314.9,2415.4H327.4M314.9,2432.4H327.4" fill="none" stroke="#9c9c9c" stroke-width="2.1"/>
<circle cx="142.2" cy="2228.9" r="7.3" fill="#9c9c9c"/>
<circle cx="164.5" cy="2239.4" r="7.3" fill="#9c9c9c"/>
<circle cx="187.0" cy="2237.6" r="7.3" fill="#9c9c9c"/>
<circle cx="209.5" cy="2227.6" r="7.3" fill="#9c9c9c"/>
<circle cx="231.8" cy="2256.4" r="7.3" fill="#9c9c9c"/>
<circle cx="254.1" cy="2331.9" r="7.3" fill="#9c9c9c"/>
<circle cx="276.3" cy="2362.0" r="7.3" fill="#9c9c9c"/>
<circle cx="298.6" cy="2396.0" r="7.3" fill="#9c9c9c"/>
<circle cx="321.1" cy="2423.5" r="7.3" fill="#9c9c9c"/>
<circle cx="343.4" cy="2435.9" r="7.3" fill="#9c9c9c"/>
<circle cx="365.9" cy="2445.0" r="7.3" fill="#9c9c9c"/>
<path d="M142.5,2277.7 L143.6,2277.7 L144.7,2277.7 L145.9,2277.7 L147.0,2277.7 L148.1,2277.7 L149.2,2277.7 L150.4,2277.7 L151.5,2277.7 L152.6,2277.7 L153.7,2277.7 L154.9,2277.7 L156.0,2277.7 L157.1,2277.7 L158.2,2277.7 L159.4,2277.7 L160.5,2277.7 L161.6,2277.7 L162.7,2277.7 L163.9,2277.7 L165.0,2277.7 L166.1,2277.7 L167.2,2277.7 L168.4,2277.7 L169.5,2277.7 L170.6,2277.7 L171.7,2277.7 L172.9,2277.7 L174.0,2277.7 L175.1,2277.7 L176.2,2277.7 L177.4,2277.7 L178.5,2277.7 L179.6,2277.7 L180.7,2277.7 L181.9,2277.7 L183.0,2277.7 L184.1,2277.8 L185.2,2277.8 L186.4,2277.8 L187.5,2277.8 L188.6,2277.8 L189.7,2277.8 L190.9,2277.8 L192.0,2277.8 L193.1,2277.8 L194.2,2277.8 L195.4,2277.8 L196.5,2277.9 L197.6,2277.9 L198.7,2277.9 L199.9,2277.9 L201.0,2277.9 L202.1,2277.9 L203.3,2277.9 L204.4,2277.9 L205.5,2278.0 L206.6,2278.0 L207.8,2278.0 L208.9,2278.0 L210.0,2278.0 L211.1,2278.0 L212.3,2278.1 L213.4,2278.1 L214.5,2278.1 L215.6,2278.1 L216.8,2278.1 L217.9,2278.2 L219.0,2278.2 L220.1,2278.2 L221.3,2278.2 L222.4,2278.2 L223.5,2278.3 L224.6,2278.3 L225.8,2278.3 L226.9,2278.5 L228.0,2279.5 L229.1,2281.4 L230.3,2283.8 L231.4,2286.6 L232.5,2289.8 L233.6,2294.7 L234.8,2301.0 L235.9,2308.1 L237.0,2315.0 L238.1,2321.2 L239.3,2327.1 L240.4,2333.0 L241.5,2338.8 L242.6,2344.5 L243.8,2350.0 L244.9,2355.2 L246.0,2360.0 L247.1,2364.7 L248.3,2369.4 L249.4,2373.9 L250.5,2378.2 L251.6,2382.3 L252.8,2386.1 L253.9,2389.6 L255.0,2392.7 L256.1,2395.3 L257.3,2397.8 L258.4,2400.0 L259.5,2402.1 L260.6,2404.0 L261.8,2405.9 L262.9,2407.6 L264.0,2409.4 L265.1,2411.1 L266.3,2412.8 L267.4,2414.5 L268.5,2416.1 L269.6,2417.7 L270.8,2419.2 L271.9,2420.7 L273.0,2422.2 L274.1,2423.6 L275.3,2424.9 L276.4,2426.2 L277.5,2427.4 L278.6,2428.6 L279.8,2429.9 L280.9,2431.1 L282.0,2432.2 L283.1,2433.4 L284.3,2434.6 L285.4,2435.7 L286.5,2436.8 L287.6,2437.8 L288.8,2438.9 L289.9,2439.9 L291.0,2440.8 L292.2,2441.8 L293.3,2442.7 L294.4,2443.5 L295.5,2444.3 L296.7,2445.1 L297.8,2445.7 L298.9,2446.4 L300.0,2447.0 L301.2,2447.6 L302.3,2448.3 L303.4,2448.8 L304.5,2449.4 L305.7,2450.0 L306.8,2450.5 L307.9,2451.1 L309.0,2451.6 L310.2,2452.1 L311.3,2452.5 L312.4,2453.0 L313.5,2453.4 L314.7,2453.8 L315.8,2454.2 L316.9,2454.6 L318.0,2454.9 L319.2,2455.2 L320.3,2455.5 L321.4,2455.7 L322.5,2455.9 L323.7,2456.1 L324.8,2456.4 L325.9,2456.5 L327.0,2456.7 L328.2,2456.9 L329.3,2457.1 L330.4,2457.2 L331.5,2457.4 L332.7,2457.5 L333.8,2457.7 L334.9,2457.8 L336.0,2457.9 L337.2,2458.1 L338.3,2458.2 L339.4,2458.3 L340.5,2458.4 L341.7,2458.5 L342.8,2458.6 L343.9,2458.7 L345.0,2458.8 L346.2,2458.9 L347.3,2459.0 L348.4,2459.1 L349.5,2459.2 L350.7,2459.3 L351.8,2459.3 L352.9,2459.4 L354.0,2459.5 L355.2,2459.6 L356.3,2459.7 L357.4,2459.7 L358.5,2459.8 L359.7,2459.9 L360.8,2459.9 L361.9,2460.0 L363.0,2460.0 L364.2,2460.1 L365.3,2460.1 L366.4,2460.1" fill="none" stroke="#790b9a" stroke-width="2.5" stroke-linejoin="round"/>
<path d="M142.2,2259.1V2329.8M136.0,2259.1H148.5M136.0,2329.8H148.5M164.5,2259.1V2310.7M158.2,2259.1H170.7M158.2,2310.7H170.7M187.0,2256.4V2294.4M180.8,2256.4H193.3M180.8,2294.4H193.3M209.5,2259.1V2303.1M203.3,2259.1H215.8M203.3,2303.1H215.8M231.8,2274.8V2325.8M225.5,2274.8H238.0M225.5,2325.8H238.0M254.1,2386.1V2400.5M247.8,2386.1H260.3M247.8,2400.5H260.3M276.3,2401.3V2439.8M270.1,2401.3H282.6M270.1,2439.8H282.6" fill="none" stroke="#790b9a" stroke-width="2.1"/>
<circle cx="142.2" cy="2282.6" r="7.3" fill="#790b9a"/>
<circle cx="164.5" cy="2278.7" r="7.3" fill="#790b9a"/>
<circle cx="187.0" cy="2276.1" r="7.3" fill="#790b9a"/>
<circle cx="209.5" cy="2278.7" r="7.3" fill="#790b9a"/>
<circle cx="231.8" cy="2298.3" r="7.3" fill="#790b9a"/>
<circle cx="254.1" cy="2393.9" r="7.3" fill="#790b9a"/>
<circle cx="276.3" cy="2420.9" r="7.3" fill="#790b9a"/>
<circle cx="298.6" cy="2444.2" r="7.3" fill="#790b9a"/>
<circle cx="321.1" cy="2452.9" r="7.3" fill="#790b9a"/>
<circle cx="343.4" cy="2457.6" r="7.3" fill="#790b9a"/>
<circle cx="365.9" cy="2460.7" r="7.3" fill="#790b9a"/>
<path d="M142.5,2248.6 L143.6,2248.6 L144.7,2248.6 L145.9,2248.6 L147.0,2248.6 L148.1,2248.6 L149.2,2248.6 L150.4,2248.6 L151.5,2248.6 L152.6,2248.6 L153.7,2248.6 L154.9,2248.6 L156.0,2248.6 L157.1,2248.6 L158.2,2248.6 L159.4,2248.6 L160.5,2248.6 L161.6,2248.6 L162.7,2248.6 L163.9,2248.6 L165.0,2248.6 L166.1,2248.6 L167.2,2248.6 L168.4,2248.6 L169.5,2248.6 L170.6,2248.6 L171.7,2248.6 L172.9,2248.6 L174.0,2248.6 L175.1,2248.6 L176.2,2248.6 L177.4,2248.6 L178.5,2248.6 L179.6,2248.6 L180.7,2248.6 L181.9,2248.7 L183.0,2248.7 L184.1,2248.7 L185.2,2248.7 L186.4,2248.7 L187.5,2248.7 L188.6,2248.7 L189.7,2248.7 L190.9,2248.7 L192.0,2248.7 L193.1,2248.7 L194.2,2248.7 L195.4,2248.7 L196.5,2248.7 L197.6,2248.8 L198.7,2248.8 L199.9,2248.8 L201.0,2248.8 L202.1,2248.8 L203.3,2248.8 L204.4,2248.8 L205.5,2248.8 L206.6,2248.8 L207.8,2248.9 L208.9,2248.9 L210.0,2248.9 L211.1,2248.9 L212.3,2248.9 L213.4,2248.9 L214.5,2248.9 L215.6,2249.0 L216.8,2249.0 L217.9,2249.0 L219.0,2249.0 L220.1,2249.0 L221.3,2249.1 L222.4,2249.1 L223.5,2249.1 L224.6,2249.2 L225.8,2249.8 L226.9,2251.2 L228.0,2253.0 L229.1,2255.1 L230.3,2257.5 L231.4,2261.2 L232.5,2266.4 L233.6,2272.6 L234.8,2279.5 L235.9,2287.4 L237.0,2297.1 L238.1,2307.9 L239.3,2319.0 L240.4,2329.9 L241.5,2341.8 L242.6,2354.1 L243.8,2366.2 L244.9,2377.1 L246.0,2386.3 L247.1,2394.4 L248.3,2402.0 L249.4,2408.8 L250.5,2414.7 L251.6,2419.6 L252.8,2423.8 L253.9,2427.5 L255.0,2430.7 L256.1,2433.6 L257.3,2436.1 L258.4,2438.4 L259.5,2440.4 L260.6,2442.3 L261.8,2444.0 L262.9,2445.5 L264.0,2446.9 L265.1,2448.1 L266.3,2449.3 L267.4,2450.4 L268.5,2451.4 L269.6,2452.4 L270.8,2453.3 L271.9,2454.1 L273.0,2454.9 L274.1,2455.6 L275.3,2456.2 L276.4,2456.6 L277.5,2457.0 L278.6,2457.4 L279.8,2457.7 L280.9,2458.1 L282.0,2458.4 L283.1,2458.7 L284.3,2459.0 L285.4,2459.2 L286.5,2459.5 L287.6,2459.7 L288.8,2459.9 L289.9,2460.1 L291.0,2460.3 L292.2,2460.5 L293.3,2460.7 L294.4,2460.8 L295.5,2461.0 L296.7,2461.1 L297.8,2461.2 L298.9,2461.3 L300.0,2461.4 L301.2,2461.5 L302.3,2461.6 L303.4,2461.7 L304.5,2461.8 L305.7,2461.9 L306.8,2462.0 L307.9,2462.0 L309.0,2462.1 L310.2,2462.2 L311.3,2462.3 L312.4,2462.3 L313.5,2462.4 L314.7,2462.4 L315.8,2462.5 L316.9,2462.5 L318.0,2462.6 L319.2,2462.6 L320.3,2462.6 L321.4,2462.7 L322.5,2462.7 L323.7,2462.7 L324.8,2462.7 L325.9,2462.8 L327.0,2462.8 L328.2,2462.8 L329.3,2462.8 L330.4,2462.9 L331.5,2462.9 L332.7,2462.9 L333.8,2462.9 L334.9,2462.9 L336.0,2463.0 L337.2,2463.0 L338.3,2463.0 L339.4,2463.0 L340.5,2463.0 L341.7,2463.1 L342.8,2463.1 L343.9,2463.1 L345.0,2463.1 L346.2,2463.1 L347.3,2463.1 L348.4,2463.1 L349.5,2463.2 L350.7,2463.2 L351.8,2463.2 L352.9,2463.2 L354.0,2463.2 L355.2,2463.2 L356.3,2463.2 L357.4,2463.2 L358.5,2463.2 L359.7,2463.2 L360.8,2463.2 L361.9,2463.2 L363.0,2463.2 L364.2,2463.2 L365.3,2463.2 L366.4,2463.2" fill="none" stroke="#ff8585" stroke-width="2.5" stroke-linejoin="round"/>
<path d="M142.2,2221.1V2269.5M136.0,2221.1H148.5M136.0,2269.5H148.5M164.5,2230.2V2253.8M158.2,2230.2H170.7M158.2,2253.8H170.7M187.0,2230.2V2266.9M180.8,2230.2H193.3M180.8,2266.9H193.3M209.5,2232.9V2266.9M203.3,2232.9H215.8M203.3,2266.9H215.8M231.8,2244.1V2311.4M225.5,2244.1H238.0M225.5,2311.4H238.0M254.1,2420.1V2439.8M247.8,2420.1H260.3M247.8,2439.8H260.3" fill="none" stroke="#ff8585" stroke-width="2.1"/>
<circle cx="142.2" cy="2248.6" r="7.3" fill="#ff8585"/>
<circle cx="164.5" cy="2240.7" r="7.3" fill="#ff8585"/>
<circle cx="187.0" cy="2248.6" r="7.3" fill="#ff8585"/>
<circle cx="209.5" cy="2249.9" r="7.3" fill="#ff8585"/>
<circle cx="231.8" cy="2278.7" r="7.3" fill="#ff8585"/>
<circle cx="254.1" cy="2430.1" r="7.3" fill="#ff8585"/>
<circle cx="276.3" cy="2451.6" r="7.3" fill="#ff8585"/>
<circle cx="298.6" cy="2459.4" r="7.3" fill="#ff8585"/>
<circle cx="321.1" cy="2461.5" r="7.3" fill="#ff8585"/>
<circle cx="343.4" cy="2461.5" r="7.3" fill="#ff8585"/>
<circle cx="365.9" cy="2467.3" r="7.3" fill="#ff8585"/>
<path d="M142.5,2277.8 L143.7,2277.8 L144.8,2277.8 L145.9,2277.8 L147.0,2277.8 L148.2,2277.8 L149.3,2277.8 L150.4,2277.8 L151.5,2277.8 L152.7,2277.8 L153.8,2277.8 L154.9,2277.8 L156.0,2277.8 L157.2,2277.8 L158.3,2277.8 L159.4,2277.8 L160.5,2277.8 L161.7,2277.8 L162.8,2277.8 L163.9,2277.8 L165.0,2277.8 L166.2,2277.8 L167.3,2277.9 L168.4,2277.9 L169.5,2277.9 L170.7,2277.9 L171.8,2277.9 L172.9,2277.9 L174.0,2277.9 L175.2,2277.9 L176.3,2278.0 L177.4,2278.0 L178.5,2278.0 L179.7,2278.0 L180.8,2278.0 L181.9,2278.0 L183.0,2278.1 L184.2,2278.1 L185.3,2278.1 L186.4,2278.1 L187.5,2278.2 L188.7,2278.2 L189.8,2278.2 L190.9,2278.2 L192.0,2278.3 L193.2,2278.3 L194.3,2278.3 L195.4,2278.3 L196.5,2278.4 L197.7,2278.4 L198.8,2278.4 L199.9,2278.5 L201.0,2278.5 L202.1,2278.5 L203.3,2278.6 L204.4,2278.6 L205.5,2278.7 L206.6,2278.7 L207.8,2278.7 L208.9,2278.8 L210.0,2278.8 L211.1,2278.9 L212.3,2278.9 L213.4,2279.0 L214.5,2279.0 L215.6,2279.1 L216.8,2279.1 L217.9,2279.3 L219.0,2279.6 L220.1,2280.0 L221.3,2280.6 L222.4,2281.3 L223.5,2282.1 L224.6,2283.0 L225.8,2284.1 L226.9,2285.6 L228.0,2288.9 L229.1,2293.5 L230.3,2299.0 L231.4,2304.6 L232.5,2310.1 L233.6,2315.9 L234.8,2322.1 L235.9,2328.7 L237.0,2335.6 L238.1,2342.9 L239.3,2350.5 L240.4,2358.5 L241.5,2367.4 L242.6,2377.0 L243.8,2386.9 L244.9,2396.6 L246.0,2405.8 L247.1,2415.5 L248.3,2425.3 L249.4,2434.6 L250.5,2442.6 L251.6,2448.5 L252.8,2453.1 L253.9,2457.2 L255.0,2460.7 L256.1,2463.5 L257.3,2465.4 L258.4,2466.8 L259.5,2468.0 L260.6,2468.9 L261.8,2469.3 L262.9,2469.4 L264.0,2469.4 L265.1,2469.4 L266.3,2469.4 L267.4,2469.4 L268.5,2469.5 L269.6,2469.5 L270.8,2469.5 L271.9,2469.5 L273.0,2469.5 L274.1,2469.5 L275.3,2469.5 L276.4,2469.5 L277.5,2469.5 L278.6,2469.6 L279.8,2469.6 L280.9,2469.6 L282.0,2469.6 L283.1,2469.6 L284.3,2469.6 L285.4,2469.6 L286.5,2469.6 L287.6,2469.6 L288.8,2469.6 L289.9,2469.7 L291.0,2469.7 L292.1,2469.7 L293.3,2469.7 L294.4,2469.7 L295.5,2469.7 L296.6,2469.7 L297.8,2469.7 L298.9,2469.7 L300.0,2469.7 L301.1,2469.7 L302.3,2469.7 L303.4,2469.7 L304.5,2469.7 L305.6,2469.7 L306.8,2469.7 L307.9,2469.8 L309.0,2469.8 L310.1,2469.8 L311.3,2469.8 L312.4,2469.8 L313.5,2469.8 L314.6,2469.8 L315.8,2469.8 L316.9,2469.8 L318.0,2469.8 L319.1,2469.8 L320.3,2469.8 L321.4,2469.8 L322.5,2469.8 L323.6,2469.8 L324.8,2469.8 L325.9,2469.8 L327.0,2469.8 L328.1,2469.8 L329.3,2469.8 L330.4,2469.8 L331.5,2469.8 L332.6,2469.8 L333.8,2469.8 L334.9,2469.8 L336.0,2469.8 L337.1,2469.8 L338.2,2469.8 L339.4,2469.8 L340.5,2469.8 L341.6,2469.8 L342.7,2469.8 L343.9,2469.8 L345.0,2469.8 L346.1,2469.8 L347.2,2469.8 L348.4,2469.8 L349.5,2469.8 L350.6,2469.8 L351.7,2469.8 L352.9,2469.8 L354.0,2469.8 L355.1,2469.8 L356.2,2469.8 L357.4,2469.8 L358.5,2469.8 L359.6,2469.8 L360.7,2469.8 L361.9,2469.8 L363.0,2469.8 L364.1,2469.8 L365.2,2469.8 L366.4,2469.8" fill="none" stroke="#9e0000" stroke-width="2.5" stroke-linejoin="round"/>
<path d="M142.2,2239.4V2314.8M136.0,2239.4H148.5M136.0,2314.8H148.5M164.5,2238.1V2318.0M158.2,2238.1H170.7M158.2,2318.0H170.7M187.0,2243.3V2318.8M180.8,2243.3H193.3M180.8,2318.8H193.3M209.5,2240.7V2329.3M203.3,2240.7H215.8M203.3,2329.3H215.8M231.8,2280.0V2360.7M225.5,2280.0H238.0M225.5,2360.7H238.0" fill="none" stroke="#9e0000" stroke-width="2.1"/>
<circle cx="142.2" cy="2277.4" r="7.3" fill="#9e0000"/>
<circle cx="164.5" cy="2276.1" r="7.3" fill="#9e0000"/>
<circle cx="187.0" cy="2281.3" r="7.3" fill="#9e0000"/>
<circle cx="209.5" cy="2282.6" r="7.3" fill="#9e0000"/>
<circle cx="231.8" cy="2314.6" r="7.3" fill="#9e0000"/>
<circle cx="254.1" cy="2455.0" r="7.3" fill="#9e0000"/>
<circle cx="276.3" cy="2461.3" r="7.3" fill="#9e0000"/>
<circle cx="298.6" cy="2469.4" r="7.3" fill="#9e0000"/>
<circle cx="321.1" cy="2472.0" r="7.3" fill="#9e0000"/>
<circle cx="343.4" cy="2472.0" r="7.3" fill="#9e0000"/>
<circle cx="365.9" cy="2473.3" r="7.3" fill="#9e0000"/>
<path d="M142.5,2278.3 L145.0,2278.4 L147.5,2278.6 L150.0,2278.7 L152.5,2278.9 L155.1,2279.2 L157.6,2279.4 L160.1,2279.7 L162.6,2280.0 L165.1,2280.3 L167.6,2280.6 L170.2,2281.0 L172.7,2281.4 L175.2,2281.9 L177.7,2282.4 L180.2,2283.0 L182.7,2283.6 L185.3,2284.1 L187.8,2284.7 L190.3,2285.2 L192.8,2285.7 L195.3,2286.2 L197.8,2286.8 L200.4,2287.3 L202.9,2287.9 L205.4,2288.5 L207.9,2289.1 L210.4,2289.8 L212.9,2290.5 L215.5,2291.3 L218.0,2292.0 L220.5,2292.8 L223.0,2293.6 L225.5,2294.4 L228.0,2295.2 L230.5,2296.1 L233.1,2296.9 L235.6,2297.7 L238.1,2298.6 L240.6,2299.4 L243.1,2300.3 L245.6,2301.2 L248.2,2302.1 L250.7,2303.1 L253.2,2304.1 L255.7,2305.1 L258.2,2306.2 L260.7,2307.3 L263.3,2308.4 L265.8,2309.6 L268.3,2310.9 L270.8,2312.2 L273.3,2313.6 L275.8,2315.1 L278.4,2316.7 L280.9,2318.5 L283.4,2320.4 L285.9,2322.5 L288.4,2324.7 L290.9,2327.0 L293.5,2329.4 L296.0,2331.9 L298.5,2334.4 L301.0,2337.0 L303.5,2339.8 L306.0,2342.7 L308.6,2345.7 L311.1,2348.7 L313.6,2351.9 L316.1,2355.2 L318.6,2358.4 L321.1,2361.7 L323.6,2365.1 L326.2,2368.7 L328.7,2372.3 L331.2,2376.0 L333.7,2379.8 L336.2,2383.6 L338.7,2387.3 L341.3,2390.9 L343.8,2394.5 L346.3,2398.0 L348.8,2401.4 L351.3,2404.8 L353.8,2408.2 L356.4,2411.6 L358.9,2414.9 L361.4,2418.2 L363.9,2421.5 L366.4,2424.7" fill="none" stroke="#00bf00" stroke-width="2.5" stroke-linejoin="round"/>
<path d="M142.2,2259.8 L144.7,2259.8 L147.2,2259.8 L149.8,2259.8 L152.3,2259.8 L154.8,2259.8 L157.3,2259.8 L159.8,2259.8 L162.3,2259.8 L164.8,2259.8 L167.4,2259.8 L169.9,2259.8 L172.4,2259.8 L174.9,2259.8 L177.4,2259.8 L179.9,2259.8 L182.4,2259.8 L184.9,2259.8 L187.5,2259.8 L190.0,2259.8 L192.5,2259.8 L195.0,2259.8 L197.5,2259.8 L200.0,2259.8 L202.5,2259.8 L205.1,2259.8 L207.6,2259.8 L210.1,2259.8 L212.6,2259.8 L215.1,2259.8 L217.6,2259.8 L220.1,2259.8 L222.6,2259.8 L225.2,2259.8 L227.7,2259.8 L230.2,2259.8 L232.7,2259.8 L235.2,2259.8 L237.7,2259.8 L240.2,2259.8 L242.8,2259.8 L245.3,2259.8 L247.8,2259.8 L250.3,2259.8 L252.8,2259.8 L255.3,2259.8 L257.8,2259.8 L260.3,2259.8 L262.9,2259.8 L265.4,2259.8 L267.9,2259.8 L270.4,2259.8 L272.9,2259.8 L275.4,2260.0 L277.9,2260.2 L280.4,2260.5 L283.0,2261.0 L285.5,2261.6 L288.0,2262.2 L290.5,2263.1 L293.0,2264.6 L295.5,2266.6 L298.0,2269.0 L300.6,2272.0 L303.1,2276.3 L305.6,2281.7 L308.1,2287.9 L310.6,2295.3 L313.1,2305.1 L315.6,2316.7 L318.1,2328.9 L320.7,2340.8 L323.2,2352.3 L325.7,2364.2 L328.2,2376.1 L330.7,2387.4 L333.2,2397.6 L335.7,2407.4 L338.3,2416.9 L340.8,2425.2 L343.3,2431.7 L345.8,2436.7 L348.3,2441.0 L350.8,2444.6 L353.3,2447.4 L355.8,2449.7 L358.4,2451.7 L360.9,2453.5 L363.4,2454.8 L365.9,2455.5" fill="none" stroke="#000" stroke-width="2.5" stroke-linejoin="round"/>
<path d="M142.2,2226.3V2282.6M136.0,2226.3H148.5M136.0,2282.6H148.5M164.5,2231.6V2264.8M158.2,2231.6H170.7M158.2,2264.8H170.7M187.0,2227.6V2277.4M180.8,2227.6H193.3M180.8,2277.4H193.3M209.5,2231.6V2275.3M203.3,2231.6H215.8M203.3,2275.3H215.8M231.8,2231.6V2303.1M225.5,2231.6H238.0M225.5,2303.1H238.0M254.1,2253.3V2322.7M247.8,2253.3H260.3M247.8,2322.7H260.3M276.3,2226.3V2297.0M270.1,2226.3H282.6M270.1,2297.0H282.6M298.6,2246.7V2291.8M292.3,2246.7H304.8M292.3,2291.8H304.8M321.1,2299.1V2379.0M314.9,2299.1H327.4M314.9,2379.0H327.4M343.4,2410.4V2442.4M337.1,2410.4H349.6M337.1,2442.4H349.6M365.9,2452.4V2458.6M359.6,2452.4H372.1M359.6,2458.6H372.1" fill="none" stroke="#000" stroke-width="2.1"/>
<circle cx="142.2" cy="2254.3" r="7.3" fill="#000"/>
<circle cx="164.5" cy="2248.1" r="7.3" fill="#000"/>
<circle cx="187.0" cy="2249.9" r="7.3" fill="#000"/>
<circle cx="209.5" cy="2253.8" r="7.3" fill="#000"/>
<circle cx="231.8" cy="2266.9" r="7.3" fill="#000"/>
<circle cx="254.1" cy="2287.3" r="7.3" fill="#000"/>
<circle cx="276.3" cy="2261.7" r="7.3" fill="#000"/>
<circle cx="298.6" cy="2269.0" r="7.3" fill="#000"/>
<circle cx="321.1" cy="2339.5" r="7.3" fill="#000"/>
<circle cx="343.4" cy="2426.2" r="7.3" fill="#000"/>
<circle cx="365.9" cy="2455.5" r="7.3" fill="#000"/>
<path d="M108.7,2177.3V2483.2M97.7,2482.5H413.3M97.7,2177.9H108.7M97.7,2228.9H108.7M97.7,2279.5H108.7M97.7,2330.3H108.7M97.7,2380.8H108.7M97.7,2431.9H108.7M97.7,2482.5H108.7M131.5,2482.5V2493.5M225.2,2482.5V2493.5M319.5,2482.5V2493.5M413.3,2482.5V2493.5" fill="none" stroke="#000" stroke-width="1.3"/>
<text x="87.2" y="2185.5" font-size="23" text-anchor="end">150</text>
<text x="87.2" y="2236.5" font-size="23" text-anchor="end">125</text>
<text x="87.2" y="2287.1" font-size="23" text-anchor="end">100</text>
<text x="87.2" y="2337.9" font-size="23" text-anchor="end">75</text>
<text x="87.2" y="2388.4" font-size="23" text-anchor="end">50</text>
<text x="87.2" y="2439.5" font-size="23" text-anchor="end">25</text>
<text x="87.2" y="2490.1" font-size="23" text-anchor="end">0</text>
<text xml:space="preserve" x="104.7" y="2521.5" font-size="23" fill="#000" textLength="36.6" lengthAdjust="spacingAndGlyphs">−10</text>
<text xml:space="preserve" x="208.3" y="2521.5" font-size="23" fill="#000" textLength="25.4" lengthAdjust="spacingAndGlyphs">−8</text>
<text xml:space="preserve" x="302.6" y="2521.5" font-size="23" fill="#000" textLength="25.4" lengthAdjust="spacingAndGlyphs">−6</text>
<text xml:space="preserve" x="396.4" y="2521.5" font-size="23" fill="#000" textLength="25.4" lengthAdjust="spacingAndGlyphs">−4</text>
<text xml:space="preserve" x="1" y="2108" font-size="36" fill="#000" font-weight="bold" stroke="#000" stroke-width="0.7" textLength="10" lengthAdjust="spacingAndGlyphs">i</text>
<text xml:space="preserve" x="153" y="2563.5" font-size="27" fill="#000" textLength="37.16" lengthAdjust="spacingAndGlyphs">log</text>
<text xml:space="preserve" x="190.16" y="2571.87" font-size="20.52" fill="#000" textLength="23.54" lengthAdjust="spacingAndGlyphs">10</text>
<text xml:space="preserve" x="213.7" y="2563.5" font-size="27" fill="#000" textLength="153.2" lengthAdjust="spacingAndGlyphs">[TH9619]; M</text>
<text xml:space="preserve" x="112" y="2476.4" font-size="20.5" fill="#484848" textLength="107" lengthAdjust="spacingAndGlyphs">SW620 WT</text>
<text transform="translate(24.9 2403.6) rotate(-90)" x="0" y="0" font-size="27" textLength="145.9" lengthAdjust="spacingAndGlyphs">Viability (%)</text>
<path d="M545.7,2260.4 L548.2,2261.0 L550.7,2261.6 L553.2,2262.3 L555.7,2263.0 L558.3,2263.8 L560.8,2264.5 L563.3,2265.3 L565.8,2266.2 L568.3,2267.0 L570.8,2267.9 L573.3,2268.8 L575.8,2269.7 L578.3,2270.7 L580.8,2271.7 L583.3,2272.8 L585.8,2273.9 L588.3,2275.1 L590.9,2276.4 L593.4,2277.8 L595.9,2279.4 L598.4,2281.1 L600.9,2282.9 L603.4,2284.7 L605.9,2286.6 L608.4,2288.5 L610.9,2290.4 L613.4,2292.3 L615.9,2294.2 L618.4,2296.3 L620.9,2298.3 L623.4,2300.4 L626.0,2302.5 L628.5,2304.5 L631.0,2306.3 L633.5,2308.0 L636.0,2309.5 L638.5,2310.9 L641.0,2312.2 L643.5,2313.4 L646.0,2314.6 L648.5,2315.7 L651.0,2316.8 L653.5,2317.9 L656.0,2318.9 L658.6,2319.9 L661.1,2320.9 L663.6,2321.8 L666.1,2322.7 L668.6,2323.6 L671.1,2324.5 L673.6,2325.3 L676.1,2326.1 L678.6,2326.9 L681.1,2327.7 L683.6,2328.5 L686.1,2329.3 L688.6,2330.1 L691.1,2330.8 L693.7,2331.6 L696.2,2332.3 L698.7,2332.9 L701.2,2333.5 L703.7,2334.1 L706.2,2334.7 L708.7,2335.2 L711.2,2335.7 L713.7,2336.2 L716.2,2336.7 L718.7,2337.2 L721.2,2337.7 L723.7,2338.1 L726.2,2338.6 L728.8,2339.1 L731.3,2339.6 L733.8,2340.1 L736.3,2340.6 L738.8,2341.1 L741.3,2341.5 L743.8,2342.0 L746.3,2342.4 L748.8,2342.8 L751.3,2343.2 L753.8,2343.5 L756.3,2343.9 L758.8,2344.2 L761.4,2344.6 L763.9,2344.9 L766.4,2345.2 L768.9,2345.5" fill="none" stroke="#00bf00" stroke-width="2.5" stroke-linejoin="round"/>
<path d="M545.7,2243.3V2277.4M539.5,2243.3H552.0M539.5,2277.4H552.0M568.0,2253.8V2282.6M561.7,2253.8H574.2M561.7,2282.6H574.2M590.2,2253.8V2301.0M584.0,2253.8H596.5M584.0,2301.0H596.5M612.8,2266.9V2301.0M606.5,2266.9H619.0M606.5,2301.0H619.0M634.8,2291.8V2321.9M628.5,2291.8H641.0M628.5,2321.9H641.0M657.0,2319.3V2369.1M650.8,2319.3H663.3M650.8,2369.1H663.3M679.3,2297.6V2349.4M673.0,2297.6H685.5M673.0,2349.4H685.5M701.8,2294.4V2341.0M695.6,2294.4H708.1M695.6,2341.0H708.1M723.8,2303.6V2336.3M717.6,2303.6H730.1M717.6,2336.3H730.1M746.1,2317.2V2360.7M739.8,2317.2H752.3M739.8,2360.7H752.3M768.9,2335.0V2392.6M762.6,2335.0H775.1M762.6,2392.6H775.1" fill="none" stroke="#00bf00" stroke-width="2.1"/>
<circle cx="545.7" cy="2257.7" r="7.3" fill="#00bf00"/>
<circle cx="568.0" cy="2266.9" r="7.3" fill="#00bf00"/>
<circle cx="590.2" cy="2272.2" r="7.3" fill="#00bf00"/>
<circle cx="612.8" cy="2280.0" r="7.3" fill="#00bf00"/>
<circle cx="634.8" cy="2305.4" r="7.3" fill="#00bf00"/>
<circle cx="657.0" cy="2343.7" r="7.3" fill="#00bf00"/>
<circle cx="679.3" cy="2322.7" r="7.3" fill="#00bf00"/>
<circle cx="701.8" cy="2318.0" r="7.3" fill="#00bf00"/>
<circle cx="723.8" cy="2319.8" r="7.3" fill="#00bf00"/>
<circle cx="746.1" cy="2338.4" r="7.3" fill="#00bf00"/>
<circle cx="768.9" cy="2363.8" r="7.3" fill="#00bf00"/>
<path d="M545.7,2266.9 L548.2,2266.9 L550.7,2266.9 L553.2,2266.9 L555.7,2266.9 L558.3,2266.9 L560.8,2266.9 L563.3,2266.9 L565.8,2266.9 L568.3,2267.0 L570.8,2267.0 L573.3,2267.0 L575.8,2267.0 L578.3,2267.0 L580.8,2267.1 L583.3,2267.1 L585.8,2267.1 L588.3,2267.2 L590.9,2267.2 L593.4,2267.2 L595.9,2267.3 L598.4,2267.3 L600.9,2267.4 L603.4,2267.5 L605.9,2267.5 L608.4,2267.6 L610.9,2267.7 L613.4,2267.8 L615.9,2267.9 L618.4,2268.0 L620.9,2268.1 L623.4,2268.2 L626.0,2270.9 L628.5,2280.7 L631.0,2291.9 L633.5,2305.4 L636.0,2316.2 L638.5,2325.4 L641.0,2333.6 L643.5,2340.9 L646.0,2347.4 L648.5,2353.3 L651.0,2358.7 L653.5,2363.5 L656.0,2367.6 L658.6,2371.1 L661.1,2374.3 L663.6,2377.3 L666.1,2380.0 L668.6,2382.5 L671.1,2384.9 L673.6,2387.0 L676.1,2389.0 L678.6,2390.8 L681.1,2392.6 L683.6,2394.2 L686.1,2395.8 L688.6,2397.3 L691.1,2398.7 L693.7,2400.0 L696.2,2401.1 L698.7,2402.1 L701.2,2402.9 L703.7,2403.6 L706.2,2404.2 L708.7,2404.7 L711.2,2405.3 L713.7,2405.7 L716.2,2406.1 L718.7,2406.5 L721.2,2406.8 L723.7,2407.0 L726.2,2407.3 L728.8,2407.5 L731.3,2407.7 L733.8,2407.9 L736.3,2408.1 L738.8,2408.3 L741.3,2408.5 L743.8,2408.7 L746.3,2408.9 L748.8,2409.0 L751.3,2409.2 L753.8,2409.3 L756.3,2409.4 L758.8,2409.5 L761.4,2409.6 L763.9,2409.6 L766.4,2409.6 L768.9,2409.7" fill="none" stroke="#9c9c9c" stroke-width="2.5" stroke-linejoin="round"/>
<path d="M545.7,2232.9V2323.2M539.5,2232.9H552.0M539.5,2323.2H552.0M568.0,2227.6V2282.6M561.7,2227.6H574.2M561.7,2282.6H574.2M590.2,2216.4V2287.9M584.0,2216.4H596.5M584.0,2287.9H596.5M612.8,2236.0V2320.6M606.5,2236.0H619.0M606.5,2320.6H619.0M634.8,2295.7V2332.4M628.5,2295.7H641.0M628.5,2332.4H641.0M657.0,2357.3V2397.9M650.8,2357.3H663.3M650.8,2397.9H663.3M679.3,2358.6V2400.5M673.0,2358.6H685.5M673.0,2400.5H685.5M701.8,2389.2V2418.8M695.6,2389.2H708.1M695.6,2418.8H708.1M723.8,2390.0V2422.8M717.6,2390.0H730.1M717.6,2422.8H730.1M746.1,2389.2V2425.4M739.8,2389.2H752.3M739.8,2425.4H752.3M768.9,2401.8V2420.9M762.6,2401.8H775.1M762.6,2420.9H775.1" fill="none" stroke="#9c9c9c" stroke-width="2.1"/>
<circle cx="545.7" cy="2277.4" r="7.3" fill="#9c9c9c"/>
<circle cx="568.0" cy="2254.3" r="7.3" fill="#9c9c9c"/>
<circle cx="590.2" cy="2255.1" r="7.3" fill="#9c9c9c"/>
<circle cx="612.8" cy="2274.8" r="7.3" fill="#9c9c9c"/>
<circle cx="634.8" cy="2313.5" r="7.3" fill="#9c9c9c"/>
<circle cx="657.0" cy="2378.2" r="7.3" fill="#9c9c9c"/>
<circle cx="679.3" cy="2379.5" r="7.3" fill="#9c9c9c"/>
<circle cx="701.8" cy="2403.9" r="7.3" fill="#9c9c9c"/>
<circle cx="723.8" cy="2406.5" r="7.3" fill="#9c9c9c"/>
<circle cx="746.1" cy="2407.6" r="7.3" fill="#9c9c9c"/>
<circle cx="768.9" cy="2411.5" r="7.3" fill="#9c9c9c"/>
<path d="M545.7,2269.5 L548.2,2269.5 L550.7,2269.5 L553.2,2269.5 L555.7,2269.5 L558.3,2269.5 L560.8,2269.5 L563.3,2269.5 L565.8,2269.5 L568.3,2269.5 L570.8,2269.5 L573.3,2269.6 L575.8,2269.6 L578.3,2269.6 L580.8,2269.6 L583.3,2269.6 L585.8,2269.6 L588.3,2269.6 L590.9,2269.6 L593.4,2269.6 L595.9,2269.6 L598.4,2269.6 L600.9,2269.7 L603.4,2269.7 L605.9,2269.7 L608.4,2269.7 L610.9,2269.7 L613.4,2269.8 L615.9,2269.8 L618.4,2271.3 L620.9,2275.9 L623.4,2282.2 L626.0,2291.7 L628.5,2303.0 L631.0,2316.8 L633.5,2331.0 L636.0,2343.4 L638.5,2355.2 L641.0,2366.3 L643.5,2376.2 L646.0,2384.5 L648.5,2391.8 L651.0,2398.3 L653.5,2404.2 L656.0,2409.2 L658.6,2413.5 L661.1,2417.5 L663.6,2421.0 L666.1,2424.0 L668.6,2426.5 L671.1,2428.5 L673.6,2430.2 L676.1,2431.6 L678.6,2432.9 L681.1,2434.1 L683.6,2435.2 L686.1,2436.3 L688.6,2437.3 L691.1,2438.3 L693.7,2439.1 L696.2,2439.9 L698.7,2440.5 L701.2,2441.0 L703.7,2441.4 L706.2,2441.7 L708.7,2442.0 L711.2,2442.3 L713.7,2442.5 L716.2,2442.7 L718.7,2442.9 L721.2,2443.0 L723.7,2443.2 L726.2,2443.3 L728.8,2443.4 L731.3,2443.5 L733.8,2443.6 L736.3,2443.7 L738.8,2443.8 L741.3,2443.9 L743.8,2444.0 L746.3,2444.1 L748.8,2444.2 L751.3,2444.3 L753.8,2444.3 L756.3,2444.4 L758.8,2444.4 L761.4,2444.4 L763.9,2444.5 L766.4,2444.5 L768.9,2444.5" fill="none" stroke="#790b9a" stroke-width="2.5" stroke-linejoin="round"/>
<path d="M545.7,2243.3V2292.3M539.5,2243.3H552.0M539.5,2292.3H552.0M568.0,2243.3V2285.2M561.7,2243.3H574.2M561.7,2285.2H574.2M590.2,2253.8V2307.5M584.0,2253.8H596.5M584.0,2307.5H596.5M612.8,2253.8V2290.5M606.5,2253.8H619.0M606.5,2290.5H619.0M634.8,2323.2V2357.3M628.5,2323.2H641.0M628.5,2357.3H641.0M657.0,2399.7V2431.9M650.8,2399.7H663.3M650.8,2431.9H663.3M679.3,2403.1V2432.7M673.0,2403.1H685.5M673.0,2432.7H685.5M701.8,2425.4V2452.9M695.6,2425.4H708.1M695.6,2452.9H708.1M723.8,2430.1V2451.6M717.6,2430.1H730.1M717.6,2451.6H730.1" fill="none" stroke="#790b9a" stroke-width="2.1"/>
<circle cx="545.7" cy="2268.2" r="7.3" fill="#790b9a"/>
<circle cx="568.0" cy="2264.3" r="7.3" fill="#790b9a"/>
<circle cx="590.2" cy="2277.9" r="7.3" fill="#790b9a"/>
<circle cx="612.8" cy="2272.7" r="7.3" fill="#790b9a"/>
<circle cx="634.8" cy="2340.3" r="7.3" fill="#790b9a"/>
<circle cx="657.0" cy="2415.4" r="7.3" fill="#790b9a"/>
<circle cx="679.3" cy="2417.5" r="7.3" fill="#790b9a"/>
<circle cx="701.8" cy="2439.0" r="7.3" fill="#790b9a"/>
<circle cx="723.8" cy="2440.6" r="7.3" fill="#790b9a"/>
<circle cx="746.1" cy="2447.6" r="7.3" fill="#790b9a"/>
<circle cx="768.9" cy="2445.0" r="7.3" fill="#790b9a"/>
<path d="M545.7,2248.6 L548.2,2248.6 L550.7,2248.6 L553.2,2248.6 L555.7,2248.6 L558.3,2248.6 L560.8,2248.6 L563.3,2248.6 L565.8,2248.7 L568.3,2248.7 L570.8,2248.7 L573.3,2248.8 L575.8,2248.8 L578.3,2248.8 L580.8,2248.9 L583.3,2248.9 L585.8,2249.0 L588.3,2249.1 L590.9,2249.2 L593.4,2250.2 L595.9,2252.3 L598.4,2255.1 L600.9,2258.4 L603.4,2261.7 L605.9,2265.6 L608.4,2270.4 L610.9,2275.8 L613.4,2281.5 L615.9,2287.3 L618.4,2293.5 L620.9,2300.5 L623.4,2308.5 L626.0,2318.2 L628.5,2330.6 L631.0,2344.7 L633.5,2359.2 L636.0,2373.5 L638.5,2389.6 L641.0,2405.8 L643.5,2419.7 L646.0,2429.1 L648.5,2436.5 L651.0,2442.8 L653.5,2447.9 L656.0,2451.7 L658.6,2454.4 L661.1,2456.6 L663.6,2458.5 L666.1,2459.9 L668.6,2460.7 L671.1,2461.1 L673.6,2461.5 L676.1,2461.7 L678.6,2461.9 L681.1,2462.0 L683.6,2462.1 L686.1,2462.1 L688.6,2462.1 L691.1,2462.1 L693.7,2462.1 L696.2,2462.1 L698.7,2462.2 L701.2,2462.2 L703.7,2462.2 L706.2,2462.2 L708.7,2462.2 L711.2,2462.2 L713.7,2462.2 L716.2,2462.2 L718.7,2462.2 L721.2,2462.2 L723.7,2462.3 L726.2,2462.3 L728.8,2462.3 L731.3,2462.3 L733.8,2462.3 L736.3,2462.3 L738.8,2462.3 L741.3,2462.3 L743.8,2462.3 L746.3,2462.3 L748.8,2462.3 L751.3,2462.3 L753.8,2462.3 L756.3,2462.3 L758.8,2462.3 L761.4,2462.3 L763.9,2462.3 L766.4,2462.3 L768.9,2462.3" fill="none" stroke="#ff8585" stroke-width="2.5" stroke-linejoin="round"/>
<path d="M545.7,2231.6V2269.5M539.5,2231.6H552.0M539.5,2269.5H552.0M568.0,2230.2V2264.3M561.7,2230.2H574.2M561.7,2264.3H574.2M590.2,2238.9V2266.9M584.0,2238.9H596.5M584.0,2266.9H596.5M612.8,2261.7V2295.7M606.5,2261.7H619.0M606.5,2295.7H619.0M634.8,2339.7V2380.1M628.5,2339.7H641.0M628.5,2380.1H641.0" fill="none" stroke="#ff8585" stroke-width="2.1"/>
<circle cx="545.7" cy="2251.2" r="7.3" fill="#ff8585"/>
<circle cx="568.0" cy="2246.7" r="7.3" fill="#ff8585"/>
<circle cx="590.2" cy="2252.0" r="7.3" fill="#ff8585"/>
<circle cx="612.8" cy="2278.7" r="7.3" fill="#ff8585"/>
<circle cx="634.8" cy="2365.1" r="7.3" fill="#ff8585"/>
<circle cx="657.0" cy="2448.4" r="7.3" fill="#ff8585"/>
<circle cx="679.3" cy="2456.3" r="7.3" fill="#ff8585"/>
<circle cx="701.8" cy="2459.4" r="7.3" fill="#ff8585"/>
<circle cx="723.8" cy="2460.7" r="7.3" fill="#ff8585"/>
<circle cx="746.1" cy="2461.5" r="7.3" fill="#ff8585"/>
<circle cx="768.9" cy="2464.1" r="7.3" fill="#ff8585"/>
<path d="M545.7,2269.5 L548.2,2269.5 L550.7,2269.5 L553.2,2269.5 L555.7,2269.5 L558.3,2269.5 L560.8,2269.6 L563.3,2269.6 L565.8,2269.6 L568.3,2269.6 L570.8,2269.6 L573.3,2269.6 L575.8,2269.6 L578.3,2269.7 L580.8,2269.7 L583.3,2269.7 L585.8,2269.7 L588.3,2269.8 L590.9,2269.8 L593.4,2269.9 L595.9,2269.9 L598.4,2269.9 L600.9,2270.0 L603.4,2270.1 L605.9,2271.3 L608.4,2274.5 L610.9,2278.9 L613.4,2284.1 L615.9,2293.0 L618.4,2304.9 L620.9,2318.1 L623.4,2331.6 L626.0,2347.0 L628.5,2362.7 L631.0,2377.5 L633.5,2392.3 L636.0,2406.4 L638.5,2419.1 L641.0,2431.6 L643.5,2442.3 L646.0,2449.4 L648.5,2454.9 L651.0,2459.6 L653.5,2463.2 L656.0,2465.5 L658.6,2466.5 L661.1,2467.2 L663.6,2467.9 L666.1,2468.4 L668.6,2468.9 L671.1,2469.3 L673.6,2469.6 L676.1,2469.8 L678.6,2469.9 L681.1,2469.9 L683.6,2470.0 L686.1,2470.0 L688.6,2470.1 L691.1,2470.1 L693.7,2470.2 L696.2,2470.2 L698.7,2470.2 L701.2,2470.3 L703.7,2470.3 L706.2,2470.3 L708.7,2470.4 L711.2,2470.4 L713.7,2470.4 L716.2,2470.5 L718.7,2470.5 L721.2,2470.5 L723.7,2470.5 L726.2,2470.5 L728.8,2470.6 L731.3,2470.6 L733.8,2470.6 L736.3,2470.6 L738.8,2470.6 L741.3,2470.6 L743.8,2470.6 L746.3,2470.6 L748.8,2470.7 L751.3,2470.7 L753.8,2470.7 L756.3,2470.7 L758.8,2470.7 L761.4,2470.7 L763.9,2470.7 L766.4,2470.7 L768.9,2470.7" fill="none" stroke="#9e0000" stroke-width="2.5" stroke-linejoin="round"/>
<path d="M545.7,2225.8V2303.6M539.5,2225.8H552.0M539.5,2303.6H552.0M568.0,2243.3V2302.3M561.7,2243.3H574.2M561.7,2302.3H574.2M590.2,2240.7V2300.4M584.0,2240.7H596.5M584.0,2300.4H596.5M612.8,2266.9V2310.1M606.5,2266.9H619.0M606.5,2310.1H619.0M634.8,2380.1V2402.6M628.5,2380.1H641.0M628.5,2402.6H641.0" fill="none" stroke="#9e0000" stroke-width="2.1"/>
<circle cx="545.7" cy="2266.1" r="7.3" fill="#9e0000"/>
<circle cx="568.0" cy="2274.2" r="7.3" fill="#9e0000"/>
<circle cx="590.2" cy="2268.7" r="7.3" fill="#9e0000"/>
<circle cx="612.8" cy="2289.7" r="7.3" fill="#9e0000"/>
<circle cx="634.8" cy="2391.3" r="7.3" fill="#9e0000"/>
<circle cx="657.0" cy="2463.4" r="7.3" fill="#9e0000"/>
<circle cx="679.3" cy="2466.0" r="7.3" fill="#9e0000"/>
<circle cx="701.8" cy="2469.1" r="7.3" fill="#9e0000"/>
<circle cx="723.8" cy="2470.7" r="7.3" fill="#9e0000"/>
<circle cx="746.1" cy="2470.7" r="7.3" fill="#9e0000"/>
<circle cx="768.9" cy="2473.3" r="7.3" fill="#9e0000"/>
<path d="M545.7,2247.8 L548.2,2247.8 L550.7,2247.8 L553.2,2247.8 L555.7,2247.8 L558.3,2247.8 L560.8,2247.8 L563.3,2247.8 L565.8,2247.8 L568.3,2247.8 L570.8,2247.8 L573.3,2247.9 L575.8,2247.9 L578.3,2247.9 L580.8,2247.9 L583.3,2247.9 L585.8,2248.0 L588.3,2248.0 L590.9,2248.0 L593.4,2248.1 L595.9,2248.1 L598.4,2248.1 L600.9,2248.2 L603.4,2248.2 L605.9,2248.3 L608.4,2248.3 L610.9,2248.8 L613.4,2250.2 L615.9,2252.3 L618.4,2254.5 L620.9,2257.5 L623.4,2261.8 L626.0,2266.7 L628.5,2270.8 L631.0,2273.7 L633.5,2276.2 L636.0,2278.5 L638.5,2280.3 L641.0,2281.6 L643.5,2282.3 L646.0,2282.7 L648.5,2282.9 L651.0,2282.9 L653.5,2282.9 L656.0,2282.9 L658.6,2282.9 L661.1,2282.9 L663.6,2282.9 L666.1,2282.9 L668.6,2282.9 L671.1,2282.9 L673.6,2282.9 L676.1,2282.9 L678.6,2282.9 L681.1,2282.9 L683.6,2282.9 L686.1,2282.9 L688.6,2282.9 L691.1,2282.9 L693.7,2282.9 L696.2,2282.9 L698.7,2282.9 L701.2,2282.9 L703.7,2282.9 L706.2,2282.9 L708.7,2282.9 L711.2,2282.9 L713.7,2282.9 L716.2,2282.9 L718.7,2282.9 L721.2,2282.9 L723.7,2282.9 L726.2,2282.9 L728.8,2282.9 L731.3,2282.9 L733.8,2282.9 L736.3,2282.9 L738.8,2282.9 L741.3,2282.9 L743.8,2282.9 L746.3,2282.9 L748.8,2282.9 L751.3,2282.9 L753.8,2282.9 L756.3,2282.9 L758.8,2282.9 L761.4,2282.9 L763.9,2282.9 L766.4,2282.9 L768.9,2282.9" fill="none" stroke="#000" stroke-width="2.5" stroke-linejoin="round"/>
<path d="M545.7,2222.4V2260.4M539.5,2222.4H552.0M539.5,2260.4H552.0M568.0,2210.1V2288.4M561.7,2210.1H574.2M561.7,2288.4H574.2M590.2,2229.7V2276.1M584.0,2229.7H596.5M584.0,2276.1H596.5M612.8,2219.0V2281.3M606.5,2219.0H619.0M606.5,2281.3H619.0M634.8,2238.9V2312.0M628.5,2238.9H641.0M628.5,2312.0H641.0M657.0,2259.1V2331.1M650.8,2259.1H663.3M650.8,2331.1H663.3M679.3,2225.0V2312.8M673.0,2225.0H685.5M673.0,2312.8H685.5M701.8,2242.0V2305.4M695.6,2242.0H708.1M695.6,2305.4H708.1M723.8,2232.1V2336.3M717.6,2232.1H730.1M717.6,2336.3H730.1M746.1,2219.0V2323.2M739.8,2219.0H752.3M739.8,2323.2H752.3M768.9,2264.8V2341.0M762.6,2264.8H775.1M762.6,2341.0H775.1" fill="none" stroke="#000" stroke-width="2.1"/>
<circle cx="545.7" cy="2241.2" r="7.3" fill="#000"/>
<circle cx="568.0" cy="2249.1" r="7.3" fill="#000"/>
<circle cx="590.2" cy="2252.5" r="7.3" fill="#000"/>
<circle cx="612.8" cy="2250.4" r="7.3" fill="#000"/>
<circle cx="634.8" cy="2275.6" r="7.3" fill="#000"/>
<circle cx="657.0" cy="2295.2" r="7.3" fill="#000"/>
<circle cx="679.3" cy="2269.0" r="7.3" fill="#000"/>
<circle cx="701.8" cy="2274.0" r="7.3" fill="#000"/>
<circle cx="723.8" cy="2284.5" r="7.3" fill="#000"/>
<circle cx="746.1" cy="2271.4" r="7.3" fill="#000"/>
<circle cx="768.9" cy="2303.1" r="7.3" fill="#000"/>
<path d="M511.7,2177.3V2483.2M501.2,2482.5H815.5M500.7,2177.9H511.7M500.7,2228.9H511.7M500.7,2279.5H511.7M500.7,2330.3H511.7M500.7,2380.8H511.7M500.7,2431.9H511.7M500.7,2482.5H511.7M534.7,2482.5V2493.5M628.2,2482.5V2493.5M722.0,2482.5V2493.5M815.5,2482.5V2493.5" fill="none" stroke="#000" stroke-width="1.3"/>
<text x="490.2" y="2185.5" font-size="23" text-anchor="end">150</text>
<text x="490.2" y="2236.5" font-size="23" text-anchor="end">125</text>
<text x="490.2" y="2287.1" font-size="23" text-anchor="end">100</text>
<text x="490.2" y="2337.9" font-size="23" text-anchor="end">75</text>
<text x="490.2" y="2388.4" font-size="23" text-anchor="end">50</text>
<text x="490.2" y="2439.5" font-size="23" text-anchor="end">25</text>
<text x="490.2" y="2490.1" font-size="23" text-anchor="end">0</text>
<text xml:space="preserve" x="507.9" y="2521.5" font-size="23" fill="#000" textLength="36.6" lengthAdjust="spacingAndGlyphs">−10</text>
<text xml:space="preserve" x="611.3" y="2521.5" font-size="23" fill="#000" textLength="25.4" lengthAdjust="spacingAndGlyphs">−8</text>
<text xml:space="preserve" x="705.1" y="2521.5" font-size="23" fill="#000" textLength="25.4" lengthAdjust="spacingAndGlyphs">−6</text>
<text xml:space="preserve" x="798.6" y="2521.5" font-size="23" fill="#000" textLength="25.4" lengthAdjust="spacingAndGlyphs">−4</text>
<text xml:space="preserve" x="452.5" y="2108" font-size="36" fill="#000" font-weight="bold" stroke="#000" stroke-width="0.7" textLength="12.5" lengthAdjust="spacingAndGlyphs">j</text>
<text xml:space="preserve" x="554.7" y="2563.5" font-size="27" fill="#000" textLength="37.61" lengthAdjust="spacingAndGlyphs">log</text>
<text xml:space="preserve" x="592.31" y="2571.87" font-size="20.52" fill="#000" textLength="23.83" lengthAdjust="spacingAndGlyphs">10</text>
<text xml:space="preserve" x="616.14" y="2563.5" font-size="27" fill="#000" textLength="155.06" lengthAdjust="spacingAndGlyphs">[TH9975]; M</text>
<text xml:space="preserve" x="516" y="2476.4" font-size="20.5" fill="#484848" textLength="107.5" lengthAdjust="spacingAndGlyphs">SW620 WT</text>
<path d="M946.0,2285.2 L948.9,2285.2 L951.7,2285.2 L954.5,2285.2 L957.3,2285.2 L960.2,2285.2 L963.0,2285.2 L965.8,2285.2 L968.7,2285.2 L971.5,2285.2 L974.3,2285.2 L977.1,2285.2 L980.0,2285.2 L982.8,2285.2 L985.6,2285.2 L988.4,2285.2 L991.3,2285.3 L994.1,2285.3 L996.9,2285.3 L999.8,2285.3 L1002.6,2285.3 L1005.4,2285.4 L1008.2,2285.5 L1009.9,2285.7 L1010.6,2285.8 L1011.1,2285.9 L1011.3,2285.9 L1012.0,2286.1 L1012.7,2286.3 L1013.4,2286.5 L1013.9,2286.7 L1014.1,2286.8 L1014.8,2287.1 L1015.5,2287.6 L1016.2,2288.1 L1016.7,2288.6 L1016.9,2288.7 L1017.6,2289.5 L1018.2,2290.4 L1018.9,2291.5 L1019.6,2292.7 L1019.6,2292.9 L1020.3,2294.5 L1021.0,2296.5 L1021.7,2298.9 L1022.4,2301.6 L1022.4,2301.6 L1023.1,2305.0 L1023.8,2308.8 L1024.5,2313.4 L1025.2,2318.6 L1025.2,2318.9 L1025.9,2324.5 L1026.6,2331.2 L1027.3,2338.6 L1027.9,2346.6 L1028.0,2347.8 L1028.6,2355.3 L1029.3,2364.4 L1030.0,2373.8 L1030.7,2383.2 L1030.9,2385.4 L1031.4,2392.6 L1032.1,2401.7 L1032.8,2410.3 L1033.5,2418.4 L1033.7,2420.8 L1034.2,2425.8 L1034.9,2432.5 L1035.6,2438.4 L1036.3,2443.6 L1036.5,2445.5 L1036.9,2448.1 L1037.6,2452.0 L1038.3,2455.3 L1039.0,2458.1 L1039.4,2459.3 L1039.7,2460.5 L1040.4,2462.5 L1041.1,2464.1 L1041.8,2465.4 L1042.2,2466.1 L1042.5,2466.6 L1043.2,2467.5 L1043.9,2468.3 L1044.6,2468.9 L1045.0,2469.2 L1045.3,2469.4 L1045.9,2469.8 L1046.6,2470.2 L1047.3,2470.5 L1047.8,2470.6 L1048.0,2470.7 L1048.7,2470.9 L1049.4,2471.0 L1050.1,2471.2 L1050.7,2471.3 L1050.8,2471.3 L1053.5,2471.5 L1056.3,2471.6 L1059.2,2471.7 L1062.0,2471.7 L1064.8,2471.7 L1067.6,2471.7 L1070.5,2471.7 L1073.3,2471.7 L1076.1,2471.7 L1078.9,2471.7 L1081.8,2471.7 L1084.6,2471.7 L1087.4,2471.7 L1090.3,2471.7 L1093.1,2471.7 L1095.9,2471.7 L1098.7,2471.7 L1101.6,2471.7 L1104.4,2471.7 L1107.2,2471.7 L1110.1,2471.7 L1112.9,2471.7 L1115.7,2471.7 L1118.5,2471.7 L1121.4,2471.7 L1124.2,2471.7 L1127.0,2471.7 L1129.9,2471.7 L1132.7,2471.7 L1135.5,2471.7 L1138.3,2471.7 L1141.2,2471.7 L1144.0,2471.7 L1146.8,2471.7 L1149.6,2471.7 L1152.5,2471.7 L1155.3,2471.7 L1158.1,2471.7 L1161.0,2471.7 L1163.8,2471.7 L1166.6,2471.7 L1169.4,2471.7" fill="none" stroke="#00bf00" stroke-width="2.5" stroke-linejoin="round"/>
<circle cx="946.0" cy="2282.1" r="7.3" fill="#00bf00"/>
<circle cx="968.3" cy="2276.1" r="7.3" fill="#00bf00"/>
<circle cx="990.3" cy="2299.1" r="7.3" fill="#00bf00"/>
<circle cx="1012.8" cy="2293.1" r="7.3" fill="#00bf00"/>
<circle cx="1035.1" cy="2402.6" r="7.3" fill="#00bf00"/>
<circle cx="1057.3" cy="2468.6" r="7.3" fill="#00bf00"/>
<circle cx="1079.6" cy="2471.2" r="7.3" fill="#00bf00"/>
<circle cx="1102.4" cy="2471.7" r="7.3" fill="#00bf00"/>
<circle cx="1124.1" cy="2471.7" r="7.3" fill="#00bf00"/>
<circle cx="1146.9" cy="2471.7" r="7.3" fill="#00bf00"/>
<circle cx="1169.4" cy="2472.3" r="7.3" fill="#00bf00"/>
<path d="M946.0,2248.6 L948.9,2248.6 L951.7,2248.6 L954.5,2248.6 L957.3,2248.6 L960.2,2248.6 L963.0,2248.6 L965.8,2248.6 L968.7,2248.6 L971.5,2248.6 L974.3,2248.6 L977.1,2248.6 L980.0,2248.6 L982.8,2248.6 L985.6,2248.6 L988.4,2248.6 L991.3,2248.6 L994.1,2248.6 L996.9,2248.6 L999.8,2248.6 L1002.6,2248.6 L1005.4,2248.6 L1008.2,2248.6 L1011.1,2248.6 L1013.9,2248.6 L1016.7,2248.7 L1019.6,2248.8 L1021.7,2249.1 L1022.3,2249.3 L1022.4,2249.3 L1022.8,2249.4 L1023.3,2249.6 L1023.9,2249.8 L1024.4,2250.1 L1024.9,2250.4 L1025.2,2250.6 L1025.5,2250.8 L1026.0,2251.3 L1026.5,2252.0 L1027.1,2252.7 L1027.6,2253.6 L1028.0,2254.6 L1028.1,2254.7 L1028.6,2256.1 L1029.2,2257.7 L1029.7,2259.6 L1030.2,2262.0 L1030.8,2264.8 L1030.9,2265.3 L1031.3,2268.1 L1031.8,2272.1 L1032.4,2276.7 L1032.9,2282.1 L1033.4,2288.3 L1033.7,2291.5 L1034.0,2295.3 L1034.5,2303.3 L1035.0,2312.1 L1035.6,2321.7 L1036.1,2332.0 L1036.5,2340.5 L1036.6,2342.8 L1037.2,2354.0 L1037.7,2365.3 L1038.2,2376.4 L1038.8,2387.3 L1039.3,2397.6 L1039.4,2398.5 L1039.8,2407.2 L1040.4,2416.0 L1040.9,2423.9 L1041.4,2431.0 L1042.0,2437.2 L1042.2,2439.5 L1042.5,2442.6 L1043.0,2447.2 L1043.6,2451.2 L1044.1,2454.5 L1044.6,2457.3 L1045.0,2459.0 L1045.2,2459.6 L1045.7,2461.6 L1046.2,2463.2 L1046.8,2464.5 L1047.3,2465.6 L1047.8,2466.6 L1047.8,2466.6 L1048.4,2467.3 L1048.9,2467.9 L1049.4,2468.4 L1050.0,2468.8 L1050.5,2469.2 L1050.7,2469.3 L1051.0,2469.5 L1051.6,2469.7 L1052.1,2469.9 L1052.6,2470.0 L1053.2,2470.1 L1053.5,2470.2 L1056.3,2470.5 L1059.2,2470.6 L1062.0,2470.7 L1064.8,2470.7 L1067.6,2470.7 L1070.5,2470.7 L1073.3,2470.7 L1076.1,2470.7 L1078.9,2470.7 L1081.8,2470.7 L1084.6,2470.7 L1087.4,2470.7 L1090.3,2470.7 L1093.1,2470.7 L1095.9,2470.7 L1098.7,2470.7 L1101.6,2470.7 L1104.4,2470.7 L1107.2,2470.7 L1110.1,2470.7 L1112.9,2470.7 L1115.7,2470.7 L1118.5,2470.7 L1121.4,2470.7 L1124.2,2470.7 L1127.0,2470.7 L1129.9,2470.7 L1132.7,2470.7 L1135.5,2470.7 L1138.3,2470.7 L1141.2,2470.7 L1144.0,2470.7 L1146.8,2470.7 L1149.6,2470.7 L1152.5,2470.7 L1155.3,2470.7 L1158.1,2470.7 L1161.0,2470.7 L1163.8,2470.7 L1166.6,2470.7 L1169.4,2470.7" fill="none" stroke="#808080" stroke-width="2.5" stroke-linejoin="round"/>
<circle cx="946.0" cy="2238.9" r="7.3" fill="#808080"/>
<circle cx="968.3" cy="2255.1" r="7.3" fill="#808080"/>
<circle cx="990.3" cy="2263.0" r="7.3" fill="#808080"/>
<circle cx="1012.8" cy="2239.4" r="7.3" fill="#808080"/>
<circle cx="1035.1" cy="2349.4" r="7.3" fill="#808080"/>
<circle cx="1057.3" cy="2462.0" r="7.3" fill="#808080"/>
<circle cx="1079.6" cy="2469.1" r="7.3" fill="#808080"/>
<circle cx="1102.4" cy="2469.1" r="7.3" fill="#808080"/>
<circle cx="1124.1" cy="2469.1" r="7.3" fill="#808080"/>
<circle cx="1146.9" cy="2469.6" r="7.3" fill="#808080"/>
<circle cx="1169.4" cy="2470.2" r="7.3" fill="#808080"/>
<path d="M946.0,2284.7 L948.5,2284.7 L951.0,2284.7 L953.6,2284.7 L956.1,2284.7 L958.6,2284.7 L961.1,2284.8 L963.6,2284.8 L966.1,2284.8 L968.6,2284.8 L971.1,2284.8 L973.6,2284.8 L976.2,2284.9 L978.7,2284.9 L981.2,2284.9 L983.7,2284.9 L986.2,2285.0 L988.7,2285.0 L991.2,2285.1 L993.7,2285.1 L996.2,2285.2 L998.7,2285.2 L1001.3,2285.3 L1003.8,2285.7 L1006.3,2286.3 L1008.8,2287.2 L1011.3,2288.3 L1013.8,2289.4 L1016.3,2290.8 L1018.8,2292.6 L1021.3,2294.9 L1023.8,2297.6 L1026.4,2300.9 L1028.9,2305.3 L1031.4,2311.7 L1033.9,2320.0 L1036.4,2331.1 L1038.9,2348.9 L1041.4,2368.9 L1043.9,2387.9 L1046.4,2408.0 L1049.0,2425.9 L1051.5,2439.2 L1054.0,2450.6 L1056.5,2458.9 L1059.0,2463.4 L1061.5,2466.8 L1064.0,2469.1 L1066.5,2470.1 L1069.0,2470.7 L1071.5,2471.1 L1074.1,2471.5 L1076.6,2471.7 L1079.1,2471.7 L1081.6,2471.8 L1084.1,2471.8 L1086.6,2471.8 L1089.1,2471.8 L1091.6,2471.8 L1094.1,2471.8 L1096.6,2471.8 L1099.2,2471.9 L1101.7,2471.9 L1104.2,2471.9 L1106.7,2471.9 L1109.2,2471.9 L1111.7,2471.9 L1114.2,2471.9 L1116.7,2471.9 L1119.2,2471.9 L1121.7,2471.9 L1124.3,2471.9 L1126.8,2472.0 L1129.3,2472.0 L1131.8,2472.0 L1134.3,2472.0 L1136.8,2472.0 L1139.3,2472.0 L1141.8,2472.0 L1144.3,2472.0 L1146.9,2472.0 L1149.4,2472.0 L1151.9,2472.0 L1154.4,2472.0 L1156.9,2472.0 L1159.4,2472.0 L1161.9,2472.0 L1164.4,2472.0 L1166.9,2472.0 L1169.4,2472.0" fill="none" stroke="#790b9a" stroke-width="2.5" stroke-linejoin="round"/>
<circle cx="946.0" cy="2290.5" r="7.3" fill="#790b9a"/>
<circle cx="968.3" cy="2268.7" r="7.3" fill="#790b9a"/>
<circle cx="990.3" cy="2283.9" r="7.3" fill="#790b9a"/>
<circle cx="1012.8" cy="2291.8" r="7.3" fill="#790b9a"/>
<circle cx="1035.1" cy="2328.5" r="7.3" fill="#790b9a"/>
<circle cx="1057.3" cy="2464.7" r="7.3" fill="#790b9a"/>
<circle cx="1079.6" cy="2471.2" r="7.3" fill="#790b9a"/>
<circle cx="1102.4" cy="2471.7" r="7.3" fill="#790b9a"/>
<circle cx="1124.1" cy="2471.7" r="7.3" fill="#790b9a"/>
<circle cx="1146.9" cy="2471.7" r="7.3" fill="#790b9a"/>
<circle cx="1169.4" cy="2472.3" r="7.3" fill="#790b9a"/>
<path d="M946.0,2247.5 L948.9,2247.5 L951.7,2247.5 L954.5,2247.5 L957.3,2247.5 L960.2,2247.5 L963.0,2247.5 L965.8,2247.5 L968.7,2247.5 L971.5,2247.5 L974.3,2247.5 L977.1,2247.5 L980.0,2247.5 L982.8,2247.5 L985.6,2247.5 L988.4,2247.5 L991.3,2247.5 L994.1,2247.5 L996.9,2247.5 L999.8,2247.5 L1002.6,2247.5 L1005.4,2247.5 L1008.2,2247.5 L1011.1,2247.5 L1013.9,2247.5 L1016.7,2247.5 L1019.6,2247.6 L1022.4,2247.6 L1025.2,2247.8 L1027.0,2248.1 L1027.5,2248.2 L1028.0,2248.4 L1028.0,2248.4 L1028.6,2248.5 L1029.1,2248.8 L1029.6,2249.1 L1030.2,2249.4 L1030.7,2249.8 L1030.9,2250.0 L1031.2,2250.3 L1031.8,2250.9 L1032.3,2251.7 L1032.8,2252.6 L1033.4,2253.7 L1033.7,2254.5 L1033.9,2255.1 L1034.4,2256.7 L1035.0,2258.6 L1035.5,2261.0 L1036.0,2263.8 L1036.5,2267.0 L1036.6,2267.2 L1037.1,2271.1 L1037.6,2275.8 L1038.1,2281.2 L1038.7,2287.4 L1039.2,2294.5 L1039.4,2296.5 L1039.7,2302.5 L1040.3,2311.3 L1040.8,2321.0 L1041.3,2331.3 L1041.9,2342.2 L1042.2,2348.6 L1042.4,2353.4 L1042.9,2364.8 L1043.5,2376.0 L1044.0,2386.9 L1044.5,2397.2 L1045.0,2405.8 L1045.1,2406.9 L1045.6,2415.7 L1046.1,2423.7 L1046.7,2430.8 L1047.2,2437.0 L1047.7,2442.5 L1047.8,2443.4 L1048.3,2447.1 L1048.8,2451.1 L1049.3,2454.4 L1049.9,2457.2 L1050.4,2459.6 L1050.7,2460.6 L1050.9,2461.5 L1051.5,2463.2 L1052.0,2464.5 L1052.5,2465.6 L1053.1,2466.5 L1053.5,2467.2 L1053.6,2467.3 L1054.1,2467.9 L1054.7,2468.4 L1055.2,2468.8 L1055.7,2469.2 L1056.3,2469.4 L1056.3,2469.5 L1056.8,2469.7 L1057.3,2469.9 L1057.9,2470.0 L1058.4,2470.1 L1059.2,2470.3 L1062.0,2470.5 L1064.8,2470.6 L1067.6,2470.7 L1070.5,2470.7 L1073.3,2470.7 L1076.1,2470.7 L1078.9,2470.7 L1081.8,2470.7 L1084.6,2470.7 L1087.4,2470.7 L1090.3,2470.7 L1093.1,2470.7 L1095.9,2470.7 L1098.7,2470.7 L1101.6,2470.7 L1104.4,2470.7 L1107.2,2470.7 L1110.1,2470.7 L1112.9,2470.7 L1115.7,2470.7 L1118.5,2470.7 L1121.4,2470.7 L1124.2,2470.7 L1127.0,2470.7 L1129.9,2470.7 L1132.7,2470.7 L1135.5,2470.7 L1138.3,2470.7 L1141.2,2470.7 L1144.0,2470.7 L1146.8,2470.7 L1149.6,2470.7 L1152.5,2470.7 L1155.3,2470.7 L1158.1,2470.7 L1161.0,2470.7 L1163.8,2470.7 L1166.6,2470.7 L1169.4,2470.7" fill="none" stroke="#ff8585" stroke-width="2.5" stroke-linejoin="round"/>
<circle cx="946.0" cy="2255.1" r="7.3" fill="#ff8585"/>
<circle cx="968.3" cy="2244.1" r="7.3" fill="#ff8585"/>
<circle cx="990.3" cy="2244.7" r="7.3" fill="#ff8585"/>
<circle cx="1012.8" cy="2245.4" r="7.3" fill="#ff8585"/>
<circle cx="1035.1" cy="2274.0" r="7.3" fill="#ff8585"/>
<circle cx="1057.3" cy="2450.3" r="7.3" fill="#ff8585"/>
<circle cx="1079.6" cy="2467.3" r="7.3" fill="#ff8585"/>
<circle cx="1102.4" cy="2468.6" r="7.3" fill="#ff8585"/>
<circle cx="1124.1" cy="2469.1" r="7.3" fill="#ff8585"/>
<circle cx="1146.9" cy="2469.1" r="7.3" fill="#ff8585"/>
<circle cx="1169.4" cy="2469.6" r="7.3" fill="#ff8585"/>
<path d="M946.0,2280.8 L948.9,2280.8 L951.7,2280.8 L954.5,2280.8 L957.3,2280.8 L960.2,2280.8 L963.0,2280.8 L965.8,2280.8 L968.7,2280.8 L971.5,2280.8 L974.3,2280.8 L977.1,2280.8 L980.0,2280.8 L982.8,2280.8 L985.6,2280.8 L988.4,2280.8 L991.3,2280.8 L994.1,2280.8 L996.9,2280.8 L999.8,2280.8 L1002.6,2280.8 L1005.4,2280.8 L1008.2,2280.8 L1011.1,2280.8 L1013.9,2280.8 L1016.7,2280.8 L1019.6,2280.8 L1022.4,2280.9 L1025.2,2281.1 L1027.0,2281.3 L1027.5,2281.4 L1028.0,2281.5 L1028.1,2281.5 L1028.7,2281.7 L1029.3,2281.9 L1029.9,2282.1 L1030.5,2282.4 L1030.9,2282.6 L1031.1,2282.7 L1031.6,2283.2 L1032.2,2283.7 L1032.8,2284.3 L1033.4,2285.1 L1033.7,2285.6 L1034.0,2286.1 L1034.6,2287.2 L1035.2,2288.6 L1035.8,2290.3 L1036.3,2292.3 L1036.5,2293.0 L1036.9,2294.7 L1037.5,2297.5 L1038.1,2300.9 L1038.7,2304.9 L1039.3,2309.5 L1039.4,2310.2 L1039.9,2314.8 L1040.4,2320.9 L1041.0,2327.7 L1041.6,2335.2 L1042.2,2343.3 L1042.2,2343.5 L1042.8,2352.3 L1043.4,2361.6 L1044.0,2371.2 L1044.5,2380.8 L1045.0,2388.5 L1045.1,2390.4 L1045.7,2399.7 L1046.3,2408.5 L1046.9,2416.8 L1047.5,2424.3 L1047.8,2428.7 L1048.1,2431.1 L1048.6,2437.2 L1049.2,2442.5 L1049.8,2447.1 L1050.4,2451.1 L1050.7,2452.7 L1051.0,2454.5 L1051.6,2457.3 L1052.2,2459.7 L1052.7,2461.7 L1053.3,2463.4 L1053.5,2463.8 L1053.9,2464.8 L1054.5,2465.9 L1055.1,2466.9 L1055.7,2467.7 L1056.3,2468.3 L1056.3,2468.4 L1056.8,2468.8 L1057.4,2469.3 L1058.0,2469.6 L1058.6,2469.9 L1059.2,2470.1 L1059.2,2470.2 L1059.8,2470.3 L1060.4,2470.5 L1060.9,2470.6 L1061.5,2470.7 L1062.0,2470.8 L1064.8,2471.1 L1067.6,2471.2 L1070.5,2471.2 L1073.3,2471.2 L1076.1,2471.2 L1078.9,2471.2 L1081.8,2471.2 L1084.6,2471.2 L1087.4,2471.2 L1090.3,2471.2 L1093.1,2471.2 L1095.9,2471.2 L1098.7,2471.2 L1101.6,2471.2 L1104.4,2471.2 L1107.2,2471.2 L1110.1,2471.2 L1112.9,2471.2 L1115.7,2471.2 L1118.5,2471.2 L1121.4,2471.2 L1124.2,2471.2 L1127.0,2471.2 L1129.9,2471.2 L1132.7,2471.2 L1135.5,2471.2 L1138.3,2471.2 L1141.2,2471.2 L1144.0,2471.2 L1146.8,2471.2 L1149.6,2471.2 L1152.5,2471.2 L1155.3,2471.2 L1158.1,2471.2 L1161.0,2471.2 L1163.8,2471.2 L1166.6,2471.2 L1169.4,2471.2" fill="none" stroke="#9e0000" stroke-width="2.5" stroke-linejoin="round"/>
<circle cx="946.0" cy="2277.4" r="7.3" fill="#9e0000"/>
<circle cx="968.3" cy="2284.7" r="7.3" fill="#9e0000"/>
<circle cx="990.3" cy="2279.2" r="7.3" fill="#9e0000"/>
<circle cx="1012.8" cy="2281.3" r="7.3" fill="#9e0000"/>
<circle cx="1035.1" cy="2294.4" r="7.3" fill="#9e0000"/>
<circle cx="1057.3" cy="2452.1" r="7.3" fill="#9e0000"/>
<circle cx="1079.6" cy="2468.6" r="7.3" fill="#9e0000"/>
<circle cx="1102.4" cy="2470.2" r="7.3" fill="#9e0000"/>
<circle cx="1124.1" cy="2470.7" r="7.3" fill="#9e0000"/>
<circle cx="1146.9" cy="2470.7" r="7.3" fill="#9e0000"/>
<circle cx="1169.4" cy="2471.2" r="7.3" fill="#9e0000"/>
<path d="M946.0,2249.1 L946.8,2249.1 L947.5,2249.1 L948.3,2249.1 L949.0,2249.1 L949.8,2249.1 L950.5,2249.1 L951.3,2249.1 L952.0,2249.1 L952.8,2249.1 L953.5,2249.1 L954.2,2249.1 L955.0,2249.1 L955.7,2249.1 L956.5,2249.1 L957.2,2249.1 L958.0,2249.1 L958.7,2249.1 L959.5,2249.1 L960.2,2249.1 L961.0,2249.1 L961.7,2249.1 L962.5,2249.1 L963.2,2249.1 L964.0,2249.1 L964.7,2249.1 L965.5,2249.1 L966.2,2249.1 L967.0,2249.1 L967.7,2249.1 L968.4,2249.1 L969.2,2249.1 L969.9,2249.1 L970.7,2249.1 L971.4,2249.1 L972.2,2249.1 L972.9,2249.1 L973.7,2249.1 L974.4,2249.1 L975.2,2249.1 L975.9,2249.1 L976.7,2249.1 L977.4,2249.1 L978.2,2249.1 L978.9,2249.1 L979.7,2249.1 L980.4,2249.1 L981.1,2249.1 L981.9,2249.1 L982.6,2249.1 L983.4,2249.1 L984.1,2249.1 L984.9,2249.1 L985.6,2249.1 L986.4,2249.1 L987.1,2249.1 L987.9,2249.1 L988.6,2249.1 L989.4,2249.1 L990.1,2249.1 L990.9,2249.1 L991.6,2249.1 L992.4,2249.1 L993.1,2249.1 L993.9,2249.1 L994.6,2249.1 L995.3,2249.1 L996.1,2249.1 L996.8,2249.1 L997.6,2249.1 L998.3,2249.1 L999.1,2249.1 L999.8,2249.1 L1000.6,2249.1 L1001.3,2249.1 L1002.1,2249.1 L1002.8,2249.1 L1003.6,2249.1 L1004.3,2249.1 L1005.1,2249.1 L1005.8,2249.1 L1006.6,2249.1 L1007.3,2249.1 L1008.0,2249.1 L1008.8,2249.1 L1009.5,2249.1 L1010.3,2249.1 L1011.0,2249.5 L1011.8,2253.6 L1012.5,2260.5 L1013.3,2268.8 L1014.0,2280.1 L1014.8,2296.2 L1015.5,2313.1 L1016.3,2327.5 L1017.0,2341.4 L1017.8,2354.9 L1018.5,2367.7 L1019.3,2379.1 L1020.0,2388.7 L1020.8,2397.3 L1021.5,2405.3 L1022.2,2412.6 L1023.0,2419.4 L1023.7,2425.4 L1024.5,2430.7 L1025.2,2435.1 L1026.0,2439.1 L1026.7,2442.8 L1027.5,2446.2 L1028.2,2449.2 L1029.0,2451.8 L1029.7,2454.0 L1030.5,2455.7 L1031.2,2457.2 L1032.0,2458.5 L1032.7,2459.8 L1033.5,2460.9 L1034.2,2462.0 L1034.9,2463.0 L1035.7,2463.9 L1036.4,2464.7 L1037.2,2465.5 L1037.9,2466.1 L1038.7,2466.7 L1039.4,2467.2 L1040.2,2467.7 L1040.9,2468.1 L1041.7,2468.6 L1042.4,2469.0 L1043.2,2469.4 L1043.9,2469.8 L1044.7,2470.1 L1045.4,2470.5 L1046.2,2470.8 L1046.9,2471.1 L1047.6,2471.4 L1048.4,2471.6 L1049.1,2471.8 L1049.9,2472.0 L1050.6,2472.2 L1051.4,2472.3 L1052.1,2472.5 L1052.9,2472.5 L1053.6,2472.6 L1054.4,2472.7 L1055.1,2472.8 L1055.9,2472.8 L1056.6,2472.9 L1057.4,2472.9 L1058.1,2473.0 L1058.9,2473.1 L1059.6,2473.1 L1060.4,2473.1 L1061.1,2473.2 L1061.8,2473.2 L1062.6,2473.2 L1063.3,2473.3 L1064.1,2473.3 L1064.8,2473.3 L1065.6,2473.3 L1066.3,2473.3 L1067.1,2473.3 L1067.8,2473.3 L1068.6,2473.3 L1069.3,2473.3 L1070.1,2473.3 L1070.8,2473.3 L1071.6,2473.3 L1072.3,2473.3 L1073.1,2473.3 L1073.8,2473.4 L1074.5,2473.4 L1075.3,2473.4 L1076.0,2473.4 L1076.8,2473.4 L1077.5,2473.4 L1078.3,2473.4 L1079.0,2473.4 L1079.8,2473.4 L1080.5,2473.4 L1081.3,2473.4 L1082.0,2473.4 L1082.8,2473.4 L1083.5,2473.4 L1084.3,2473.4 L1085.0,2473.4 L1085.8,2473.4 L1086.5,2473.4 L1087.3,2473.4 L1088.0,2473.4 L1088.7,2473.4 L1089.5,2473.4 L1090.2,2473.4 L1091.0,2473.4 L1091.7,2473.4 L1092.5,2473.4 L1093.2,2473.4 L1094.0,2473.4 L1094.7,2473.5 L1095.5,2473.5 L1096.2,2473.5 L1097.0,2473.5 L1097.7,2473.5 L1098.5,2473.5 L1099.2,2473.5 L1100.0,2473.5 L1100.7,2473.5 L1101.4,2473.5 L1102.2,2473.5 L1102.9,2473.5 L1103.7,2473.5 L1104.4,2473.5 L1105.2,2473.5 L1105.9,2473.5 L1106.7,2473.5 L1107.4,2473.5 L1108.2,2473.5 L1108.9,2473.5 L1109.7,2473.5 L1110.4,2473.5 L1111.2,2473.5 L1111.9,2473.5 L1112.7,2473.5 L1113.4,2473.5 L1114.2,2473.5 L1114.9,2473.5 L1115.6,2473.5 L1116.4,2473.5 L1117.1,2473.5 L1117.9,2473.5 L1118.6,2473.5 L1119.4,2473.5 L1120.1,2473.5 L1120.9,2473.5 L1121.6,2473.5 L1122.4,2473.5 L1123.1,2473.5 L1123.9,2473.5 L1124.6,2473.5 L1125.4,2473.5 L1126.1,2473.5 L1126.9,2473.5 L1127.6,2473.5 L1128.3,2473.5 L1129.1,2473.5 L1129.8,2473.5 L1130.6,2473.5 L1131.3,2473.5 L1132.1,2473.5 L1132.8,2473.5 L1133.6,2473.5 L1134.3,2473.5 L1135.1,2473.5 L1135.8,2473.5 L1136.6,2473.6 L1137.3,2473.6 L1138.1,2473.6 L1138.8,2473.6 L1139.6,2473.6 L1140.3,2473.6 L1141.1,2473.6 L1141.8,2473.6 L1142.5,2473.6 L1143.3,2473.6 L1144.0,2473.6 L1144.8,2473.6 L1145.5,2473.6 L1146.3,2473.6 L1147.0,2473.6 L1147.8,2473.6 L1148.5,2473.6 L1149.3,2473.6 L1150.0,2473.6 L1150.8,2473.6 L1151.5,2473.6 L1152.3,2473.6 L1153.0,2473.6 L1153.8,2473.6 L1154.5,2473.6 L1155.2,2473.6 L1156.0,2473.6 L1156.7,2473.6 L1157.5,2473.6 L1158.2,2473.6 L1159.0,2473.6 L1159.7,2473.6 L1160.5,2473.6 L1161.2,2473.6 L1162.0,2473.6 L1162.7,2473.6 L1163.5,2473.6 L1164.2,2473.6 L1165.0,2473.6 L1165.7,2473.6 L1166.5,2473.6 L1167.2,2473.6 L1168.0,2473.6 L1168.7,2473.6 L1169.4,2473.6" fill="none" stroke="#000" stroke-width="2.5" stroke-linejoin="round"/>
<circle cx="946.0" cy="2252.0" r="7.3" fill="#000"/>
<circle cx="968.3" cy="2255.1" r="7.3" fill="#000"/>
<circle cx="990.3" cy="2240.7" r="7.3" fill="#000"/>
<circle cx="1012.8" cy="2262.2" r="7.3" fill="#000"/>
<circle cx="1035.1" cy="2459.9" r="7.3" fill="#000"/>
<circle cx="1057.3" cy="2473.3" r="7.3" fill="#000"/>
<circle cx="1079.6" cy="2473.8" r="7.3" fill="#000"/>
<circle cx="1102.4" cy="2473.8" r="7.3" fill="#000"/>
<circle cx="1124.1" cy="2473.8" r="7.3" fill="#000"/>
<circle cx="1146.9" cy="2473.8" r="7.3" fill="#000"/>
<circle cx="1169.4" cy="2473.8" r="7.3" fill="#000"/>
<path d="M912.5,2177.3V2482.3M901.2,2481.7H1216.3M901.5,2177.9H912.5M901.5,2228.9H912.5M901.5,2279.5H912.5M901.5,2330.3H912.5M901.5,2380.8H912.5M901.5,2431.9H912.5M901.5,2481.7H912.5M935.3,2481.7V2492.7M1028.5,2481.7V2492.7M1122.3,2481.7V2492.7M1215.8,2481.7V2492.7" fill="none" stroke="#555" stroke-width="1.3"/>
<text x="891" y="2185.5" font-size="23" text-anchor="end">150</text>
<text x="891" y="2236.5" font-size="23" text-anchor="end">125</text>
<text x="891" y="2287.1" font-size="23" text-anchor="end">100</text>
<text x="891" y="2337.9" font-size="23" text-anchor="end">75</text>
<text x="891" y="2388.4" font-size="23" text-anchor="end">50</text>
<text x="891" y="2439.5" font-size="23" text-anchor="end">25</text>
<text x="891" y="2489.3" font-size="23" text-anchor="end">0</text>
<text xml:space="preserve" x="908.5" y="2520.7" font-size="23" fill="#000" textLength="36.6" lengthAdjust="spacingAndGlyphs">−10</text>
<text xml:space="preserve" x="1011.6" y="2520.7" font-size="23" fill="#000" textLength="25.4" lengthAdjust="spacingAndGlyphs">−8</text>
<text xml:space="preserve" x="1105.4" y="2520.7" font-size="23" fill="#000" textLength="25.4" lengthAdjust="spacingAndGlyphs">−6</text>
<text xml:space="preserve" x="1198.9" y="2520.7" font-size="23" fill="#000" textLength="25.4" lengthAdjust="spacingAndGlyphs">−4</text>
<text xml:space="preserve" x="853.9" y="2108.5" font-size="36" fill="#000" font-weight="bold" stroke="#000" stroke-width="0.7" textLength="23.5" lengthAdjust="spacingAndGlyphs">k</text>
<text xml:space="preserve" x="977" y="2563.5" font-size="27" fill="#000" textLength="37.24" lengthAdjust="spacingAndGlyphs">log</text>
<text xml:space="preserve" x="1014.24" y="2571.87" font-size="20.52" fill="#000" textLength="23.59" lengthAdjust="spacingAndGlyphs">10</text>
<text xml:space="preserve" x="1037.83" y="2563.5" font-size="27" fill="#000" textLength="113.17" lengthAdjust="spacingAndGlyphs">[MTX]; M</text>
<text xml:space="preserve" x="914" y="2476.4" font-size="20.5" fill="#484848" textLength="108.2" lengthAdjust="spacingAndGlyphs">SW620 WT</text>
<line x1="1184" y1="2174.7" x2="1250" y2="2174.7" stroke="#000" stroke-width="1.9" stroke-linecap="butt"/>
<circle cx="1216.8" cy="2174.7" r="7.3" fill="#000"/>
<text xml:space="preserve" x="1266.3" y="2181.3" font-size="22" fill="#000" textLength="73.7" lengthAdjust="spacingAndGlyphs">Vehicle</text>
<line x1="1184" y1="2216.4" x2="1250" y2="2216.4" stroke="#9e0000" stroke-width="1.9" stroke-linecap="butt"/>
<circle cx="1216.8" cy="2216.4" r="7.3" fill="#9e0000"/>
<text xml:space="preserve" x="1266.3" y="2223" font-size="22" fill="#000" textLength="28.7" lengthAdjust="spacingAndGlyphs">HX</text>
<line x1="1184" y1="2257.7" x2="1250" y2="2257.7" stroke="#ff8585" stroke-width="1.9" stroke-linecap="butt"/>
<circle cx="1216.8" cy="2257.7" r="7.3" fill="#ff8585"/>
<text xml:space="preserve" x="1266.3" y="2264.3" font-size="22" fill="#000" textLength="172.2" lengthAdjust="spacingAndGlyphs">HX + AICAr 10 µM</text>
<line x1="1184" y1="2299.1" x2="1250" y2="2299.1" stroke="#790b9a" stroke-width="1.9" stroke-linecap="butt"/>
<circle cx="1216.8" cy="2299.1" r="7.3" fill="#790b9a"/>
<text xml:space="preserve" x="1266.3" y="2305.7" font-size="22" fill="#000" textLength="176.7" lengthAdjust="spacingAndGlyphs">HX + AICAr 30 µM</text>
<line x1="1184" y1="2341" x2="1250" y2="2341" stroke="#808080" stroke-width="1.9" stroke-linecap="butt"/>
<circle cx="1216.8" cy="2341" r="7.3" fill="#808080"/>
<text xml:space="preserve" x="1266.3" y="2347.6" font-size="22" fill="#000" textLength="176.2" lengthAdjust="spacingAndGlyphs">HX + AICAr 50 µM</text>
<line x1="1184" y1="2382.2" x2="1250" y2="2382.2" stroke="#00bf00" stroke-width="1.9" stroke-linecap="butt"/>
<circle cx="1216.8" cy="2382.2" r="7.3" fill="#00bf00"/>
<text xml:space="preserve" x="1266.3" y="2388.8" font-size="22" fill="#000" textLength="186.3" lengthAdjust="spacingAndGlyphs">HX + AICAr 100 µM</text>
<text xml:space="preserve" x="1542" y="2108.4" font-size="36" fill="#000" font-weight="bold" stroke="#000" stroke-width="0.7" textLength="13.3" lengthAdjust="spacingAndGlyphs">l</text>
<text transform="translate(1564 2547.4) rotate(-90)" x="0" y="0" font-size="27" textLength="432.4" lengthAdjust="spacingAndGlyphs">Formate M + 1 (fmol pl_cells per h)</text>
<rect x="1639.3" y="2389.8" width="24.4" height="93.5" fill="#d9d9d9" stroke="#000" stroke-width="1.9"/>
<rect x="1678.8" y="2339.5" width="24.4" height="143.8" fill="#d9d9d9" stroke="#000" stroke-width="1.9"/>
<rect x="1718.3" y="2387.9" width="24.4" height="95.4" fill="#d9d9d9" stroke="#000" stroke-width="1.9"/>
<rect x="1757.5" y="2330.9" width="24.4" height="152.4" fill="#d9d9d9" stroke="#000" stroke-width="1.9"/>
<rect x="1797.3" y="2320.8" width="24.4" height="162.5" fill="#d9d9d9" stroke="#000" stroke-width="1.9"/>
<rect x="1836.5" y="2304.1" width="24.4" height="179.2" fill="#d9d9d9" stroke="#000" stroke-width="1.9"/>
<rect x="1876.0" y="2335.7" width="24.4" height="147.6" fill="#d9d9d9" stroke="#000" stroke-width="1.9"/>
<rect x="1915.5" y="2313.4" width="24.4" height="169.9" fill="#d9d9d9" stroke="#000" stroke-width="1.9"/>
<rect x="1954.6" y="2298.9" width="24.4" height="184.4" fill="#d9d9d9" stroke="#000" stroke-width="1.9"/>
<rect x="1994.1" y="2248.2" width="24.4" height="235.1" fill="#d9d9d9" stroke="#000" stroke-width="1.9"/>
<rect x="2033.6" y="2325.3" width="24.4" height="158.0" fill="#d9d9d9" stroke="#000" stroke-width="1.9"/>
<rect x="2072.7" y="2256.4" width="24.4" height="226.9" fill="#d9d9d9" stroke="#000" stroke-width="1.9"/>
<path d="M1651.5,2369.3V2406.5M1644.5,2369.3H1658.5M1644.5,2406.5H1658.5M1691.0,2311.5V2366.3M1684.0,2311.5H1698.0M1684.0,2366.3H1698.0M1730.5,2372.3V2402.8M1723.5,2372.3H1737.5M1723.5,2402.8H1737.5M1769.7,2292.9V2364.8M1762.7,2292.9H1776.7M1762.7,2364.8H1776.7M1809.5,2304.1V2332.0M1802.5,2304.1H1816.5M1802.5,2332.0H1816.5M1848.7,2264.2V2343.2M1841.7,2264.2H1855.7M1841.7,2343.2H1855.7M1888.2,2317.1V2354.4M1881.2,2317.1H1895.2M1881.2,2354.4H1895.2M1927.7,2238.1V2386.1M1920.7,2238.1H1934.7M1920.7,2386.1H1934.7M1966.8,2271.3V2324.6M1959.8,2271.3H1973.8M1959.8,2324.6H1973.8M2006.3,2212.8V2281.0M1999.3,2212.8H2013.3M1999.3,2281.0H2013.3M2045.8,2305.9V2340.2M2038.8,2305.9H2052.8M2038.8,2340.2H2052.8M2084.9,2224.0V2284.3M2077.9,2224.0H2091.9M2077.9,2284.3H2091.9" fill="none" stroke="#000" stroke-width="1.9"/>
<circle cx="1651.5" cy="2367.4" r="6" fill="#000"/>
<circle cx="1644.8" cy="2399.8" r="6" fill="#000"/>
<circle cx="1659.0" cy="2398.4" r="6" fill="#000"/>
<circle cx="1691.0" cy="2307.1" r="6" fill="#000"/>
<circle cx="1684.0" cy="2358.9" r="6" fill="#000"/>
<circle cx="1698.1" cy="2350.7" r="6" fill="#000"/>
<circle cx="1723.8" cy="2376.7" r="6" fill="#000"/>
<circle cx="1738.0" cy="2381.2" r="6" fill="#000"/>
<circle cx="1730.5" cy="2402.8" r="6" fill="#000"/>
<circle cx="1769.7" cy="2288.1" r="6" fill="#000"/>
<circle cx="1769.7" cy="2341.3" r="6" fill="#000"/>
<circle cx="1769.7" cy="2357.4" r="6" fill="#000"/>
<circle cx="1809.5" cy="2304.8" r="6" fill="#000"/>
<circle cx="1803.2" cy="2326.4" r="6" fill="#000"/>
<circle cx="1816.2" cy="2326.4" r="6" fill="#000"/>
<circle cx="1848.7" cy="2264.9" r="6" fill="#000"/>
<circle cx="1848.7" cy="2300.3" r="6" fill="#000"/>
<circle cx="1848.7" cy="2343.2" r="6" fill="#000"/>
<circle cx="1888.2" cy="2316.0" r="6" fill="#000"/>
<circle cx="1888.2" cy="2335.0" r="6" fill="#000"/>
<circle cx="1888.2" cy="2353.3" r="6" fill="#000"/>
<circle cx="1927.7" cy="2254.5" r="6" fill="#000"/>
<circle cx="1927.7" cy="2285.8" r="6" fill="#000"/>
<circle cx="1927.7" cy="2396.1" r="6" fill="#000"/>
<circle cx="1959.7" cy="2279.9" r="6" fill="#000"/>
<circle cx="1973.9" cy="2285.4" r="6" fill="#000"/>
<circle cx="1966.8" cy="2327.6" r="6" fill="#000"/>
<circle cx="1999.2" cy="2225.8" r="6" fill="#000"/>
<circle cx="2013.4" cy="2228.8" r="6" fill="#000"/>
<circle cx="2006.3" cy="2286.2" r="6" fill="#000"/>
<circle cx="2045.8" cy="2305.9" r="6" fill="#000"/>
<circle cx="2039.1" cy="2336.9" r="6" fill="#000"/>
<circle cx="2052.9" cy="2330.2" r="6" fill="#000"/>
<circle cx="2084.9" cy="2224.7" r="6" fill="#000"/>
<circle cx="2084.9" cy="2256.4" r="6" fill="#000"/>
<circle cx="2084.9" cy="2284.3" r="6" fill="#000"/>
<path d="M1625.5,2178.6V2484.0M1615.8,2483.3H2111.7M1615.8,2179.2H1625.5M1615.8,2255.3H1625.5M1615.8,2331.3H1625.5M1615.8,2407.3H1625.5M1615.8,2483.3H1625.5" fill="none" stroke="#000" stroke-width="1.3"/>
<text x="1605.5" y="2187.6" font-size="23" text-anchor="end">8</text>
<text x="1605.5" y="2263.7" font-size="23" text-anchor="end">6</text>
<text x="1605.5" y="2339.7" font-size="23" text-anchor="end">4</text>
<text x="1605.5" y="2415.7" font-size="23" text-anchor="end">2</text>
<text x="1605.5" y="2491.7" font-size="23" text-anchor="end">0</text>
<path d="M1651.5,2483.3V2493.8M1691.0,2483.3V2493.8M1730.5,2483.3V2493.8M1769.7,2483.3V2493.8M1809.5,2483.3V2493.8M1848.7,2483.3V2493.8M1888.2,2483.3V2493.8M1927.7,2483.3V2493.8M1966.8,2483.3V2493.8M2006.3,2483.3V2493.8M2045.8,2483.3V2493.8M2084.9,2483.3V2493.8" fill="none" stroke="#444" stroke-width="1.3"/>
<text x="1651.5" y="2521.5" font-size="23" text-anchor="middle">−</text>
<text x="1651.5" y="2556.8" font-size="23" text-anchor="middle">−</text>
<text x="1691.0" y="2521.5" font-size="23" text-anchor="middle">+</text>
<text x="1691.0" y="2556.8" font-size="23" text-anchor="middle">−</text>
<text x="1730.5" y="2521.5" font-size="23" text-anchor="middle">−</text>
<text x="1730.5" y="2556.8" font-size="23" text-anchor="middle">+</text>
<text x="1769.7" y="2521.5" font-size="23" text-anchor="middle">+</text>
<text x="1769.7" y="2556.8" font-size="23" text-anchor="middle">+</text>
<text x="1809.5" y="2521.5" font-size="23" text-anchor="middle">−</text>
<text x="1809.5" y="2556.8" font-size="23" text-anchor="middle">−</text>
<text x="1848.7" y="2521.5" font-size="23" text-anchor="middle">+</text>
<text x="1848.7" y="2556.8" font-size="23" text-anchor="middle">−</text>
<text x="1888.2" y="2521.5" font-size="23" text-anchor="middle">−</text>
<text x="1888.2" y="2556.8" font-size="23" text-anchor="middle">+</text>
<text x="1927.7" y="2521.5" font-size="23" text-anchor="middle">+</text>
<text x="1927.7" y="2556.8" font-size="23" text-anchor="middle">+</text>
<text x="1966.8" y="2521.5" font-size="23" text-anchor="middle">−</text>
<text x="1966.8" y="2556.8" font-size="23" text-anchor="middle">−</text>
<text x="2006.3" y="2521.5" font-size="23" text-anchor="middle">+</text>
<text x="2006.3" y="2556.8" font-size="23" text-anchor="middle">−</text>
<text x="2045.8" y="2521.5" font-size="23" text-anchor="middle">−</text>
<text x="2045.8" y="2556.8" font-size="23" text-anchor="middle">+</text>
<text x="2084.9" y="2521.5" font-size="23" text-anchor="middle">+</text>
<text x="2084.9" y="2556.8" font-size="23" text-anchor="middle">+</text>
<text xml:space="preserve" x="2116.3" y="2522" font-size="23.5" fill="#000" textLength="37.1" lengthAdjust="spacingAndGlyphs">HX</text>
<text xml:space="preserve" x="2116.3" y="2557.5" font-size="23.5" fill="#000" textLength="45.7" lengthAdjust="spacingAndGlyphs">Thy</text>
<line x1="1643.7" y1="2574.2" x2="1774.5" y2="2574.2" stroke="#000" stroke-width="1.8" stroke-linecap="butt"/>
<line x1="1800.6" y1="2574.2" x2="1931.8" y2="2574.2" stroke="#000" stroke-width="1.8" stroke-linecap="butt"/>
<line x1="1963.4" y1="2574.2" x2="2094.6" y2="2574.2" stroke="#000" stroke-width="1.8" stroke-linecap="butt"/>
<text xml:space="preserve" x="1668.8" y="2607.8" font-size="27" fill="#000" textLength="80.6" lengthAdjust="spacingAndGlyphs">DMSO</text>
<text xml:space="preserve" x="1818.2" y="2607.8" font-size="27" fill="#000" textLength="95.8" lengthAdjust="spacingAndGlyphs">TH9619</text>
<text xml:space="preserve" x="1980" y="2607.8" font-size="27" fill="#000" textLength="99" lengthAdjust="spacingAndGlyphs">TH9975</text>
<g transform="translate(1698.3 2198.3) rotate(-90)">
<text xml:space="preserve" x="0" y="0" font-size="21.5" fill="#000" font-style="italic" textLength="14.05" lengthAdjust="spacingAndGlyphs">P</text>
<text xml:space="preserve" x="14.05" y="0" font-size="21.5" fill="#000" textLength="88.45" lengthAdjust="spacingAndGlyphs"> = 0.0379</text>
</g>
<g transform="translate(1737.8 2198.3) rotate(-90)">
<text xml:space="preserve" x="0" y="0" font-size="21.5" fill="#000" font-style="italic" textLength="14.05" lengthAdjust="spacingAndGlyphs">P</text>
<text xml:space="preserve" x="14.05" y="0" font-size="21.5" fill="#000" textLength="88.45" lengthAdjust="spacingAndGlyphs"> = 0.9998</text>
</g>
<g transform="translate(1777.0 2198.3) rotate(-90)">
<text xml:space="preserve" x="0" y="0" font-size="21.5" fill="#000" font-style="italic" textLength="14.05" lengthAdjust="spacingAndGlyphs">P</text>
<text xml:space="preserve" x="14.05" y="0" font-size="21.5" fill="#000" textLength="88.45" lengthAdjust="spacingAndGlyphs"> = 0.0931</text>
</g>
<g transform="translate(1816.8 2198.3) rotate(-90)">
<text xml:space="preserve" x="0" y="0" font-size="21.5" fill="#000" font-style="italic" textLength="14.05" lengthAdjust="spacingAndGlyphs">P</text>
<text xml:space="preserve" x="14.05" y="0" font-size="21.5" fill="#000" textLength="88.45" lengthAdjust="spacingAndGlyphs"> = 0.0067</text>
</g>
<g transform="translate(1856.0 2198.3) rotate(-90)">
<text xml:space="preserve" x="0" y="0" font-size="21.5" fill="#000" font-style="italic" textLength="14.05" lengthAdjust="spacingAndGlyphs">P</text>
<text xml:space="preserve" x="14.05" y="0" font-size="21.5" fill="#000" textLength="88.45" lengthAdjust="spacingAndGlyphs"> = 0.0861</text>
</g>
<g transform="translate(1895.5 2198.3) rotate(-90)">
<text xml:space="preserve" x="0" y="0" font-size="21.5" fill="#000" font-style="italic" textLength="14.05" lengthAdjust="spacingAndGlyphs">P</text>
<text xml:space="preserve" x="14.05" y="0" font-size="21.5" fill="#000" textLength="88.45" lengthAdjust="spacingAndGlyphs"> = 0.0293</text>
</g>
<g transform="translate(1935.0 2198.3) rotate(-90)">
<text xml:space="preserve" x="0" y="0" font-size="21.5" fill="#000" font-style="italic" textLength="14.05" lengthAdjust="spacingAndGlyphs">P</text>
<text xml:space="preserve" x="14.05" y="0" font-size="21.5" fill="#000" textLength="88.45" lengthAdjust="spacingAndGlyphs"> = 0.4768</text>
</g>
<g transform="translate(1974.1 2198.3) rotate(-90)">
<text xml:space="preserve" x="0" y="0" font-size="21.5" fill="#000" font-style="italic" textLength="14.05" lengthAdjust="spacingAndGlyphs">P</text>
<text xml:space="preserve" x="14.05" y="0" font-size="21.5" fill="#000" textLength="88.45" lengthAdjust="spacingAndGlyphs"> = 0.0624</text>
</g>
<g transform="translate(2013.6 2198.3) rotate(-90)">
<text xml:space="preserve" x="0" y="0" font-size="21.5" fill="#000" font-style="italic" textLength="14.05" lengthAdjust="spacingAndGlyphs">P</text>
<text xml:space="preserve" x="14.05" y="0" font-size="21.5" fill="#000" textLength="88.45" lengthAdjust="spacingAndGlyphs"> = 0.0463</text>
</g>
<g transform="translate(2053.1 2198.3) rotate(-90)">
<text xml:space="preserve" x="0" y="0" font-size="21.5" fill="#000" font-style="italic" textLength="14.05" lengthAdjust="spacingAndGlyphs">P</text>
<text xml:space="preserve" x="14.05" y="0" font-size="21.5" fill="#000" textLength="88.45" lengthAdjust="spacingAndGlyphs"> = 0.0069</text>
</g>
<g transform="translate(2092.2 2198.3) rotate(-90)">
<text xml:space="preserve" x="0" y="0" font-size="21.5" fill="#000" font-style="italic" textLength="14.05" lengthAdjust="spacingAndGlyphs">P</text>
<text xml:space="preserve" x="14.05" y="0" font-size="21.5" fill="#000" textLength="88.45" lengthAdjust="spacingAndGlyphs"> = 0.0761</text>
</g>
</svg>
</body></html>
